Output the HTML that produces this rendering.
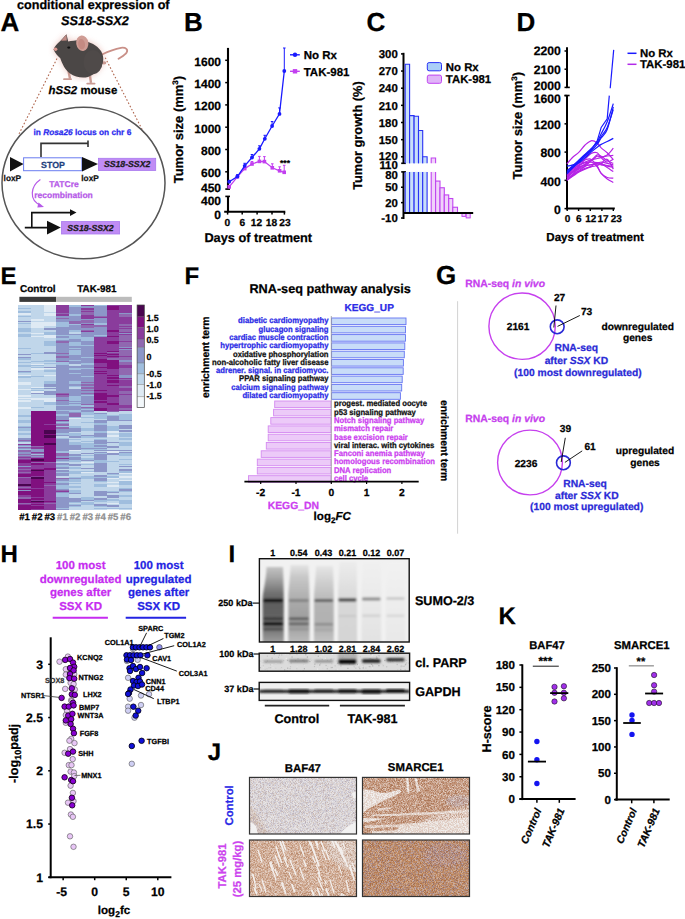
<!DOCTYPE html>
<html><head><meta charset="utf-8"><style>
html,body{margin:0;padding:0;background:#fff;}
svg{display:block;font-family:"Liberation Sans", sans-serif;text-rendering:geometricPrecision;}
</style></head><body>
<svg width="685" height="919" viewBox="0 0 685 919">
<defs>
<filter id="blur1" x="-20%" y="-20%" width="140%" height="140%"><feGaussianBlur stdDeviation="1"/></filter>
<filter id="blur2" x="-20%" y="-50%" width="140%" height="200%"><feGaussianBlur stdDeviation="1.6"/></filter>
<filter id="blur3" x="-10%" y="-10%" width="120%" height="120%"><feGaussianBlur stdDeviation="3"/></filter>
</defs>
<rect width="685" height="919" fill="#fff"/>
<text x="0.50" y="31.00" font-size="26" font-weight="bold" text-anchor="start" fill="#000" stroke="#000" stroke-width="0.25" >A</text>
<text x="17.00" y="9.20" font-size="12.6" font-weight="bold" text-anchor="start" fill="#000" stroke="#000" stroke-width="0.25" >conditional expression of</text>
<text x="61.00" y="24.60" font-size="12.7" font-weight="bold" text-anchor="start" fill="#000" font-style="italic" stroke="#000" stroke-width="0.25" >SS18-SSX2</text>
<line x1="57.00" y1="58.50" x2="18.60" y2="134.70" stroke="#b0674f" stroke-width="1.1" stroke-dasharray="1.6 2"/>
<line x1="105.20" y1="57.70" x2="144.60" y2="134.30" stroke="#b0674f" stroke-width="1.1" stroke-dasharray="1.6 2"/>
<path d="M53.5,49.4 C55,46 57,44 60.3,41 L67,34.3 L68.2,41.6 C72,41 78,40 83,40.5 C90,42 97,45 101,51 C104,56 104,62 101,67 C98,72 93,75 88,77 C82,78.5 75,77 70,73.5 C65,70 62,63 60.3,58.2 C58,56 55,53 53.5,49.4 Z" fill="#e8b0a8" opacity="0.75" filter="url(#blur3)"/>
<path d="M102,54.5 C107,52 114,49 121,47.8 C126,47.3 128.5,49.5 126.5,52.7 C125,55 121,57 118.5,58.8" stroke="#c99088" fill="none" stroke-width="1.8" stroke-linecap="round"/>
<path d="M68.5,71 L70,78.8 M90,76 L91,82.8" stroke="#c99a92" fill="none" stroke-width="2.4" />
<path d="M64,79.2 L71,79.2 M87.2,83.6 L94.6,83.6" stroke="#c99a92" fill="none" stroke-width="1.8" stroke-linecap="round"/>
<ellipse cx="104" cy="62.8" rx="2.4" ry="1.6" fill="#c99a92"/>
<path d="M53.5,49.4 C55,46 57,44 60.3,41 L66.5,34.3 L68.2,41.6 C72,41 78,40 83,40.5 C90,42 97,45 101,51 C104,56 104,62 101,67 C98,72 93,75 88,77 C82,78.5 75,77 70,73.5 C65,70 62,63 60.3,58.2 C58,56 55,53 53.5,49.4 Z" stroke="none" fill="#4b4746" stroke-width="1" />
<ellipse cx="93" cy="62" rx="9.5" ry="12" fill="#4f4a49"/>
<path d="M61,40.8 L66.5,34.6 L66.8,40.5 Z" stroke="none" fill="#c08a84" stroke-width="1" />
<circle cx="55.60" cy="49.20" r="1.80" fill="#d9968e" stroke="none" stroke-width="1" />
<ellipse cx="68.8" cy="47.6" rx="1.6" ry="1.1" fill="#111"/>
<ellipse cx="82.3" cy="43.2" rx="6.1" ry="7.8" fill="#cf9c94" transform="rotate(-8 82.3 43.2)"/>
<ellipse cx="81.6" cy="44.2" rx="3.4" ry="5.2" fill="#c48a82" transform="rotate(-8 81.6 44.2)"/>
<text x="48.60" y="94.10" font-size="11.45" font-weight="bold" text-anchor="start" fill="#000" stroke="#000" stroke-width="0.25" ><tspan font-style="italic">hSS2</tspan> mouse</text>
<ellipse cx="83.5" cy="183" rx="81.5" ry="75.8" fill="none" stroke="#555" stroke-width="1.5"/>
<text x="33.50" y="135.20" font-size="8.3" font-weight="bold" text-anchor="start" fill="#2b2bee" stroke="#2b2bee" stroke-width="0.25" >in <tspan font-style="italic">Rosa26</tspan> locus on chr 6</text>
<path d="M41,157 V143.4 H88 M88,140.5 V147" stroke="#333" fill="none" stroke-width="1.6" />
<polygon points="10,157 23.6,164 10,171.4" fill="#111"/>
<rect x="23.60" y="157.80" width="58.30" height="12.90" fill="#fff" stroke="#6a7cf0" stroke-width="1" />
<text x="53.00" y="167.60" font-size="8.8" font-weight="bold" text-anchor="middle" fill="#1f3f7e" stroke="#1f3f7e" stroke-width="0.25" >STOP</text>
<polygon points="82,157 98,164 82,171.4" fill="#111"/>
<rect x="98.50" y="158.30" width="57.20" height="12.20" fill="#c08cf5" stroke="#a878ee" stroke-width="0.8" />
<text x="127.10" y="167.40" font-size="8.7" font-weight="bold" text-anchor="middle" fill="#1a1a1a" font-style="italic" stroke="#1a1a1a" stroke-width="0.25" >SS18-SSX2</text>
<text x="3.60" y="181.00" font-size="8.3" font-weight="bold" text-anchor="start" fill="#111" stroke="#111" stroke-width="0.25" >loxP</text>
<text x="81.30" y="181.00" font-size="8.3" font-weight="bold" text-anchor="start" fill="#111" stroke="#111" stroke-width="0.25" >loxP</text>
<path d="M40.4,179.6 C31,186 28,200 41,205.5" stroke="#b65ae8" fill="none" stroke-width="1.2" />
<polygon points="38.5,202.5 44,207 37.3,207.5" fill="#b65ae8"/>
<text x="64.00" y="187.30" font-size="8.5" font-weight="bold" text-anchor="middle" fill="#b65ae8" stroke="#b65ae8" stroke-width="0.25" >TATCre</text>
<text x="63.50" y="198.00" font-size="8.5" font-weight="bold" text-anchor="middle" fill="#b65ae8" stroke="#b65ae8" stroke-width="0.25" >recombination</text>
<path d="M24.8,227.6 H48 M31.8,227.6 V212.6 H71" stroke="#111" fill="none" stroke-width="1.6" />
<polygon points="70,209.2 76.5,212.6 70,216" fill="#111"/>
<polygon points="47,220.8 60.8,227.6 47,234.5" fill="#111"/>
<rect x="61.50" y="221.60" width="58.10" height="12.40" fill="#c08cf5" stroke="#a878ee" stroke-width="0.8" />
<text x="90.50" y="230.90" font-size="8.7" font-weight="bold" text-anchor="middle" fill="#1a1a1a" font-style="italic" stroke="#1a1a1a" stroke-width="0.25" >SS18-SSX2</text>
<text x="184.00" y="30.60" font-size="26" font-weight="bold" text-anchor="start" fill="#000" stroke="#000" stroke-width="0.25" >B</text>
<line x1="228.00" y1="47.90" x2="228.00" y2="189.10" stroke="#000" stroke-width="2.1" />
<line x1="225.30" y1="189.10" x2="230.00" y2="189.10" stroke="#000" stroke-width="1.6" />
<line x1="225.20" y1="60.30" x2="228.00" y2="60.30" stroke="#000" stroke-width="1.5" />
<text x="221.00" y="65.80" font-size="12" font-weight="bold" text-anchor="end" fill="#000" stroke="#000" stroke-width="0.25" >1600</text>
<line x1="225.20" y1="82.60" x2="228.00" y2="82.60" stroke="#000" stroke-width="1.5" />
<text x="221.00" y="88.10" font-size="12" font-weight="bold" text-anchor="end" fill="#000" stroke="#000" stroke-width="0.25" >1400</text>
<line x1="225.20" y1="104.90" x2="228.00" y2="104.90" stroke="#000" stroke-width="1.5" />
<text x="221.00" y="110.40" font-size="12" font-weight="bold" text-anchor="end" fill="#000" stroke="#000" stroke-width="0.25" >1200</text>
<line x1="225.20" y1="127.20" x2="228.00" y2="127.20" stroke="#000" stroke-width="1.5" />
<text x="221.00" y="132.70" font-size="12" font-weight="bold" text-anchor="end" fill="#000" stroke="#000" stroke-width="0.25" >1000</text>
<line x1="225.20" y1="149.50" x2="228.00" y2="149.50" stroke="#000" stroke-width="1.5" />
<text x="221.00" y="155.00" font-size="12" font-weight="bold" text-anchor="end" fill="#000" stroke="#000" stroke-width="0.25" >800</text>
<line x1="225.20" y1="171.80" x2="228.00" y2="171.80" stroke="#000" stroke-width="1.5" />
<text x="221.00" y="177.30" font-size="12" font-weight="bold" text-anchor="end" fill="#000" stroke="#000" stroke-width="0.25" >600</text>
<text x="221.00" y="191.90" font-size="12" font-weight="bold" text-anchor="end" fill="#000" stroke="#000" stroke-width="0.25" >450</text>
<line x1="228.00" y1="196.40" x2="228.00" y2="212.30" stroke="#000" stroke-width="2.1" />
<line x1="225.30" y1="196.40" x2="230.00" y2="196.40" stroke="#000" stroke-width="1.6" />
<text x="221.00" y="204.80" font-size="12" font-weight="bold" text-anchor="end" fill="#000" stroke="#000" stroke-width="0.25" >400</text>
<text x="221.00" y="218.60" font-size="12" font-weight="bold" text-anchor="end" fill="#000" stroke="#000" stroke-width="0.25" >0</text>
<line x1="224.20" y1="211.80" x2="285.30" y2="211.80" stroke="#000" stroke-width="2.1" />
<line x1="227.60" y1="211.80" x2="227.60" y2="214.60" stroke="#000" stroke-width="1.5" />
<text x="227.40" y="225.90" font-size="10.2" font-weight="bold" text-anchor="middle" fill="#000" stroke="#000" stroke-width="0.25" >0</text>
<line x1="242.20" y1="211.80" x2="242.20" y2="214.60" stroke="#000" stroke-width="1.5" />
<text x="242.40" y="225.90" font-size="10.2" font-weight="bold" text-anchor="middle" fill="#000" stroke="#000" stroke-width="0.25" >6</text>
<line x1="257.10" y1="211.80" x2="257.10" y2="214.60" stroke="#000" stroke-width="1.5" />
<text x="256.50" y="225.90" font-size="10.2" font-weight="bold" text-anchor="middle" fill="#000" stroke="#000" stroke-width="0.25" >12</text>
<line x1="272.00" y1="211.80" x2="272.00" y2="214.60" stroke="#000" stroke-width="1.5" />
<text x="271.50" y="225.90" font-size="10.2" font-weight="bold" text-anchor="middle" fill="#000" stroke="#000" stroke-width="0.25" >18</text>
<line x1="284.40" y1="211.80" x2="284.40" y2="214.60" stroke="#000" stroke-width="1.5" />
<text x="284.90" y="225.90" font-size="10.2" font-weight="bold" text-anchor="middle" fill="#000" stroke="#000" stroke-width="0.25" >23</text>
<text x="204.40" y="241.90" font-size="12.75" font-weight="bold" text-anchor="start" fill="#000" stroke="#000" stroke-width="0.25" >Days of treatment</text>
<text x="0.00" y="0.00" font-size="13" font-weight="bold" text-anchor="middle" fill="#000" stroke="#000" stroke-width="0.25" transform="translate(183.2 129.6) rotate(-90)">Tumor size (mm<tspan font-size="8" dy="-5">3</tspan><tspan dy="5">)</tspan></text>
<path d="M229.2,186.9 L237.4,176.8 L244.7,168.6 L252.0,164.0 L259.4,161.4 L264.4,161.6 L272.3,167.8 L279.6,170.8 L284.2,172.3" stroke="#c23ff0" fill="none" stroke-width="1.3" />
<line x1="229.20" y1="186.90" x2="229.20" y2="185.40" stroke="#c23ff0" stroke-width="1" />
<line x1="227.90" y1="185.40" x2="230.50" y2="185.40" stroke="#c23ff0" stroke-width="1" />
<rect x="227.40" y="185.10" width="3.60" height="3.60" fill="#c23ff0" stroke="none" stroke-width="1" />
<line x1="237.40" y1="176.80" x2="237.40" y2="175.30" stroke="#c23ff0" stroke-width="1" />
<line x1="236.10" y1="175.30" x2="238.70" y2="175.30" stroke="#c23ff0" stroke-width="1" />
<rect x="235.60" y="175.00" width="3.60" height="3.60" fill="#c23ff0" stroke="none" stroke-width="1" />
<line x1="244.70" y1="168.60" x2="244.70" y2="166.60" stroke="#c23ff0" stroke-width="1" />
<line x1="243.40" y1="166.60" x2="246.00" y2="166.60" stroke="#c23ff0" stroke-width="1" />
<rect x="242.90" y="166.80" width="3.60" height="3.60" fill="#c23ff0" stroke="none" stroke-width="1" />
<line x1="252.00" y1="164.00" x2="252.00" y2="161.50" stroke="#c23ff0" stroke-width="1" />
<line x1="250.70" y1="161.50" x2="253.30" y2="161.50" stroke="#c23ff0" stroke-width="1" />
<rect x="250.20" y="162.20" width="3.60" height="3.60" fill="#c23ff0" stroke="none" stroke-width="1" />
<line x1="259.40" y1="161.40" x2="259.40" y2="156.40" stroke="#c23ff0" stroke-width="1" />
<line x1="258.10" y1="156.40" x2="260.70" y2="156.40" stroke="#c23ff0" stroke-width="1" />
<rect x="257.60" y="159.60" width="3.60" height="3.60" fill="#c23ff0" stroke="none" stroke-width="1" />
<line x1="264.40" y1="161.60" x2="264.40" y2="156.60" stroke="#c23ff0" stroke-width="1" />
<line x1="263.10" y1="156.60" x2="265.70" y2="156.60" stroke="#c23ff0" stroke-width="1" />
<rect x="262.60" y="159.80" width="3.60" height="3.60" fill="#c23ff0" stroke="none" stroke-width="1" />
<line x1="272.30" y1="167.80" x2="272.30" y2="163.80" stroke="#c23ff0" stroke-width="1" />
<line x1="271.00" y1="163.80" x2="273.60" y2="163.80" stroke="#c23ff0" stroke-width="1" />
<rect x="270.50" y="166.00" width="3.60" height="3.60" fill="#c23ff0" stroke="none" stroke-width="1" />
<line x1="279.60" y1="170.80" x2="279.60" y2="166.80" stroke="#c23ff0" stroke-width="1" />
<line x1="278.30" y1="166.80" x2="280.90" y2="166.80" stroke="#c23ff0" stroke-width="1" />
<rect x="277.80" y="169.00" width="3.60" height="3.60" fill="#c23ff0" stroke="none" stroke-width="1" />
<line x1="284.20" y1="172.30" x2="284.20" y2="165.30" stroke="#c23ff0" stroke-width="1" />
<line x1="282.90" y1="165.30" x2="285.50" y2="165.30" stroke="#c23ff0" stroke-width="1" />
<rect x="282.40" y="170.50" width="3.60" height="3.60" fill="#c23ff0" stroke="none" stroke-width="1" />
<path d="M229.2,181.8 L237.4,176.6 L244.7,165.8 L252.0,157.5 L259.4,148.8 L264.8,138.8 L272.1,126.0 L279.5,113.9 L284.3,71.0" stroke="#1a1aff" fill="none" stroke-width="1.3" />
<line x1="229.20" y1="181.80" x2="229.20" y2="180.30" stroke="#1a1aff" stroke-width="1" />
<line x1="227.90" y1="180.30" x2="230.50" y2="180.30" stroke="#1a1aff" stroke-width="1" />
<circle cx="229.20" cy="181.80" r="1.90" fill="#1a1aff" stroke="none" stroke-width="1" />
<line x1="237.40" y1="176.60" x2="237.40" y2="174.60" stroke="#1a1aff" stroke-width="1" />
<line x1="236.10" y1="174.60" x2="238.70" y2="174.60" stroke="#1a1aff" stroke-width="1" />
<circle cx="237.40" cy="176.60" r="1.90" fill="#1a1aff" stroke="none" stroke-width="1" />
<line x1="244.70" y1="165.80" x2="244.70" y2="163.30" stroke="#1a1aff" stroke-width="1" />
<line x1="243.40" y1="163.30" x2="246.00" y2="163.30" stroke="#1a1aff" stroke-width="1" />
<circle cx="244.70" cy="165.80" r="1.90" fill="#1a1aff" stroke="none" stroke-width="1" />
<line x1="252.00" y1="157.50" x2="252.00" y2="154.50" stroke="#1a1aff" stroke-width="1" />
<line x1="250.70" y1="154.50" x2="253.30" y2="154.50" stroke="#1a1aff" stroke-width="1" />
<circle cx="252.00" cy="157.50" r="1.90" fill="#1a1aff" stroke="none" stroke-width="1" />
<line x1="259.40" y1="148.80" x2="259.40" y2="145.80" stroke="#1a1aff" stroke-width="1" />
<line x1="258.10" y1="145.80" x2="260.70" y2="145.80" stroke="#1a1aff" stroke-width="1" />
<circle cx="259.40" cy="148.80" r="1.90" fill="#1a1aff" stroke="none" stroke-width="1" />
<line x1="264.80" y1="138.80" x2="264.80" y2="135.30" stroke="#1a1aff" stroke-width="1" />
<line x1="263.50" y1="135.30" x2="266.10" y2="135.30" stroke="#1a1aff" stroke-width="1" />
<circle cx="264.80" cy="138.80" r="1.90" fill="#1a1aff" stroke="none" stroke-width="1" />
<line x1="272.10" y1="126.00" x2="272.10" y2="121.50" stroke="#1a1aff" stroke-width="1" />
<line x1="270.80" y1="121.50" x2="273.40" y2="121.50" stroke="#1a1aff" stroke-width="1" />
<circle cx="272.10" cy="126.00" r="1.90" fill="#1a1aff" stroke="none" stroke-width="1" />
<line x1="279.50" y1="113.90" x2="279.50" y2="107.90" stroke="#1a1aff" stroke-width="1" />
<line x1="278.20" y1="107.90" x2="280.80" y2="107.90" stroke="#1a1aff" stroke-width="1" />
<circle cx="279.50" cy="113.90" r="1.90" fill="#1a1aff" stroke="none" stroke-width="1" />
<line x1="284.30" y1="71.00" x2="284.30" y2="48.00" stroke="#1a1aff" stroke-width="1" />
<line x1="283.00" y1="48.00" x2="285.60" y2="48.00" stroke="#1a1aff" stroke-width="1" />
<circle cx="284.30" cy="71.00" r="1.90" fill="#1a1aff" stroke="none" stroke-width="1" />
<text x="285.00" y="165.50" font-size="8.5" font-weight="bold" text-anchor="middle" fill="#000" stroke="#000" stroke-width="0.25" >***</text>
<line x1="290.00" y1="54.80" x2="299.80" y2="54.80" stroke="#1a1aff" stroke-width="1.4" />
<circle cx="295.00" cy="54.80" r="2.20" fill="#1a1aff" stroke="none" stroke-width="1" />
<line x1="290.00" y1="71.30" x2="299.80" y2="71.30" stroke="#c23ff0" stroke-width="1.4" />
<rect x="292.80" y="69.10" width="4.40" height="4.40" fill="#c23ff0" stroke="none" stroke-width="1" />
<text x="303.70" y="59.00" font-size="11.5" font-weight="bold" text-anchor="start" fill="#000" stroke="#000" stroke-width="0.25" >No Rx</text>
<text x="303.70" y="75.90" font-size="11.5" font-weight="bold" text-anchor="start" fill="#000" stroke="#000" stroke-width="0.25" >TAK-981</text>
<text x="366.50" y="31.00" font-size="26" font-weight="bold" text-anchor="start" fill="#000" stroke="#000" stroke-width="0.25" >C</text>
<line x1="403.50" y1="52.80" x2="403.50" y2="163.30" stroke="#000" stroke-width="2.0" />
<line x1="401.20" y1="163.30" x2="406.00" y2="163.30" stroke="#000" stroke-width="1.6" />
<line x1="401.00" y1="53.90" x2="403.50" y2="53.90" stroke="#000" stroke-width="1.5" />
<text x="397.80" y="58.10" font-size="11.4" font-weight="bold" text-anchor="end" fill="#000" stroke="#000" stroke-width="0.25" >300</text>
<line x1="401.00" y1="71.05" x2="403.50" y2="71.05" stroke="#000" stroke-width="1.5" />
<text x="397.80" y="75.25" font-size="11.4" font-weight="bold" text-anchor="end" fill="#000" stroke="#000" stroke-width="0.25" >270</text>
<line x1="401.00" y1="88.20" x2="403.50" y2="88.20" stroke="#000" stroke-width="1.5" />
<text x="397.80" y="92.40" font-size="11.4" font-weight="bold" text-anchor="end" fill="#000" stroke="#000" stroke-width="0.25" >240</text>
<line x1="401.00" y1="105.35" x2="403.50" y2="105.35" stroke="#000" stroke-width="1.5" />
<text x="397.80" y="109.55" font-size="11.4" font-weight="bold" text-anchor="end" fill="#000" stroke="#000" stroke-width="0.25" >210</text>
<line x1="401.00" y1="122.50" x2="403.50" y2="122.50" stroke="#000" stroke-width="1.5" />
<text x="397.80" y="126.70" font-size="11.4" font-weight="bold" text-anchor="end" fill="#000" stroke="#000" stroke-width="0.25" >180</text>
<line x1="401.00" y1="139.65" x2="403.50" y2="139.65" stroke="#000" stroke-width="1.5" />
<text x="397.80" y="143.85" font-size="11.4" font-weight="bold" text-anchor="end" fill="#000" stroke="#000" stroke-width="0.25" >150</text>
<line x1="401.00" y1="156.80" x2="403.50" y2="156.80" stroke="#000" stroke-width="1.5" />
<text x="397.80" y="159.70" font-size="11.4" font-weight="bold" text-anchor="end" fill="#000" stroke="#000" stroke-width="0.25" >120</text>
<text x="397.80" y="168.70" font-size="11.4" font-weight="bold" text-anchor="end" fill="#000" stroke="#000" stroke-width="0.25" >110</text>
<line x1="403.50" y1="171.90" x2="403.50" y2="219.00" stroke="#000" stroke-width="2.0" />
<line x1="401.20" y1="171.90" x2="406.00" y2="171.90" stroke="#000" stroke-width="1.6" />
<text x="397.80" y="179.23" font-size="11.4" font-weight="bold" text-anchor="end" fill="#000" stroke="#000" stroke-width="0.25" >80</text>
<line x1="401.00" y1="187.23" x2="403.50" y2="187.23" stroke="#000" stroke-width="1.5" />
<text x="397.80" y="191.43" font-size="11.4" font-weight="bold" text-anchor="end" fill="#000" stroke="#000" stroke-width="0.25" >50</text>
<line x1="401.00" y1="202.63" x2="403.50" y2="202.63" stroke="#000" stroke-width="1.5" />
<text x="397.80" y="206.83" font-size="11.4" font-weight="bold" text-anchor="end" fill="#000" stroke="#000" stroke-width="0.25" >20</text>
<line x1="401.00" y1="218.03" x2="403.50" y2="218.03" stroke="#000" stroke-width="1.5" />
<text x="397.80" y="222.23" font-size="11.4" font-weight="bold" text-anchor="end" fill="#000" stroke="#000" stroke-width="0.25" >-10</text>
<line x1="403.50" y1="212.90" x2="473.10" y2="212.90" stroke="#000" stroke-width="2.0" />
<rect x="405.20" y="64.19" width="4.40" height="99.11" fill="#c9dff9" stroke="none" stroke-width="1" />
<rect x="405.20" y="171.90" width="4.40" height="41.00" fill="#c9dff9" stroke="none" stroke-width="1" />
<path d="M405.20,163.3 V64.19 H409.60 V163.3 M405.20,171.9 V212.9 M409.60,171.9 V212.9" stroke="#2a32f5" fill="none" stroke-width="1.1" />
<rect x="409.60" y="115.64" width="4.50" height="47.66" fill="#c9dff9" stroke="none" stroke-width="1" />
<rect x="409.60" y="171.90" width="4.50" height="41.00" fill="#c9dff9" stroke="none" stroke-width="1" />
<path d="M409.60,163.3 V115.64 H414.10 V163.3 M409.60,171.9 V212.9 M414.10,171.9 V212.9" stroke="#2a32f5" fill="none" stroke-width="1.1" />
<rect x="414.10" y="116.21" width="4.40" height="47.09" fill="#c9dff9" stroke="none" stroke-width="1" />
<rect x="414.10" y="171.90" width="4.40" height="41.00" fill="#c9dff9" stroke="none" stroke-width="1" />
<path d="M414.10,163.3 V116.21 H418.50 V163.3 M414.10,171.9 V212.9 M418.50,171.9 V212.9" stroke="#2a32f5" fill="none" stroke-width="1.1" />
<rect x="418.50" y="130.50" width="4.20" height="32.80" fill="#c9dff9" stroke="none" stroke-width="1" />
<rect x="418.50" y="171.90" width="4.20" height="41.00" fill="#c9dff9" stroke="none" stroke-width="1" />
<path d="M418.50,163.3 V130.50 H422.70 V163.3 M418.50,171.9 V212.9 M422.70,171.9 V212.9" stroke="#2a32f5" fill="none" stroke-width="1.1" />
<rect x="422.70" y="156.80" width="4.40" height="6.50" fill="#c9dff9" stroke="none" stroke-width="1" />
<rect x="422.70" y="171.90" width="4.40" height="41.00" fill="#c9dff9" stroke="none" stroke-width="1" />
<path d="M422.70,163.3 V156.80 H427.10 V163.3 M422.70,171.9 V212.9 M427.10,171.9 V212.9" stroke="#2a32f5" fill="none" stroke-width="1.1" />
<rect x="431.20" y="157.94" width="4.40" height="5.36" fill="#f0d2fa" stroke="none" stroke-width="1" />
<rect x="431.20" y="171.90" width="4.40" height="41.00" fill="#f0d2fa" stroke="none" stroke-width="1" />
<path d="M431.20,163.3 V157.94 H435.60 V163.3 M431.20,171.9 V212.9 M435.60,171.9 V212.9" stroke="#c044f0" fill="none" stroke-width="1.1" />
<rect x="435.60" y="181.07" width="4.40" height="31.83" fill="#f0d2fa" stroke="#c044f0" stroke-width="1.1" />
<rect x="440.00" y="187.75" width="4.30" height="25.15" fill="#f0d2fa" stroke="#c044f0" stroke-width="1.1" />
<rect x="444.30" y="194.93" width="4.40" height="17.97" fill="#f0d2fa" stroke="#c044f0" stroke-width="1.1" />
<rect x="448.70" y="198.53" width="4.10" height="14.37" fill="#f0d2fa" stroke="#c044f0" stroke-width="1.1" />
<rect x="452.80" y="207.25" width="4.70" height="5.65" fill="#f0d2fa" stroke="#c044f0" stroke-width="1.1" />
<rect x="462.00" y="212.90" width="3.80" height="3.50" fill="#f0d2fa" stroke="#c044f0" stroke-width="1" />
<rect x="466.20" y="212.90" width="4.00" height="5.00" fill="#f0d2fa" stroke="#c044f0" stroke-width="1" />
<line x1="403.50" y1="212.90" x2="473.10" y2="212.90" stroke="#000" stroke-width="2.0" />
<rect x="427.30" y="62.60" width="14.20" height="8.20" fill="#aacff8" stroke="#2a32f5" stroke-width="1" rx="1.8"/>
<rect x="427.30" y="75.10" width="14.20" height="8.20" fill="#e0b4f8" stroke="#c044f0" stroke-width="1" rx="1.8"/>
<text x="445.80" y="70.60" font-size="11.4" font-weight="bold" text-anchor="start" fill="#000" stroke="#000" stroke-width="0.25" >No Rx</text>
<text x="445.80" y="83.20" font-size="11.4" font-weight="bold" text-anchor="start" fill="#000" stroke="#000" stroke-width="0.25" >TAK-981</text>
<text x="0.00" y="0.00" font-size="12.8" font-weight="bold" text-anchor="middle" fill="#000" stroke="#000" stroke-width="0.25" transform="translate(361.6 135.6) rotate(-90)">Tumor growth (%)</text>
<text x="516.50" y="31.30" font-size="26" font-weight="bold" text-anchor="start" fill="#000" stroke="#000" stroke-width="0.25" >D</text>
<line x1="567.00" y1="47.30" x2="567.00" y2="87.40" stroke="#000" stroke-width="2.0" />
<line x1="566.20" y1="87.40" x2="569.80" y2="87.40" stroke="#000" stroke-width="1.6" />
<line x1="564.50" y1="51.00" x2="567.00" y2="51.00" stroke="#000" stroke-width="1.5" />
<text x="560.80" y="55.30" font-size="12.2" font-weight="bold" text-anchor="end" fill="#000" stroke="#000" stroke-width="0.25" >2200</text>
<line x1="564.50" y1="69.20" x2="567.00" y2="69.20" stroke="#000" stroke-width="1.5" />
<text x="560.80" y="73.50" font-size="12.2" font-weight="bold" text-anchor="end" fill="#000" stroke="#000" stroke-width="0.25" >2100</text>
<line x1="564.50" y1="87.40" x2="567.00" y2="87.40" stroke="#000" stroke-width="1.5" />
<text x="560.80" y="89.90" font-size="12.2" font-weight="bold" text-anchor="end" fill="#000" stroke="#000" stroke-width="0.25" >2000</text>
<line x1="567.00" y1="95.50" x2="567.00" y2="208.60" stroke="#000" stroke-width="2.0" />
<line x1="564.50" y1="95.50" x2="569.60" y2="95.50" stroke="#000" stroke-width="1.6" />
<line x1="564.50" y1="95.60" x2="567.00" y2="95.60" stroke="#000" stroke-width="1.5" />
<text x="560.80" y="102.70" font-size="12.2" font-weight="bold" text-anchor="end" fill="#000" stroke="#000" stroke-width="0.25" >1600</text>
<line x1="564.50" y1="123.85" x2="567.00" y2="123.85" stroke="#000" stroke-width="1.5" />
<text x="560.80" y="129.15" font-size="12.2" font-weight="bold" text-anchor="end" fill="#000" stroke="#000" stroke-width="0.25" >1200</text>
<line x1="564.50" y1="152.10" x2="567.00" y2="152.10" stroke="#000" stroke-width="1.5" />
<text x="560.80" y="157.40" font-size="12.2" font-weight="bold" text-anchor="end" fill="#000" stroke="#000" stroke-width="0.25" >800</text>
<line x1="564.50" y1="180.35" x2="567.00" y2="180.35" stroke="#000" stroke-width="1.5" />
<text x="560.80" y="185.65" font-size="12.2" font-weight="bold" text-anchor="end" fill="#000" stroke="#000" stroke-width="0.25" >400</text>
<line x1="564.50" y1="208.60" x2="567.00" y2="208.60" stroke="#000" stroke-width="1.5" />
<text x="560.80" y="213.90" font-size="12.2" font-weight="bold" text-anchor="end" fill="#000" stroke="#000" stroke-width="0.25" >0</text>
<line x1="566.00" y1="208.60" x2="614.80" y2="208.60" stroke="#000" stroke-width="2.0" />
<line x1="567.20" y1="208.60" x2="567.20" y2="211.00" stroke="#000" stroke-width="1.4" />
<text x="567.50" y="222.00" font-size="10.0" font-weight="bold" text-anchor="middle" fill="#000" stroke="#000" stroke-width="0.25" >0</text>
<line x1="578.60" y1="208.60" x2="578.60" y2="211.00" stroke="#000" stroke-width="1.4" />
<text x="578.70" y="222.00" font-size="10.0" font-weight="bold" text-anchor="middle" fill="#000" stroke="#000" stroke-width="0.25" >6</text>
<line x1="590.30" y1="208.60" x2="590.30" y2="211.00" stroke="#000" stroke-width="1.4" />
<text x="590.80" y="222.00" font-size="10.0" font-weight="bold" text-anchor="middle" fill="#000" stroke="#000" stroke-width="0.25" >12</text>
<line x1="601.90" y1="208.60" x2="601.90" y2="211.00" stroke="#000" stroke-width="1.4" />
<text x="603.00" y="222.00" font-size="10.0" font-weight="bold" text-anchor="middle" fill="#000" stroke="#000" stroke-width="0.25" >17</text>
<line x1="613.30" y1="208.60" x2="613.30" y2="211.00" stroke="#000" stroke-width="1.4" />
<text x="616.30" y="222.00" font-size="10.0" font-weight="bold" text-anchor="middle" fill="#000" stroke="#000" stroke-width="0.25" >23</text>
<text x="546.30" y="241.30" font-size="11.55" font-weight="bold" text-anchor="start" fill="#000" stroke="#000" stroke-width="0.25" >Days of treatment</text>
<text x="0.00" y="0.00" font-size="13" font-weight="bold" text-anchor="middle" fill="#000" stroke="#000" stroke-width="0.25" transform="translate(521.6 125.7) rotate(-90)">Tumor size (mm<tspan font-size="8" dy="-5">3</tspan><tspan dy="5">)</tspan></text>
<line x1="627.50" y1="53.30" x2="636.50" y2="53.30" stroke="#1a1aff" stroke-width="1.5" />
<line x1="627.50" y1="64.30" x2="636.50" y2="64.30" stroke="#b22ae8" stroke-width="1.5" />
<text x="640.00" y="56.80" font-size="11.4" font-weight="bold" text-anchor="start" fill="#000" stroke="#000" stroke-width="0.25" >No Rx</text>
<text x="640.00" y="67.90" font-size="11.4" font-weight="bold" text-anchor="start" fill="#000" stroke="#000" stroke-width="0.25" >TAK-981</text>
<path d="M566.9,164.0 C567.9,162.8 570.9,159.0 573.0,157.0 C575.0,155.1 577.0,154.1 579.0,152.1 C581.0,150.1 583.0,146.9 585.1,145.0 C587.1,143.2 589.1,141.2 591.1,140.8 C593.1,140.4 595.5,141.7 597.2,142.9 C598.8,144.1 599.5,146.2 601.2,147.9 C602.9,149.5 605.2,150.9 607.2,152.8 C609.3,154.8 612.3,158.5 613.3,159.6" stroke="#b523e6" fill="none" stroke-width="1.2" />
<path d="M566.9,174.7 C567.9,173.8 570.9,170.7 573.0,169.1 C575.0,167.4 577.0,166.0 579.0,164.8 C581.0,163.6 583.0,162.8 585.1,162.0 C587.1,161.2 589.1,160.5 591.1,159.9 C593.1,159.3 595.5,158.9 597.2,158.5 C598.8,158.1 599.5,158.1 601.2,157.5 C602.9,156.9 605.2,156.5 607.2,154.9 C609.3,153.4 612.3,149.3 613.3,148.2" stroke="#b523e6" fill="none" stroke-width="1.2" />
<path d="M566.9,178.2 C567.9,177.2 570.9,173.6 573.0,171.9 C575.0,170.1 577.0,168.9 579.0,167.6 C581.0,166.3 583.0,165.3 585.1,164.1 C587.1,162.9 589.1,161.9 591.1,160.6 C593.1,159.3 595.5,156.9 597.2,156.3 C598.8,155.7 599.5,157.1 601.2,157.0 C602.9,157.0 605.2,156.3 607.2,156.0 C609.3,155.7 612.3,155.4 613.3,155.3" stroke="#b523e6" fill="none" stroke-width="1.2" />
<path d="M566.9,175.4 C567.9,174.3 570.9,170.7 573.0,169.1 C575.0,167.4 577.0,166.6 579.0,165.5 C581.0,164.5 583.0,163.3 585.1,162.7 C587.1,162.1 589.1,162.0 591.1,162.0 C593.1,162.0 595.5,162.3 597.2,162.7 C598.8,163.0 599.5,163.6 601.2,164.1 C602.9,164.6 605.2,165.2 607.2,165.5 C609.3,165.9 612.3,166.1 613.3,166.2" stroke="#b523e6" fill="none" stroke-width="1.2" />
<path d="M566.9,179.6 C567.9,178.7 570.9,175.8 573.0,174.0 C575.0,172.2 577.0,170.3 579.0,169.1 C581.0,167.8 583.0,167.0 585.1,166.2 C587.1,165.5 589.1,164.8 591.1,164.5 C593.1,164.1 595.5,164.0 597.2,164.1 C598.8,164.2 599.5,164.5 601.2,164.8 C602.9,165.2 605.2,165.8 607.2,166.2 C609.3,166.6 612.3,167.1 613.3,167.3" stroke="#b523e6" fill="none" stroke-width="1.2" />
<path d="M566.9,180.3 C567.9,179.5 570.9,176.9 573.0,175.4 C575.0,173.9 577.0,172.3 579.0,171.2 C581.0,170.0 583.0,169.2 585.1,168.3 C587.1,167.5 589.1,167.2 591.1,166.2 C593.1,165.3 595.5,163.2 597.2,162.7 C598.8,162.2 599.5,162.6 601.2,163.4 C602.9,164.2 605.2,166.3 607.2,167.6 C609.3,169.0 612.3,170.9 613.3,171.6" stroke="#b523e6" fill="none" stroke-width="1.2" />
<path d="M566.9,173.3 C567.9,172.3 570.9,169.3 573.0,167.6 C575.0,166.0 577.0,164.7 579.0,163.4 C581.0,162.1 583.0,160.6 585.1,159.9 C587.1,159.2 589.1,158.1 591.1,159.2 C593.1,160.2 595.5,163.9 597.2,166.2 C598.8,168.6 599.5,171.4 601.2,173.3 C602.9,175.2 605.2,176.7 607.2,177.5 C609.3,178.3 612.3,178.0 613.3,178.1" stroke="#b523e6" fill="none" stroke-width="1.2" />
<path d="M566.9,177.5 C567.9,176.7 570.9,174.1 573.0,172.6 C575.0,171.1 577.0,169.6 579.0,168.3 C581.0,167.0 583.0,165.9 585.1,164.8 C587.1,163.8 589.1,161.6 591.1,162.0 C593.1,162.3 595.5,165.0 597.2,166.9 C598.8,168.8 599.5,171.3 601.2,173.3 C602.9,175.3 605.2,177.4 607.2,178.9 C609.3,180.5 612.3,181.9 613.3,182.5" stroke="#b523e6" fill="none" stroke-width="1.2" />
<path d="M566.9,178.9 C567.9,178.2 570.9,176.1 573.0,174.7 C575.0,173.3 577.0,171.9 579.0,170.5 C581.0,169.0 583.0,167.9 585.1,166.2 C587.1,164.6 589.1,162.5 591.1,160.6 C593.1,158.7 595.5,155.6 597.2,154.9 C598.8,154.2 599.5,155.4 601.2,156.3 C602.9,157.3 605.2,159.4 607.2,160.6 C609.3,161.8 612.3,162.9 613.3,163.4" stroke="#b523e6" fill="none" stroke-width="1.2" />
<path d="M566.9,176.8 C567.9,175.9 570.9,172.9 573.0,171.2 C575.0,169.4 577.0,168.2 579.0,166.2 C581.0,164.2 583.0,161.3 585.1,159.2 C587.1,157.0 589.1,154.6 591.1,153.5 C593.1,152.5 595.5,152.1 597.2,152.8 C598.8,153.5 599.5,156.2 601.2,157.8 C602.9,159.3 605.2,161.8 607.2,162.0 C609.3,162.2 612.3,159.6 613.3,159.2" stroke="#b523e6" fill="none" stroke-width="1.2" />
<path d="M566.9,180.3 C567.9,179.6 570.9,177.5 573.0,176.1 C575.0,174.7 577.0,173.1 579.0,171.9 C581.0,170.7 583.0,169.9 585.1,169.1 C587.1,168.2 589.1,167.5 591.1,166.9 C593.1,166.3 595.5,166.1 597.2,165.5 C598.8,164.9 599.5,164.5 601.2,163.4 C602.9,162.3 605.2,158.2 607.2,159.2 C609.3,160.1 612.3,167.4 613.3,169.1" stroke="#b523e6" fill="none" stroke-width="1.2" />
<path d="M566.9,176.1 C567.9,175.2 570.9,172.0 573.0,170.5 C575.0,168.9 577.0,167.8 579.0,166.9 C581.0,166.1 583.0,165.9 585.1,165.5 C587.1,165.2 589.1,165.2 591.1,164.8 C593.1,164.5 595.5,163.9 597.2,163.4 C598.8,162.9 599.5,162.0 601.2,162.0 C602.9,162.0 605.2,162.9 607.2,163.4 C609.3,163.9 612.3,164.6 613.3,164.8" stroke="#b523e6" fill="none" stroke-width="1.2" />
<path d="M566.9,173.3 C567.9,172.2 570.9,169.0 573.0,166.9 C575.0,164.8 577.0,162.6 579.0,160.6 C581.0,158.6 583.0,156.8 585.1,154.9 C587.1,153.0 589.1,151.5 591.1,149.3 C593.1,147.0 595.5,144.1 597.2,141.5 C598.8,138.9 599.5,137.0 601.2,133.7 C602.9,130.4 605.2,126.8 607.2,121.7 C609.3,116.7 612.3,106.6 613.3,103.6" stroke="#1a1aff" fill="none" stroke-width="1.2" />
<path d="M566.9,171.9 C567.9,170.8 570.9,167.5 573.0,165.5 C575.0,163.5 577.0,161.8 579.0,159.9 C581.0,158.0 583.0,156.1 585.1,154.2 C587.1,152.3 589.1,150.5 591.1,148.6 C593.1,146.7 595.5,144.9 597.2,142.9 C598.8,140.9 599.5,139.2 601.2,136.6 C602.9,134.0 605.2,131.9 607.2,127.4 C609.3,122.9 612.3,112.5 613.3,109.6" stroke="#1a1aff" fill="none" stroke-width="1.2" />
<path d="M566.9,166.2 C567.9,166.0 570.9,165.4 573.0,164.8 C575.0,164.2 577.0,163.9 579.0,162.7 C581.0,161.5 583.0,159.5 585.1,157.8 C587.1,156.0 589.1,153.9 591.1,152.1 C593.1,150.3 595.5,148.4 597.2,147.2 C598.8,145.9 599.5,145.3 601.2,144.4 C602.9,143.5 605.2,142.5 607.2,141.5 C609.3,140.5 612.3,138.9 613.3,138.4" stroke="#1a1aff" fill="none" stroke-width="1.2" />
<path d="M566.9,174.0 C567.9,172.9 570.9,169.6 573.0,167.6 C575.0,165.6 577.0,163.9 579.0,162.0 C581.0,160.1 583.0,158.2 585.1,156.3 C587.1,154.5 589.1,152.7 591.1,150.7 C593.1,148.7 595.5,146.5 597.2,144.3 C598.8,142.2 599.5,140.4 601.2,138.0 C602.9,135.5 605.2,134.7 607.2,129.5 C609.3,124.3 612.3,110.7 613.3,106.9" stroke="#1a1aff" fill="none" stroke-width="1.2" />
<path d="M566.9,170.5 L573.0,166.2 L579.0,161.3 L585.1,155.6 L591.1,150.0 L597.2,140.8 L601.2,127.4 L607.2,118.8 L609.3,95.6" stroke="#1a1aff" fill="none" stroke-width="1.2" />
<line x1="610.20" y1="88.20" x2="613.70" y2="49.90" stroke="#1a1aff" stroke-width="1.2" />
<text x="0.50" y="284.20" font-size="24" font-weight="bold" text-anchor="start" fill="#000" stroke="#000" stroke-width="0.25" >E</text>
<text x="20.00" y="292.30" font-size="10.0" font-weight="bold" text-anchor="start" fill="#000" stroke="#000" stroke-width="0.25" >Control</text>
<text x="77.30" y="292.30" font-size="9.85" font-weight="bold" text-anchor="start" fill="#000" stroke="#000" stroke-width="0.25" >TAK-981</text>
<rect x="19.40" y="296.80" width="36.80" height="5.10" fill="#3a3a3a" stroke="none" stroke-width="1" />
<rect x="56.20" y="296.80" width="75.60" height="5.10" fill="#bcbcbc" stroke="none" stroke-width="1" />
<g shape-rendering="crispEdges">
<rect x="18.2" y="304.6" width="12.9" height="3.3" fill="#c0d6ea"/>
<rect x="18.2" y="307.6" width="12.9" height="1.3" fill="#a0bede"/>
<rect x="18.2" y="308.6" width="12.9" height="2.3" fill="#c0d6ea"/>
<rect x="18.2" y="310.6" width="12.9" height="2.3" fill="#a0bede"/>
<rect x="18.2" y="312.6" width="12.9" height="2.3" fill="#dfeaf4"/>
<rect x="18.2" y="314.6" width="12.9" height="1.3" fill="#c0d6ea"/>
<rect x="18.2" y="315.6" width="12.9" height="1.3" fill="#a0bede"/>
<rect x="18.2" y="316.6" width="12.9" height="4.3" fill="#c0d6ea"/>
<rect x="18.2" y="320.6" width="12.9" height="1.3" fill="#8c96c8"/>
<rect x="18.2" y="321.6" width="12.9" height="1.3" fill="#c0d6ea"/>
<rect x="18.2" y="322.7" width="12.9" height="1.3" fill="#a0bede"/>
<rect x="18.2" y="323.7" width="12.9" height="4.3" fill="#c0d6ea"/>
<rect x="18.2" y="327.7" width="12.9" height="4.3" fill="#a0bede"/>
<rect x="18.2" y="331.7" width="12.9" height="2.3" fill="#c0d6ea"/>
<rect x="18.2" y="333.7" width="12.9" height="3.3" fill="#a0bede"/>
<rect x="18.2" y="336.7" width="12.9" height="11.3" fill="#c0d6ea"/>
<rect x="18.2" y="347.7" width="12.9" height="1.3" fill="#a0bede"/>
<rect x="18.2" y="348.7" width="12.9" height="5.3" fill="#c0d6ea"/>
<rect x="18.2" y="353.7" width="12.9" height="1.3" fill="#8c96c8"/>
<rect x="18.2" y="354.7" width="12.9" height="2.3" fill="#c0d6ea"/>
<rect x="18.2" y="356.7" width="12.9" height="1.3" fill="#8c96c8"/>
<rect x="18.2" y="357.8" width="12.9" height="2.3" fill="#a0bede"/>
<rect x="18.2" y="359.8" width="12.9" height="2.3" fill="#c0d6ea"/>
<rect x="18.2" y="361.8" width="12.9" height="1.3" fill="#a0bede"/>
<rect x="18.2" y="362.8" width="12.9" height="2.3" fill="#c0d6ea"/>
<rect x="18.2" y="364.8" width="12.9" height="2.3" fill="#a0bede"/>
<rect x="18.2" y="366.8" width="12.9" height="4.3" fill="#c0d6ea"/>
<rect x="18.2" y="370.8" width="12.9" height="1.3" fill="#8c96c8"/>
<rect x="18.2" y="371.8" width="12.9" height="1.3" fill="#a0bede"/>
<rect x="18.2" y="372.8" width="12.9" height="2.3" fill="#c0d6ea"/>
<rect x="18.2" y="374.8" width="12.9" height="1.3" fill="#dfeaf4"/>
<rect x="18.2" y="375.8" width="12.9" height="2.3" fill="#a0bede"/>
<rect x="18.2" y="377.8" width="12.9" height="4.3" fill="#c0d6ea"/>
<rect x="18.2" y="381.8" width="12.9" height="3.3" fill="#dfeaf4"/>
<rect x="18.2" y="384.8" width="12.9" height="4.3" fill="#c0d6ea"/>
<rect x="18.2" y="388.8" width="12.9" height="1.3" fill="#dfeaf4"/>
<rect x="18.2" y="389.8" width="12.9" height="5.3" fill="#c0d6ea"/>
<rect x="18.2" y="394.9" width="12.9" height="2.3" fill="#dfeaf4"/>
<rect x="18.2" y="396.9" width="12.9" height="1.3" fill="#c0d6ea"/>
<rect x="18.2" y="397.9" width="12.9" height="1.3" fill="#dfeaf4"/>
<rect x="18.2" y="398.9" width="12.9" height="1.3" fill="#c0d6ea"/>
<rect x="18.2" y="399.9" width="12.9" height="2.3" fill="#dfeaf4"/>
<rect x="18.2" y="401.9" width="12.9" height="5.3" fill="#c0d6ea"/>
<rect x="18.2" y="406.9" width="12.9" height="2.3" fill="#dfeaf4"/>
<rect x="18.2" y="408.9" width="12.9" height="6.3" fill="#c0d6ea"/>
<rect x="18.2" y="414.9" width="12.9" height="2.3" fill="#a0bede"/>
<rect x="18.2" y="416.9" width="12.9" height="3.3" fill="#c0d6ea"/>
<rect x="18.2" y="419.9" width="12.9" height="3.3" fill="#a0bede"/>
<rect x="18.2" y="422.9" width="12.9" height="3.3" fill="#c0d6ea"/>
<rect x="18.2" y="425.8" width="12.9" height="1.3" fill="#a0bede"/>
<rect x="18.2" y="426.8" width="12.9" height="1.3" fill="#8c96c8"/>
<rect x="18.2" y="427.8" width="12.9" height="3.3" fill="#a0bede"/>
<rect x="18.2" y="430.8" width="12.9" height="2.3" fill="#c0d6ea"/>
<rect x="18.2" y="432.8" width="12.9" height="2.3" fill="#a0bede"/>
<rect x="18.2" y="434.8" width="12.9" height="3.3" fill="#c0d6ea"/>
<rect x="18.2" y="437.8" width="12.9" height="2.3" fill="#8c96c8"/>
<rect x="18.2" y="439.8" width="12.9" height="1.3" fill="#9068b0"/>
<rect x="18.2" y="440.8" width="12.9" height="1.3" fill="#8c96c8"/>
<rect x="18.2" y="441.8" width="12.9" height="2.3" fill="#c0d6ea"/>
<rect x="18.2" y="443.8" width="12.9" height="1.3" fill="#8a3c9c"/>
<rect x="18.2" y="444.8" width="12.9" height="1.3" fill="#8c96c8"/>
<rect x="18.2" y="445.8" width="12.9" height="1.3" fill="#a0bede"/>
<rect x="18.2" y="446.8" width="12.9" height="1.3" fill="#9068b0"/>
<rect x="18.2" y="447.8" width="12.9" height="1.3" fill="#8c96c8"/>
<rect x="18.2" y="448.7" width="12.9" height="1.3" fill="#a0bede"/>
<rect x="18.2" y="449.7" width="12.9" height="2.3" fill="#9068b0"/>
<rect x="18.2" y="451.7" width="12.9" height="2.3" fill="#8c96c8"/>
<rect x="18.2" y="453.7" width="12.9" height="1.3" fill="#9068b0"/>
<rect x="18.2" y="454.7" width="12.9" height="1.3" fill="#8c96c8"/>
<rect x="18.2" y="455.7" width="12.9" height="1.3" fill="#9068b0"/>
<rect x="18.2" y="456.7" width="12.9" height="1.3" fill="#8a3c9c"/>
<rect x="18.2" y="457.7" width="12.9" height="1.3" fill="#9068b0"/>
<rect x="18.2" y="458.7" width="12.9" height="1.3" fill="#8a3c9c"/>
<rect x="18.2" y="459.7" width="12.9" height="3.3" fill="#80107f"/>
<rect x="18.2" y="462.7" width="12.9" height="3.3" fill="#8a3c9c"/>
<rect x="18.2" y="465.7" width="12.9" height="1.3" fill="#8c96c8"/>
<rect x="18.2" y="466.7" width="12.9" height="2.3" fill="#8a3c9c"/>
<rect x="18.2" y="468.7" width="12.9" height="1.3" fill="#9068b0"/>
<rect x="18.2" y="469.7" width="12.9" height="2.3" fill="#8a3c9c"/>
<rect x="18.2" y="471.7" width="12.9" height="1.3" fill="#9068b0"/>
<rect x="18.2" y="472.6" width="12.9" height="1.3" fill="#8a3c9c"/>
<rect x="18.2" y="473.6" width="12.9" height="3.3" fill="#80107f"/>
<rect x="18.2" y="476.6" width="12.9" height="1.3" fill="#9068b0"/>
<rect x="18.2" y="477.6" width="12.9" height="6.3" fill="#8a3c9c"/>
<rect x="18.2" y="483.6" width="12.9" height="2.3" fill="#4a0550"/>
<rect x="18.2" y="485.6" width="12.9" height="1.3" fill="#8a3c9c"/>
<rect x="18.2" y="486.6" width="12.9" height="1.3" fill="#9068b0"/>
<rect x="18.2" y="487.6" width="12.9" height="1.3" fill="#8a3c9c"/>
<rect x="18.2" y="488.6" width="12.9" height="1.3" fill="#80107f"/>
<rect x="18.2" y="489.6" width="12.9" height="1.3" fill="#8c96c8"/>
<rect x="18.2" y="490.6" width="12.9" height="4.3" fill="#80107f"/>
<rect x="18.2" y="494.6" width="12.9" height="2.3" fill="#8a3c9c"/>
<rect x="18.2" y="496.6" width="12.9" height="2.3" fill="#9068b0"/>
<rect x="18.2" y="498.5" width="12.9" height="4.3" fill="#80107f"/>
<rect x="18.2" y="502.5" width="12.9" height="1.3" fill="#9068b0"/>
<rect x="18.2" y="503.5" width="12.9" height="1.3" fill="#8a3c9c"/>
<rect x="18.2" y="504.5" width="12.9" height="5.3" fill="#80107f"/>
<rect x="30.8" y="304.6" width="12.9" height="14.3" fill="#c0d6ea"/>
<rect x="30.8" y="318.6" width="12.9" height="2.3" fill="#dfeaf4"/>
<rect x="30.8" y="320.6" width="12.9" height="1.3" fill="#c0d6ea"/>
<rect x="30.8" y="321.6" width="12.9" height="6.3" fill="#dfeaf4"/>
<rect x="30.8" y="327.7" width="12.9" height="5.3" fill="#c0d6ea"/>
<rect x="30.8" y="332.7" width="12.9" height="1.3" fill="#dfeaf4"/>
<rect x="30.8" y="333.7" width="12.9" height="2.3" fill="#c0d6ea"/>
<rect x="30.8" y="335.7" width="12.9" height="1.3" fill="#dfeaf4"/>
<rect x="30.8" y="336.7" width="12.9" height="16.3" fill="#c0d6ea"/>
<rect x="30.8" y="352.7" width="12.9" height="1.3" fill="#a0bede"/>
<rect x="30.8" y="353.7" width="12.9" height="7.3" fill="#c0d6ea"/>
<rect x="30.8" y="360.8" width="12.9" height="1.3" fill="#a0bede"/>
<rect x="30.8" y="361.8" width="12.9" height="2.3" fill="#c0d6ea"/>
<rect x="30.8" y="363.8" width="12.9" height="1.3" fill="#dfeaf4"/>
<rect x="30.8" y="364.8" width="12.9" height="1.3" fill="#a0bede"/>
<rect x="30.8" y="365.8" width="12.9" height="1.3" fill="#c0d6ea"/>
<rect x="30.8" y="366.8" width="12.9" height="1.3" fill="#a0bede"/>
<rect x="30.8" y="367.8" width="12.9" height="2.3" fill="#dfeaf4"/>
<rect x="30.8" y="369.8" width="12.9" height="6.3" fill="#c0d6ea"/>
<rect x="30.8" y="375.8" width="12.9" height="1.3" fill="#a0bede"/>
<rect x="30.8" y="376.8" width="12.9" height="10.3" fill="#c0d6ea"/>
<rect x="30.8" y="386.8" width="12.9" height="1.3" fill="#dfeaf4"/>
<rect x="30.8" y="387.8" width="12.9" height="1.3" fill="#a0bede"/>
<rect x="30.8" y="388.8" width="12.9" height="1.3" fill="#c0d6ea"/>
<rect x="30.8" y="389.8" width="12.9" height="1.3" fill="#a0bede"/>
<rect x="30.8" y="390.8" width="12.9" height="2.3" fill="#dfeaf4"/>
<rect x="30.8" y="392.8" width="12.9" height="1.3" fill="#8c96c8"/>
<rect x="30.8" y="393.9" width="12.9" height="4.3" fill="#c0d6ea"/>
<rect x="30.8" y="397.9" width="12.9" height="2.3" fill="#dfeaf4"/>
<rect x="30.8" y="399.9" width="12.9" height="7.3" fill="#c0d6ea"/>
<rect x="30.8" y="406.9" width="12.9" height="1.3" fill="#a0bede"/>
<rect x="30.8" y="407.9" width="12.9" height="3.3" fill="#c0d6ea"/>
<rect x="30.8" y="410.9" width="12.9" height="35.2" fill="#80107f"/>
<rect x="30.8" y="445.8" width="12.9" height="1.3" fill="#9068b0"/>
<rect x="30.8" y="446.8" width="12.9" height="2.3" fill="#8a3c9c"/>
<rect x="30.8" y="448.7" width="12.9" height="3.3" fill="#8c96c8"/>
<rect x="30.8" y="451.7" width="12.9" height="1.3" fill="#8a3c9c"/>
<rect x="30.8" y="452.7" width="12.9" height="1.3" fill="#9068b0"/>
<rect x="30.8" y="453.7" width="12.9" height="1.3" fill="#a0bede"/>
<rect x="30.8" y="454.7" width="12.9" height="1.3" fill="#9068b0"/>
<rect x="30.8" y="455.7" width="12.9" height="1.3" fill="#8c96c8"/>
<rect x="30.8" y="456.7" width="12.9" height="1.3" fill="#9068b0"/>
<rect x="30.8" y="457.7" width="12.9" height="1.3" fill="#80107f"/>
<rect x="30.8" y="458.7" width="12.9" height="2.3" fill="#4a0550"/>
<rect x="30.8" y="460.7" width="12.9" height="1.3" fill="#80107f"/>
<rect x="30.8" y="461.7" width="12.9" height="1.3" fill="#9068b0"/>
<rect x="30.8" y="462.7" width="12.9" height="2.3" fill="#80107f"/>
<rect x="30.8" y="464.7" width="12.9" height="4.3" fill="#8a3c9c"/>
<rect x="30.8" y="468.7" width="12.9" height="1.3" fill="#80107f"/>
<rect x="30.8" y="469.7" width="12.9" height="1.3" fill="#4a0550"/>
<rect x="30.8" y="470.7" width="12.9" height="5.3" fill="#80107f"/>
<rect x="30.8" y="475.6" width="12.9" height="1.3" fill="#8a3c9c"/>
<rect x="30.8" y="476.6" width="12.9" height="2.3" fill="#4a0550"/>
<rect x="30.8" y="478.6" width="12.9" height="9.3" fill="#80107f"/>
<rect x="30.8" y="487.6" width="12.9" height="1.3" fill="#8a3c9c"/>
<rect x="30.8" y="488.6" width="12.9" height="8.3" fill="#80107f"/>
<rect x="30.8" y="496.6" width="12.9" height="1.3" fill="#8a3c9c"/>
<rect x="30.8" y="497.5" width="12.9" height="2.3" fill="#80107f"/>
<rect x="30.8" y="499.5" width="12.9" height="1.3" fill="#8a3c9c"/>
<rect x="30.8" y="500.5" width="12.9" height="1.3" fill="#4a0550"/>
<rect x="30.8" y="501.5" width="12.9" height="1.3" fill="#80107f"/>
<rect x="30.8" y="502.5" width="12.9" height="1.3" fill="#8a3c9c"/>
<rect x="30.8" y="503.5" width="12.9" height="1.3" fill="#80107f"/>
<rect x="30.8" y="504.5" width="12.9" height="1.3" fill="#8a3c9c"/>
<rect x="30.8" y="505.5" width="12.9" height="3.3" fill="#80107f"/>
<rect x="30.8" y="508.5" width="12.9" height="1.3" fill="#8a3c9c"/>
<rect x="43.5" y="304.6" width="12.9" height="7.3" fill="#dfeaf4"/>
<rect x="43.5" y="311.6" width="12.9" height="1.3" fill="#c0d6ea"/>
<rect x="43.5" y="312.6" width="12.9" height="3.3" fill="#dfeaf4"/>
<rect x="43.5" y="315.6" width="12.9" height="6.3" fill="#c0d6ea"/>
<rect x="43.5" y="321.6" width="12.9" height="4.3" fill="#dfeaf4"/>
<rect x="43.5" y="325.7" width="12.9" height="2.3" fill="#c0d6ea"/>
<rect x="43.5" y="327.7" width="12.9" height="2.3" fill="#8c96c8"/>
<rect x="43.5" y="329.7" width="12.9" height="2.3" fill="#c0d6ea"/>
<rect x="43.5" y="331.7" width="12.9" height="3.3" fill="#a0bede"/>
<rect x="43.5" y="334.7" width="12.9" height="3.3" fill="#dfeaf4"/>
<rect x="43.5" y="337.7" width="12.9" height="3.3" fill="#c0d6ea"/>
<rect x="43.5" y="340.7" width="12.9" height="5.3" fill="#a0bede"/>
<rect x="43.5" y="345.7" width="12.9" height="6.3" fill="#c0d6ea"/>
<rect x="43.5" y="351.7" width="12.9" height="2.3" fill="#8c96c8"/>
<rect x="43.5" y="353.7" width="12.9" height="6.3" fill="#c0d6ea"/>
<rect x="43.5" y="359.8" width="12.9" height="2.3" fill="#a0bede"/>
<rect x="43.5" y="361.8" width="12.9" height="1.3" fill="#c0d6ea"/>
<rect x="43.5" y="362.8" width="12.9" height="1.3" fill="#a0bede"/>
<rect x="43.5" y="363.8" width="12.9" height="3.3" fill="#c0d6ea"/>
<rect x="43.5" y="366.8" width="12.9" height="1.3" fill="#8c96c8"/>
<rect x="43.5" y="367.8" width="12.9" height="1.3" fill="#dfeaf4"/>
<rect x="43.5" y="368.8" width="12.9" height="1.3" fill="#c0d6ea"/>
<rect x="43.5" y="369.8" width="12.9" height="2.3" fill="#a0bede"/>
<rect x="43.5" y="371.8" width="12.9" height="3.3" fill="#c0d6ea"/>
<rect x="43.5" y="374.8" width="12.9" height="1.3" fill="#dfeaf4"/>
<rect x="43.5" y="375.8" width="12.9" height="5.3" fill="#c0d6ea"/>
<rect x="43.5" y="380.8" width="12.9" height="3.3" fill="#a0bede"/>
<rect x="43.5" y="383.8" width="12.9" height="3.3" fill="#8c96c8"/>
<rect x="43.5" y="386.8" width="12.9" height="1.3" fill="#c0d6ea"/>
<rect x="43.5" y="387.8" width="12.9" height="1.3" fill="#8c96c8"/>
<rect x="43.5" y="388.8" width="12.9" height="2.3" fill="#c0d6ea"/>
<rect x="43.5" y="390.8" width="12.9" height="4.3" fill="#8c96c8"/>
<rect x="43.5" y="394.9" width="12.9" height="3.3" fill="#c0d6ea"/>
<rect x="43.5" y="397.9" width="12.9" height="4.3" fill="#dfeaf4"/>
<rect x="43.5" y="401.9" width="12.9" height="3.3" fill="#a0bede"/>
<rect x="43.5" y="404.9" width="12.9" height="6.3" fill="#c0d6ea"/>
<rect x="43.5" y="410.9" width="12.9" height="13.2" fill="#80107f"/>
<rect x="43.5" y="423.8" width="12.9" height="1.3" fill="#8a3c9c"/>
<rect x="43.5" y="424.8" width="12.9" height="5.3" fill="#80107f"/>
<rect x="43.5" y="429.8" width="12.9" height="4.3" fill="#4a0550"/>
<rect x="43.5" y="433.8" width="12.9" height="1.3" fill="#80107f"/>
<rect x="43.5" y="434.8" width="12.9" height="3.3" fill="#4a0550"/>
<rect x="43.5" y="437.8" width="12.9" height="5.3" fill="#80107f"/>
<rect x="43.5" y="442.8" width="12.9" height="2.3" fill="#4a0550"/>
<rect x="43.5" y="444.8" width="12.9" height="17.2" fill="#80107f"/>
<rect x="43.5" y="461.7" width="12.9" height="1.3" fill="#9068b0"/>
<rect x="43.5" y="462.7" width="12.9" height="5.3" fill="#8a3c9c"/>
<rect x="43.5" y="467.7" width="12.9" height="2.3" fill="#80107f"/>
<rect x="43.5" y="469.7" width="12.9" height="12.3" fill="#8a3c9c"/>
<rect x="43.5" y="481.6" width="12.9" height="1.3" fill="#80107f"/>
<rect x="43.5" y="482.6" width="12.9" height="2.3" fill="#8a3c9c"/>
<rect x="43.5" y="484.6" width="12.9" height="1.3" fill="#9068b0"/>
<rect x="43.5" y="485.6" width="12.9" height="15.2" fill="#8a3c9c"/>
<rect x="43.5" y="500.5" width="12.9" height="1.3" fill="#80107f"/>
<rect x="43.5" y="501.5" width="12.9" height="1.3" fill="#8a3c9c"/>
<rect x="43.5" y="502.5" width="12.9" height="1.3" fill="#9068b0"/>
<rect x="43.5" y="503.5" width="12.9" height="6.3" fill="#8a3c9c"/>
<rect x="56.1" y="304.6" width="12.9" height="8.3" fill="#8a3c9c"/>
<rect x="56.1" y="312.6" width="12.9" height="1.3" fill="#9068b0"/>
<rect x="56.1" y="313.6" width="12.9" height="2.3" fill="#8a3c9c"/>
<rect x="56.1" y="315.6" width="12.9" height="2.3" fill="#8c96c8"/>
<rect x="56.1" y="317.6" width="12.9" height="1.3" fill="#9068b0"/>
<rect x="56.1" y="318.6" width="12.9" height="3.3" fill="#8c96c8"/>
<rect x="56.1" y="321.6" width="12.9" height="5.3" fill="#a0bede"/>
<rect x="56.1" y="326.7" width="12.9" height="8.3" fill="#8c96c8"/>
<rect x="56.1" y="334.7" width="12.9" height="1.3" fill="#a0bede"/>
<rect x="56.1" y="335.7" width="12.9" height="2.3" fill="#8c96c8"/>
<rect x="56.1" y="337.7" width="12.9" height="2.3" fill="#a0bede"/>
<rect x="56.1" y="339.7" width="12.9" height="1.3" fill="#8c96c8"/>
<rect x="56.1" y="340.7" width="12.9" height="2.3" fill="#9068b0"/>
<rect x="56.1" y="342.7" width="12.9" height="10.3" fill="#8c96c8"/>
<rect x="56.1" y="352.7" width="12.9" height="1.3" fill="#9068b0"/>
<rect x="56.1" y="353.7" width="12.9" height="2.3" fill="#8c96c8"/>
<rect x="56.1" y="355.7" width="12.9" height="2.3" fill="#9068b0"/>
<rect x="56.1" y="357.8" width="12.9" height="3.3" fill="#8c96c8"/>
<rect x="56.1" y="360.8" width="12.9" height="1.3" fill="#9068b0"/>
<rect x="56.1" y="361.8" width="12.9" height="3.3" fill="#a0bede"/>
<rect x="56.1" y="364.8" width="12.9" height="28.4" fill="#8c96c8"/>
<rect x="56.1" y="392.8" width="12.9" height="1.3" fill="#9068b0"/>
<rect x="56.1" y="393.9" width="12.9" height="1.3" fill="#8a3c9c"/>
<rect x="56.1" y="394.9" width="12.9" height="2.3" fill="#9068b0"/>
<rect x="56.1" y="396.9" width="12.9" height="3.3" fill="#8c96c8"/>
<rect x="56.1" y="399.9" width="12.9" height="1.3" fill="#9068b0"/>
<rect x="56.1" y="400.9" width="12.9" height="4.3" fill="#8c96c8"/>
<rect x="56.1" y="404.9" width="12.9" height="1.3" fill="#a0bede"/>
<rect x="56.1" y="405.9" width="12.9" height="4.3" fill="#8c96c8"/>
<rect x="56.1" y="409.9" width="12.9" height="1.3" fill="#a0bede"/>
<rect x="56.1" y="410.9" width="12.9" height="3.3" fill="#8c96c8"/>
<rect x="56.1" y="413.9" width="12.9" height="2.3" fill="#a0bede"/>
<rect x="56.1" y="415.9" width="12.9" height="4.3" fill="#8c96c8"/>
<rect x="56.1" y="419.9" width="12.9" height="1.3" fill="#8a3c9c"/>
<rect x="56.1" y="420.9" width="12.9" height="1.3" fill="#8c96c8"/>
<rect x="56.1" y="421.9" width="12.9" height="1.3" fill="#a0bede"/>
<rect x="56.1" y="422.9" width="12.9" height="1.3" fill="#8c96c8"/>
<rect x="56.1" y="423.8" width="12.9" height="2.3" fill="#9068b0"/>
<rect x="56.1" y="425.8" width="12.9" height="1.3" fill="#a0bede"/>
<rect x="56.1" y="426.8" width="12.9" height="2.3" fill="#9068b0"/>
<rect x="56.1" y="428.8" width="12.9" height="4.3" fill="#8c96c8"/>
<rect x="56.1" y="432.8" width="12.9" height="2.3" fill="#a0bede"/>
<rect x="56.1" y="434.8" width="12.9" height="1.3" fill="#8c96c8"/>
<rect x="56.1" y="435.8" width="12.9" height="2.3" fill="#c0d6ea"/>
<rect x="56.1" y="437.8" width="12.9" height="1.3" fill="#a0bede"/>
<rect x="56.1" y="438.8" width="12.9" height="12.3" fill="#8c96c8"/>
<rect x="56.1" y="450.7" width="12.9" height="2.3" fill="#a0bede"/>
<rect x="56.1" y="452.7" width="12.9" height="3.3" fill="#9068b0"/>
<rect x="56.1" y="455.7" width="12.9" height="2.3" fill="#8c96c8"/>
<rect x="56.1" y="457.7" width="12.9" height="1.3" fill="#8a3c9c"/>
<rect x="56.1" y="458.7" width="12.9" height="2.3" fill="#8c96c8"/>
<rect x="56.1" y="460.7" width="12.9" height="1.3" fill="#a0bede"/>
<rect x="56.1" y="461.7" width="12.9" height="1.3" fill="#c0d6ea"/>
<rect x="56.1" y="462.7" width="12.9" height="2.3" fill="#8c96c8"/>
<rect x="56.1" y="464.7" width="12.9" height="2.3" fill="#a0bede"/>
<rect x="56.1" y="466.7" width="12.9" height="2.3" fill="#8c96c8"/>
<rect x="56.1" y="468.7" width="12.9" height="1.3" fill="#c0d6ea"/>
<rect x="56.1" y="469.7" width="12.9" height="2.3" fill="#8c96c8"/>
<rect x="56.1" y="471.7" width="12.9" height="1.3" fill="#a0bede"/>
<rect x="56.1" y="472.6" width="12.9" height="3.3" fill="#8c96c8"/>
<rect x="56.1" y="475.6" width="12.9" height="2.3" fill="#c0d6ea"/>
<rect x="56.1" y="477.6" width="12.9" height="1.3" fill="#9068b0"/>
<rect x="56.1" y="478.6" width="12.9" height="2.3" fill="#8c96c8"/>
<rect x="56.1" y="480.6" width="12.9" height="2.3" fill="#a0bede"/>
<rect x="56.1" y="482.6" width="12.9" height="2.3" fill="#8c96c8"/>
<rect x="56.1" y="484.6" width="12.9" height="4.3" fill="#a0bede"/>
<rect x="56.1" y="488.6" width="12.9" height="1.3" fill="#8c96c8"/>
<rect x="56.1" y="489.6" width="12.9" height="1.3" fill="#9068b0"/>
<rect x="56.1" y="490.6" width="12.9" height="1.3" fill="#8a3c9c"/>
<rect x="56.1" y="491.6" width="12.9" height="1.3" fill="#8c96c8"/>
<rect x="56.1" y="492.6" width="12.9" height="4.3" fill="#a0bede"/>
<rect x="56.1" y="496.6" width="12.9" height="11.3" fill="#8c96c8"/>
<rect x="56.1" y="507.5" width="12.9" height="1.3" fill="#a0bede"/>
<rect x="56.1" y="508.5" width="12.9" height="1.3" fill="#8c96c8"/>
<rect x="68.8" y="304.6" width="12.9" height="2.3" fill="#a0bede"/>
<rect x="68.8" y="306.6" width="12.9" height="7.3" fill="#8c96c8"/>
<rect x="68.8" y="313.6" width="12.9" height="2.3" fill="#a0bede"/>
<rect x="68.8" y="315.6" width="12.9" height="5.3" fill="#8c96c8"/>
<rect x="68.8" y="320.6" width="12.9" height="3.3" fill="#9068b0"/>
<rect x="68.8" y="323.7" width="12.9" height="1.3" fill="#a0bede"/>
<rect x="68.8" y="324.7" width="12.9" height="5.3" fill="#8c96c8"/>
<rect x="68.8" y="329.7" width="12.9" height="2.3" fill="#a0bede"/>
<rect x="68.8" y="331.7" width="12.9" height="2.3" fill="#c0d6ea"/>
<rect x="68.8" y="333.7" width="12.9" height="1.3" fill="#8c96c8"/>
<rect x="68.8" y="334.7" width="12.9" height="4.3" fill="#a0bede"/>
<rect x="68.8" y="338.7" width="12.9" height="3.3" fill="#8c96c8"/>
<rect x="68.8" y="341.7" width="12.9" height="4.3" fill="#a0bede"/>
<rect x="68.8" y="345.7" width="12.9" height="2.3" fill="#8c96c8"/>
<rect x="68.8" y="347.7" width="12.9" height="1.3" fill="#a0bede"/>
<rect x="68.8" y="348.7" width="12.9" height="1.3" fill="#8c96c8"/>
<rect x="68.8" y="349.7" width="12.9" height="5.3" fill="#a0bede"/>
<rect x="68.8" y="354.7" width="12.9" height="5.3" fill="#8c96c8"/>
<rect x="68.8" y="359.8" width="12.9" height="1.3" fill="#a0bede"/>
<rect x="68.8" y="360.8" width="12.9" height="3.3" fill="#8c96c8"/>
<rect x="68.8" y="363.8" width="12.9" height="2.3" fill="#c0d6ea"/>
<rect x="68.8" y="365.8" width="12.9" height="2.3" fill="#8c96c8"/>
<rect x="68.8" y="367.8" width="12.9" height="2.3" fill="#a0bede"/>
<rect x="68.8" y="369.8" width="12.9" height="3.3" fill="#8c96c8"/>
<rect x="68.8" y="372.8" width="12.9" height="1.3" fill="#a0bede"/>
<rect x="68.8" y="373.8" width="12.9" height="7.3" fill="#8c96c8"/>
<rect x="68.8" y="380.8" width="12.9" height="3.3" fill="#a0bede"/>
<rect x="68.8" y="383.8" width="12.9" height="2.3" fill="#8c96c8"/>
<rect x="68.8" y="385.8" width="12.9" height="1.3" fill="#a0bede"/>
<rect x="68.8" y="386.8" width="12.9" height="2.3" fill="#c0d6ea"/>
<rect x="68.8" y="388.8" width="12.9" height="7.3" fill="#8c96c8"/>
<rect x="68.8" y="395.9" width="12.9" height="5.3" fill="#a0bede"/>
<rect x="68.8" y="400.9" width="12.9" height="1.3" fill="#8c96c8"/>
<rect x="68.8" y="401.9" width="12.9" height="1.3" fill="#a0bede"/>
<rect x="68.8" y="402.9" width="12.9" height="1.3" fill="#8c96c8"/>
<rect x="68.8" y="403.9" width="12.9" height="2.3" fill="#a0bede"/>
<rect x="68.8" y="405.9" width="12.9" height="4.3" fill="#8c96c8"/>
<rect x="68.8" y="409.9" width="12.9" height="2.3" fill="#a0bede"/>
<rect x="68.8" y="411.9" width="12.9" height="1.3" fill="#8c96c8"/>
<rect x="68.8" y="412.9" width="12.9" height="4.3" fill="#9068b0"/>
<rect x="68.8" y="416.9" width="12.9" height="1.3" fill="#a0bede"/>
<rect x="68.8" y="417.9" width="12.9" height="1.3" fill="#dfeaf4"/>
<rect x="68.8" y="418.9" width="12.9" height="7.3" fill="#c0d6ea"/>
<rect x="68.8" y="425.8" width="12.9" height="2.3" fill="#a0bede"/>
<rect x="68.8" y="427.8" width="12.9" height="4.3" fill="#8c96c8"/>
<rect x="68.8" y="431.8" width="12.9" height="1.3" fill="#c0d6ea"/>
<rect x="68.8" y="432.8" width="12.9" height="3.3" fill="#a0bede"/>
<rect x="68.8" y="435.8" width="12.9" height="2.3" fill="#8c96c8"/>
<rect x="68.8" y="437.8" width="12.9" height="1.3" fill="#c0d6ea"/>
<rect x="68.8" y="438.8" width="12.9" height="1.3" fill="#a0bede"/>
<rect x="68.8" y="439.8" width="12.9" height="2.3" fill="#c0d6ea"/>
<rect x="68.8" y="441.8" width="12.9" height="3.3" fill="#a0bede"/>
<rect x="68.8" y="444.8" width="12.9" height="5.3" fill="#8c96c8"/>
<rect x="68.8" y="449.7" width="12.9" height="1.3" fill="#dfeaf4"/>
<rect x="68.8" y="450.7" width="12.9" height="3.3" fill="#c0d6ea"/>
<rect x="68.8" y="453.7" width="12.9" height="2.3" fill="#8c96c8"/>
<rect x="68.8" y="455.7" width="12.9" height="1.3" fill="#a0bede"/>
<rect x="68.8" y="456.7" width="12.9" height="3.3" fill="#8c96c8"/>
<rect x="68.8" y="459.7" width="12.9" height="2.3" fill="#a0bede"/>
<rect x="68.8" y="461.7" width="12.9" height="2.3" fill="#c0d6ea"/>
<rect x="68.8" y="463.7" width="12.9" height="2.3" fill="#8c96c8"/>
<rect x="68.8" y="465.7" width="12.9" height="1.3" fill="#c0d6ea"/>
<rect x="68.8" y="466.7" width="12.9" height="2.3" fill="#a0bede"/>
<rect x="68.8" y="468.7" width="12.9" height="2.3" fill="#c0d6ea"/>
<rect x="68.8" y="470.7" width="12.9" height="3.3" fill="#a0bede"/>
<rect x="68.8" y="473.6" width="12.9" height="3.3" fill="#c0d6ea"/>
<rect x="68.8" y="476.6" width="12.9" height="1.3" fill="#a0bede"/>
<rect x="68.8" y="477.6" width="12.9" height="1.3" fill="#8c96c8"/>
<rect x="68.8" y="478.6" width="12.9" height="3.3" fill="#a0bede"/>
<rect x="68.8" y="481.6" width="12.9" height="1.3" fill="#c0d6ea"/>
<rect x="68.8" y="482.6" width="12.9" height="1.3" fill="#a0bede"/>
<rect x="68.8" y="483.6" width="12.9" height="2.3" fill="#c0d6ea"/>
<rect x="68.8" y="485.6" width="12.9" height="2.3" fill="#a0bede"/>
<rect x="68.8" y="487.6" width="12.9" height="2.3" fill="#c0d6ea"/>
<rect x="68.8" y="489.6" width="12.9" height="3.3" fill="#a0bede"/>
<rect x="68.8" y="492.6" width="12.9" height="1.3" fill="#8c96c8"/>
<rect x="68.8" y="493.6" width="12.9" height="4.3" fill="#c0d6ea"/>
<rect x="68.8" y="497.5" width="12.9" height="4.3" fill="#8c96c8"/>
<rect x="68.8" y="501.5" width="12.9" height="1.3" fill="#a0bede"/>
<rect x="68.8" y="502.5" width="12.9" height="1.3" fill="#c0d6ea"/>
<rect x="68.8" y="503.5" width="12.9" height="1.3" fill="#a0bede"/>
<rect x="68.8" y="504.5" width="12.9" height="1.3" fill="#8c96c8"/>
<rect x="68.8" y="505.5" width="12.9" height="1.3" fill="#a0bede"/>
<rect x="68.8" y="506.5" width="12.9" height="3.3" fill="#c0d6ea"/>
<rect x="81.4" y="304.6" width="12.9" height="1.3" fill="#8a3c9c"/>
<rect x="81.4" y="305.6" width="12.9" height="2.3" fill="#8c96c8"/>
<rect x="81.4" y="307.6" width="12.9" height="2.3" fill="#8a3c9c"/>
<rect x="81.4" y="309.6" width="12.9" height="1.3" fill="#9068b0"/>
<rect x="81.4" y="310.6" width="12.9" height="1.3" fill="#8a3c9c"/>
<rect x="81.4" y="311.6" width="12.9" height="3.3" fill="#9068b0"/>
<rect x="81.4" y="314.6" width="12.9" height="4.3" fill="#8a3c9c"/>
<rect x="81.4" y="318.6" width="12.9" height="1.3" fill="#8c96c8"/>
<rect x="81.4" y="319.6" width="12.9" height="3.3" fill="#9068b0"/>
<rect x="81.4" y="322.7" width="12.9" height="1.3" fill="#8c96c8"/>
<rect x="81.4" y="323.7" width="12.9" height="1.3" fill="#8a3c9c"/>
<rect x="81.4" y="324.7" width="12.9" height="3.3" fill="#9068b0"/>
<rect x="81.4" y="327.7" width="12.9" height="2.3" fill="#8c96c8"/>
<rect x="81.4" y="329.7" width="12.9" height="1.3" fill="#9068b0"/>
<rect x="81.4" y="330.7" width="12.9" height="1.3" fill="#8a3c9c"/>
<rect x="81.4" y="331.7" width="12.9" height="5.3" fill="#8c96c8"/>
<rect x="81.4" y="336.7" width="12.9" height="4.3" fill="#a0bede"/>
<rect x="81.4" y="340.7" width="12.9" height="4.3" fill="#8c96c8"/>
<rect x="81.4" y="344.7" width="12.9" height="1.3" fill="#a0bede"/>
<rect x="81.4" y="345.7" width="12.9" height="11.3" fill="#8c96c8"/>
<rect x="81.4" y="356.7" width="12.9" height="1.3" fill="#a0bede"/>
<rect x="81.4" y="357.8" width="12.9" height="5.3" fill="#8c96c8"/>
<rect x="81.4" y="362.8" width="12.9" height="2.3" fill="#a0bede"/>
<rect x="81.4" y="364.8" width="12.9" height="3.3" fill="#8c96c8"/>
<rect x="81.4" y="367.8" width="12.9" height="1.3" fill="#a0bede"/>
<rect x="81.4" y="368.8" width="12.9" height="7.3" fill="#8c96c8"/>
<rect x="81.4" y="375.8" width="12.9" height="1.3" fill="#a0bede"/>
<rect x="81.4" y="376.8" width="12.9" height="5.3" fill="#8c96c8"/>
<rect x="81.4" y="381.8" width="12.9" height="1.3" fill="#9068b0"/>
<rect x="81.4" y="382.8" width="12.9" height="1.3" fill="#8c96c8"/>
<rect x="81.4" y="383.8" width="12.9" height="2.3" fill="#9068b0"/>
<rect x="81.4" y="385.8" width="12.9" height="1.3" fill="#8c96c8"/>
<rect x="81.4" y="386.8" width="12.9" height="2.3" fill="#9068b0"/>
<rect x="81.4" y="388.8" width="12.9" height="1.3" fill="#8c96c8"/>
<rect x="81.4" y="389.8" width="12.9" height="1.3" fill="#9068b0"/>
<rect x="81.4" y="390.8" width="12.9" height="2.3" fill="#8c96c8"/>
<rect x="81.4" y="392.8" width="12.9" height="1.3" fill="#9068b0"/>
<rect x="81.4" y="393.9" width="12.9" height="1.3" fill="#8c96c8"/>
<rect x="81.4" y="394.9" width="12.9" height="1.3" fill="#a0bede"/>
<rect x="81.4" y="395.9" width="12.9" height="8.3" fill="#8c96c8"/>
<rect x="81.4" y="403.9" width="12.9" height="1.3" fill="#9068b0"/>
<rect x="81.4" y="404.9" width="12.9" height="2.3" fill="#a0bede"/>
<rect x="81.4" y="406.9" width="12.9" height="1.3" fill="#9068b0"/>
<rect x="81.4" y="407.9" width="12.9" height="1.3" fill="#8c96c8"/>
<rect x="81.4" y="408.9" width="12.9" height="1.3" fill="#a0bede"/>
<rect x="81.4" y="409.9" width="12.9" height="2.3" fill="#8c96c8"/>
<rect x="81.4" y="411.9" width="12.9" height="3.3" fill="#a0bede"/>
<rect x="81.4" y="414.9" width="12.9" height="2.3" fill="#c0d6ea"/>
<rect x="81.4" y="416.9" width="12.9" height="1.3" fill="#a0bede"/>
<rect x="81.4" y="417.9" width="12.9" height="4.3" fill="#c0d6ea"/>
<rect x="81.4" y="421.9" width="12.9" height="1.3" fill="#a0bede"/>
<rect x="81.4" y="422.9" width="12.9" height="5.3" fill="#c0d6ea"/>
<rect x="81.4" y="427.8" width="12.9" height="3.3" fill="#a0bede"/>
<rect x="81.4" y="430.8" width="12.9" height="4.3" fill="#c0d6ea"/>
<rect x="81.4" y="434.8" width="12.9" height="1.3" fill="#8c96c8"/>
<rect x="81.4" y="435.8" width="12.9" height="2.3" fill="#a0bede"/>
<rect x="81.4" y="437.8" width="12.9" height="3.3" fill="#c0d6ea"/>
<rect x="81.4" y="440.8" width="12.9" height="1.3" fill="#a0bede"/>
<rect x="81.4" y="441.8" width="12.9" height="1.3" fill="#c0d6ea"/>
<rect x="81.4" y="442.8" width="12.9" height="5.3" fill="#a0bede"/>
<rect x="81.4" y="447.8" width="12.9" height="1.3" fill="#8c96c8"/>
<rect x="81.4" y="448.7" width="12.9" height="1.3" fill="#a0bede"/>
<rect x="81.4" y="449.7" width="12.9" height="3.3" fill="#c0d6ea"/>
<rect x="81.4" y="452.7" width="12.9" height="1.3" fill="#8c96c8"/>
<rect x="81.4" y="453.7" width="12.9" height="1.3" fill="#c0d6ea"/>
<rect x="81.4" y="454.7" width="12.9" height="1.3" fill="#a0bede"/>
<rect x="81.4" y="455.7" width="12.9" height="2.3" fill="#c0d6ea"/>
<rect x="81.4" y="457.7" width="12.9" height="2.3" fill="#a0bede"/>
<rect x="81.4" y="459.7" width="12.9" height="1.3" fill="#8c96c8"/>
<rect x="81.4" y="460.7" width="12.9" height="1.3" fill="#c0d6ea"/>
<rect x="81.4" y="461.7" width="12.9" height="1.3" fill="#dfeaf4"/>
<rect x="81.4" y="462.7" width="12.9" height="1.3" fill="#c0d6ea"/>
<rect x="81.4" y="463.7" width="12.9" height="1.3" fill="#a0bede"/>
<rect x="81.4" y="464.7" width="12.9" height="3.3" fill="#c0d6ea"/>
<rect x="81.4" y="467.7" width="12.9" height="1.3" fill="#8c96c8"/>
<rect x="81.4" y="468.7" width="12.9" height="2.3" fill="#c0d6ea"/>
<rect x="81.4" y="470.7" width="12.9" height="1.3" fill="#a0bede"/>
<rect x="81.4" y="471.7" width="12.9" height="1.3" fill="#dfeaf4"/>
<rect x="81.4" y="472.6" width="12.9" height="3.3" fill="#c0d6ea"/>
<rect x="81.4" y="475.6" width="12.9" height="3.3" fill="#a0bede"/>
<rect x="81.4" y="478.6" width="12.9" height="18.2" fill="#c0d6ea"/>
<rect x="81.4" y="496.6" width="12.9" height="3.3" fill="#a0bede"/>
<rect x="81.4" y="499.5" width="12.9" height="1.3" fill="#8c96c8"/>
<rect x="81.4" y="500.5" width="12.9" height="1.3" fill="#c0d6ea"/>
<rect x="81.4" y="501.5" width="12.9" height="3.3" fill="#a0bede"/>
<rect x="81.4" y="504.5" width="12.9" height="5.3" fill="#c0d6ea"/>
<rect x="94.1" y="304.6" width="12.9" height="1.3" fill="#a0bede"/>
<rect x="94.1" y="305.6" width="12.9" height="10.3" fill="#8c96c8"/>
<rect x="94.1" y="315.6" width="12.9" height="1.3" fill="#9068b0"/>
<rect x="94.1" y="316.6" width="12.9" height="1.3" fill="#8a3c9c"/>
<rect x="94.1" y="317.6" width="12.9" height="5.3" fill="#8c96c8"/>
<rect x="94.1" y="322.7" width="12.9" height="2.3" fill="#a0bede"/>
<rect x="94.1" y="324.7" width="12.9" height="2.3" fill="#9068b0"/>
<rect x="94.1" y="326.7" width="12.9" height="8.3" fill="#8c96c8"/>
<rect x="94.1" y="334.7" width="12.9" height="1.3" fill="#a0bede"/>
<rect x="94.1" y="335.7" width="12.9" height="1.3" fill="#8c96c8"/>
<rect x="94.1" y="336.7" width="12.9" height="16.3" fill="#8a3c9c"/>
<rect x="94.1" y="352.7" width="12.9" height="1.3" fill="#80107f"/>
<rect x="94.1" y="353.7" width="12.9" height="1.3" fill="#8a3c9c"/>
<rect x="94.1" y="354.7" width="12.9" height="1.3" fill="#80107f"/>
<rect x="94.1" y="355.7" width="12.9" height="3.3" fill="#8a3c9c"/>
<rect x="94.1" y="358.8" width="12.9" height="4.3" fill="#80107f"/>
<rect x="94.1" y="362.8" width="12.9" height="4.3" fill="#8a3c9c"/>
<rect x="94.1" y="366.8" width="12.9" height="1.3" fill="#80107f"/>
<rect x="94.1" y="367.8" width="12.9" height="3.3" fill="#8a3c9c"/>
<rect x="94.1" y="370.8" width="12.9" height="1.3" fill="#80107f"/>
<rect x="94.1" y="371.8" width="12.9" height="1.3" fill="#8a3c9c"/>
<rect x="94.1" y="372.8" width="12.9" height="1.3" fill="#80107f"/>
<rect x="94.1" y="373.8" width="12.9" height="16.3" fill="#8a3c9c"/>
<rect x="94.1" y="389.8" width="12.9" height="1.3" fill="#80107f"/>
<rect x="94.1" y="390.8" width="12.9" height="2.3" fill="#8a3c9c"/>
<rect x="94.1" y="392.8" width="12.9" height="7.3" fill="#80107f"/>
<rect x="94.1" y="399.9" width="12.9" height="1.3" fill="#8a3c9c"/>
<rect x="94.1" y="400.9" width="12.9" height="2.3" fill="#80107f"/>
<rect x="94.1" y="402.9" width="12.9" height="5.3" fill="#8a3c9c"/>
<rect x="94.1" y="407.9" width="12.9" height="3.3" fill="#80107f"/>
<rect x="94.1" y="410.9" width="12.9" height="2.3" fill="#c0d6ea"/>
<rect x="94.1" y="412.9" width="12.9" height="1.3" fill="#8c96c8"/>
<rect x="94.1" y="413.9" width="12.9" height="5.3" fill="#a0bede"/>
<rect x="94.1" y="418.9" width="12.9" height="1.3" fill="#c0d6ea"/>
<rect x="94.1" y="419.9" width="12.9" height="3.3" fill="#8c96c8"/>
<rect x="94.1" y="422.9" width="12.9" height="2.3" fill="#a0bede"/>
<rect x="94.1" y="424.8" width="12.9" height="6.3" fill="#8c96c8"/>
<rect x="94.1" y="430.8" width="12.9" height="2.3" fill="#a0bede"/>
<rect x="94.1" y="432.8" width="12.9" height="4.3" fill="#8c96c8"/>
<rect x="94.1" y="436.8" width="12.9" height="1.3" fill="#a0bede"/>
<rect x="94.1" y="437.8" width="12.9" height="1.3" fill="#c0d6ea"/>
<rect x="94.1" y="438.8" width="12.9" height="1.3" fill="#a0bede"/>
<rect x="94.1" y="439.8" width="12.9" height="4.3" fill="#8c96c8"/>
<rect x="94.1" y="443.8" width="12.9" height="1.3" fill="#a0bede"/>
<rect x="94.1" y="444.8" width="12.9" height="2.3" fill="#8c96c8"/>
<rect x="94.1" y="446.8" width="12.9" height="1.3" fill="#a0bede"/>
<rect x="94.1" y="447.8" width="12.9" height="1.3" fill="#8c96c8"/>
<rect x="94.1" y="448.7" width="12.9" height="1.3" fill="#a0bede"/>
<rect x="94.1" y="449.7" width="12.9" height="1.3" fill="#8c96c8"/>
<rect x="94.1" y="450.7" width="12.9" height="1.3" fill="#c0d6ea"/>
<rect x="94.1" y="451.7" width="12.9" height="1.3" fill="#8c96c8"/>
<rect x="94.1" y="452.7" width="12.9" height="1.3" fill="#a0bede"/>
<rect x="94.1" y="453.7" width="12.9" height="6.3" fill="#8c96c8"/>
<rect x="94.1" y="459.7" width="12.9" height="3.3" fill="#a0bede"/>
<rect x="94.1" y="462.7" width="12.9" height="9.3" fill="#8c96c8"/>
<rect x="94.1" y="471.7" width="12.9" height="3.3" fill="#c0d6ea"/>
<rect x="94.1" y="474.6" width="12.9" height="2.3" fill="#8c96c8"/>
<rect x="94.1" y="476.6" width="12.9" height="1.3" fill="#a0bede"/>
<rect x="94.1" y="477.6" width="12.9" height="3.3" fill="#8c96c8"/>
<rect x="94.1" y="480.6" width="12.9" height="1.3" fill="#a0bede"/>
<rect x="94.1" y="481.6" width="12.9" height="2.3" fill="#c0d6ea"/>
<rect x="94.1" y="483.6" width="12.9" height="3.3" fill="#a0bede"/>
<rect x="94.1" y="486.6" width="12.9" height="4.3" fill="#c0d6ea"/>
<rect x="94.1" y="490.6" width="12.9" height="5.3" fill="#8c96c8"/>
<rect x="94.1" y="495.6" width="12.9" height="2.3" fill="#c0d6ea"/>
<rect x="94.1" y="497.5" width="12.9" height="2.3" fill="#8c96c8"/>
<rect x="94.1" y="499.5" width="12.9" height="2.3" fill="#a0bede"/>
<rect x="94.1" y="501.5" width="12.9" height="2.3" fill="#c0d6ea"/>
<rect x="94.1" y="503.5" width="12.9" height="2.3" fill="#8c96c8"/>
<rect x="94.1" y="505.5" width="12.9" height="1.3" fill="#a0bede"/>
<rect x="94.1" y="506.5" width="12.9" height="1.3" fill="#c0d6ea"/>
<rect x="94.1" y="507.5" width="12.9" height="1.3" fill="#a0bede"/>
<rect x="94.1" y="508.5" width="12.9" height="1.3" fill="#c0d6ea"/>
<rect x="106.7" y="304.6" width="12.9" height="1.3" fill="#8a3c9c"/>
<rect x="106.7" y="305.6" width="12.9" height="4.3" fill="#80107f"/>
<rect x="106.7" y="309.6" width="12.9" height="20.4" fill="#8a3c9c"/>
<rect x="106.7" y="329.7" width="12.9" height="2.3" fill="#80107f"/>
<rect x="106.7" y="331.7" width="12.9" height="4.3" fill="#8a3c9c"/>
<rect x="106.7" y="335.7" width="12.9" height="1.3" fill="#80107f"/>
<rect x="106.7" y="336.7" width="12.9" height="4.3" fill="#8a3c9c"/>
<rect x="106.7" y="340.7" width="12.9" height="3.3" fill="#80107f"/>
<rect x="106.7" y="343.7" width="12.9" height="7.3" fill="#8a3c9c"/>
<rect x="106.7" y="350.7" width="12.9" height="1.3" fill="#80107f"/>
<rect x="106.7" y="351.7" width="12.9" height="1.3" fill="#9068b0"/>
<rect x="106.7" y="352.7" width="12.9" height="1.3" fill="#8a3c9c"/>
<rect x="106.7" y="353.7" width="12.9" height="1.3" fill="#80107f"/>
<rect x="106.7" y="354.7" width="12.9" height="1.3" fill="#8a3c9c"/>
<rect x="106.7" y="355.7" width="12.9" height="1.3" fill="#80107f"/>
<rect x="106.7" y="356.7" width="12.9" height="1.3" fill="#8a3c9c"/>
<rect x="106.7" y="357.8" width="12.9" height="2.3" fill="#9068b0"/>
<rect x="106.7" y="359.8" width="12.9" height="9.3" fill="#80107f"/>
<rect x="106.7" y="368.8" width="12.9" height="6.3" fill="#8a3c9c"/>
<rect x="106.7" y="374.8" width="12.9" height="1.3" fill="#80107f"/>
<rect x="106.7" y="375.8" width="12.9" height="1.3" fill="#8a3c9c"/>
<rect x="106.7" y="376.8" width="12.9" height="2.3" fill="#80107f"/>
<rect x="106.7" y="378.8" width="12.9" height="1.3" fill="#8a3c9c"/>
<rect x="106.7" y="379.8" width="12.9" height="3.3" fill="#80107f"/>
<rect x="106.7" y="382.8" width="12.9" height="2.3" fill="#8a3c9c"/>
<rect x="106.7" y="384.8" width="12.9" height="1.3" fill="#80107f"/>
<rect x="106.7" y="385.8" width="12.9" height="9.3" fill="#8a3c9c"/>
<rect x="106.7" y="394.9" width="12.9" height="2.3" fill="#80107f"/>
<rect x="106.7" y="396.9" width="12.9" height="6.3" fill="#8a3c9c"/>
<rect x="106.7" y="402.9" width="12.9" height="2.3" fill="#80107f"/>
<rect x="106.7" y="404.9" width="12.9" height="6.3" fill="#8a3c9c"/>
<rect x="106.7" y="410.9" width="12.9" height="1.3" fill="#9068b0"/>
<rect x="106.7" y="411.9" width="12.9" height="3.3" fill="#c0d6ea"/>
<rect x="106.7" y="414.9" width="12.9" height="1.3" fill="#a0bede"/>
<rect x="106.7" y="415.9" width="12.9" height="5.3" fill="#8c96c8"/>
<rect x="106.7" y="420.9" width="12.9" height="5.3" fill="#c0d6ea"/>
<rect x="106.7" y="425.8" width="12.9" height="5.3" fill="#a0bede"/>
<rect x="106.7" y="430.8" width="12.9" height="2.3" fill="#dfeaf4"/>
<rect x="106.7" y="432.8" width="12.9" height="2.3" fill="#c0d6ea"/>
<rect x="106.7" y="434.8" width="12.9" height="2.3" fill="#dfeaf4"/>
<rect x="106.7" y="436.8" width="12.9" height="5.3" fill="#c0d6ea"/>
<rect x="106.7" y="441.8" width="12.9" height="1.3" fill="#8c96c8"/>
<rect x="106.7" y="442.8" width="12.9" height="3.3" fill="#c0d6ea"/>
<rect x="106.7" y="445.8" width="12.9" height="2.3" fill="#8c96c8"/>
<rect x="106.7" y="447.8" width="12.9" height="2.3" fill="#c0d6ea"/>
<rect x="106.7" y="449.7" width="12.9" height="1.3" fill="#8c96c8"/>
<rect x="106.7" y="450.7" width="12.9" height="2.3" fill="#dfeaf4"/>
<rect x="106.7" y="452.7" width="12.9" height="2.3" fill="#8c96c8"/>
<rect x="106.7" y="454.7" width="12.9" height="6.3" fill="#c0d6ea"/>
<rect x="106.7" y="460.7" width="12.9" height="1.3" fill="#a0bede"/>
<rect x="106.7" y="461.7" width="12.9" height="11.3" fill="#c0d6ea"/>
<rect x="106.7" y="472.6" width="12.9" height="1.3" fill="#8c96c8"/>
<rect x="106.7" y="473.6" width="12.9" height="1.3" fill="#a0bede"/>
<rect x="106.7" y="474.6" width="12.9" height="1.3" fill="#c0d6ea"/>
<rect x="106.7" y="475.6" width="12.9" height="2.3" fill="#a0bede"/>
<rect x="106.7" y="477.6" width="12.9" height="1.3" fill="#dfeaf4"/>
<rect x="106.7" y="478.6" width="12.9" height="3.3" fill="#c0d6ea"/>
<rect x="106.7" y="481.6" width="12.9" height="1.3" fill="#dfeaf4"/>
<rect x="106.7" y="482.6" width="12.9" height="2.3" fill="#c0d6ea"/>
<rect x="106.7" y="484.6" width="12.9" height="2.3" fill="#dfeaf4"/>
<rect x="106.7" y="486.6" width="12.9" height="4.3" fill="#c0d6ea"/>
<rect x="106.7" y="490.6" width="12.9" height="1.3" fill="#a0bede"/>
<rect x="106.7" y="491.6" width="12.9" height="1.3" fill="#8c96c8"/>
<rect x="106.7" y="492.6" width="12.9" height="2.3" fill="#c0d6ea"/>
<rect x="106.7" y="494.6" width="12.9" height="3.3" fill="#8c96c8"/>
<rect x="106.7" y="497.5" width="12.9" height="1.3" fill="#c0d6ea"/>
<rect x="106.7" y="498.5" width="12.9" height="2.3" fill="#a0bede"/>
<rect x="106.7" y="500.5" width="12.9" height="2.3" fill="#c0d6ea"/>
<rect x="106.7" y="502.5" width="12.9" height="1.3" fill="#dfeaf4"/>
<rect x="106.7" y="503.5" width="12.9" height="1.3" fill="#c0d6ea"/>
<rect x="106.7" y="504.5" width="12.9" height="2.3" fill="#8c96c8"/>
<rect x="106.7" y="506.5" width="12.9" height="1.3" fill="#c0d6ea"/>
<rect x="106.7" y="507.5" width="12.9" height="1.3" fill="#a0bede"/>
<rect x="106.7" y="508.5" width="12.9" height="1.3" fill="#dfeaf4"/>
<rect x="119.4" y="304.6" width="12.9" height="8.3" fill="#8a3c9c"/>
<rect x="119.4" y="312.6" width="12.9" height="1.3" fill="#8c96c8"/>
<rect x="119.4" y="313.6" width="12.9" height="3.3" fill="#9068b0"/>
<rect x="119.4" y="316.6" width="12.9" height="7.3" fill="#8a3c9c"/>
<rect x="119.4" y="323.7" width="12.9" height="2.3" fill="#9068b0"/>
<rect x="119.4" y="325.7" width="12.9" height="1.3" fill="#8a3c9c"/>
<rect x="119.4" y="326.7" width="12.9" height="1.3" fill="#9068b0"/>
<rect x="119.4" y="327.7" width="12.9" height="1.3" fill="#8a3c9c"/>
<rect x="119.4" y="328.7" width="12.9" height="3.3" fill="#9068b0"/>
<rect x="119.4" y="331.7" width="12.9" height="1.3" fill="#8a3c9c"/>
<rect x="119.4" y="332.7" width="12.9" height="1.3" fill="#8c96c8"/>
<rect x="119.4" y="333.7" width="12.9" height="1.3" fill="#8a3c9c"/>
<rect x="119.4" y="334.7" width="12.9" height="6.3" fill="#9068b0"/>
<rect x="119.4" y="340.7" width="12.9" height="1.3" fill="#8a3c9c"/>
<rect x="119.4" y="341.7" width="12.9" height="5.3" fill="#9068b0"/>
<rect x="119.4" y="346.7" width="12.9" height="1.3" fill="#8c96c8"/>
<rect x="119.4" y="347.7" width="12.9" height="1.3" fill="#8a3c9c"/>
<rect x="119.4" y="348.7" width="12.9" height="1.3" fill="#8c96c8"/>
<rect x="119.4" y="349.7" width="12.9" height="6.3" fill="#9068b0"/>
<rect x="119.4" y="355.7" width="12.9" height="1.3" fill="#8a3c9c"/>
<rect x="119.4" y="356.7" width="12.9" height="3.3" fill="#9068b0"/>
<rect x="119.4" y="359.8" width="12.9" height="2.3" fill="#8c96c8"/>
<rect x="119.4" y="361.8" width="12.9" height="3.3" fill="#9068b0"/>
<rect x="119.4" y="364.8" width="12.9" height="3.3" fill="#8a3c9c"/>
<rect x="119.4" y="367.8" width="12.9" height="7.3" fill="#9068b0"/>
<rect x="119.4" y="374.8" width="12.9" height="3.3" fill="#8c96c8"/>
<rect x="119.4" y="377.8" width="12.9" height="1.3" fill="#8a3c9c"/>
<rect x="119.4" y="378.8" width="12.9" height="1.3" fill="#9068b0"/>
<rect x="119.4" y="379.8" width="12.9" height="6.3" fill="#8a3c9c"/>
<rect x="119.4" y="385.8" width="12.9" height="2.3" fill="#9068b0"/>
<rect x="119.4" y="387.8" width="12.9" height="3.3" fill="#8a3c9c"/>
<rect x="119.4" y="390.8" width="12.9" height="3.3" fill="#9068b0"/>
<rect x="119.4" y="393.9" width="12.9" height="1.3" fill="#8a3c9c"/>
<rect x="119.4" y="394.9" width="12.9" height="10.3" fill="#9068b0"/>
<rect x="119.4" y="404.9" width="12.9" height="3.3" fill="#8a3c9c"/>
<rect x="119.4" y="407.9" width="12.9" height="2.3" fill="#9068b0"/>
<rect x="119.4" y="409.9" width="12.9" height="1.3" fill="#8a3c9c"/>
<rect x="119.4" y="410.9" width="12.9" height="3.3" fill="#c0d6ea"/>
<rect x="119.4" y="413.9" width="12.9" height="6.3" fill="#a0bede"/>
<rect x="119.4" y="419.9" width="12.9" height="1.3" fill="#8c96c8"/>
<rect x="119.4" y="420.9" width="12.9" height="4.3" fill="#c0d6ea"/>
<rect x="119.4" y="424.8" width="12.9" height="4.3" fill="#8c96c8"/>
<rect x="119.4" y="428.8" width="12.9" height="1.3" fill="#c0d6ea"/>
<rect x="119.4" y="429.8" width="12.9" height="2.3" fill="#8c96c8"/>
<rect x="119.4" y="431.8" width="12.9" height="1.3" fill="#c0d6ea"/>
<rect x="119.4" y="432.8" width="12.9" height="4.3" fill="#a0bede"/>
<rect x="119.4" y="436.8" width="12.9" height="1.3" fill="#c0d6ea"/>
<rect x="119.4" y="437.8" width="12.9" height="2.3" fill="#a0bede"/>
<rect x="119.4" y="439.8" width="12.9" height="2.3" fill="#c0d6ea"/>
<rect x="119.4" y="441.8" width="12.9" height="4.3" fill="#a0bede"/>
<rect x="119.4" y="445.8" width="12.9" height="4.3" fill="#c0d6ea"/>
<rect x="119.4" y="449.7" width="12.9" height="1.3" fill="#8c96c8"/>
<rect x="119.4" y="450.7" width="12.9" height="1.3" fill="#c0d6ea"/>
<rect x="119.4" y="451.7" width="12.9" height="1.3" fill="#8c96c8"/>
<rect x="119.4" y="452.7" width="12.9" height="3.3" fill="#a0bede"/>
<rect x="119.4" y="455.7" width="12.9" height="3.3" fill="#c0d6ea"/>
<rect x="119.4" y="458.7" width="12.9" height="1.3" fill="#a0bede"/>
<rect x="119.4" y="459.7" width="12.9" height="4.3" fill="#c0d6ea"/>
<rect x="119.4" y="463.7" width="12.9" height="1.3" fill="#a0bede"/>
<rect x="119.4" y="464.7" width="12.9" height="1.3" fill="#c0d6ea"/>
<rect x="119.4" y="465.7" width="12.9" height="1.3" fill="#8c96c8"/>
<rect x="119.4" y="466.7" width="12.9" height="2.3" fill="#c0d6ea"/>
<rect x="119.4" y="468.7" width="12.9" height="2.3" fill="#8c96c8"/>
<rect x="119.4" y="470.7" width="12.9" height="2.3" fill="#a0bede"/>
<rect x="119.4" y="472.6" width="12.9" height="1.3" fill="#dfeaf4"/>
<rect x="119.4" y="473.6" width="12.9" height="2.3" fill="#c0d6ea"/>
<rect x="119.4" y="475.6" width="12.9" height="2.3" fill="#dfeaf4"/>
<rect x="119.4" y="477.6" width="12.9" height="2.3" fill="#c0d6ea"/>
<rect x="119.4" y="479.6" width="12.9" height="1.3" fill="#dfeaf4"/>
<rect x="119.4" y="480.6" width="12.9" height="4.3" fill="#a0bede"/>
<rect x="119.4" y="484.6" width="12.9" height="3.3" fill="#c0d6ea"/>
<rect x="119.4" y="487.6" width="12.9" height="1.3" fill="#a0bede"/>
<rect x="119.4" y="488.6" width="12.9" height="2.3" fill="#8c96c8"/>
<rect x="119.4" y="490.6" width="12.9" height="1.3" fill="#a0bede"/>
<rect x="119.4" y="491.6" width="12.9" height="3.3" fill="#c0d6ea"/>
<rect x="119.4" y="494.6" width="12.9" height="2.3" fill="#a0bede"/>
<rect x="119.4" y="496.6" width="12.9" height="3.3" fill="#c0d6ea"/>
<rect x="119.4" y="499.5" width="12.9" height="4.3" fill="#a0bede"/>
<rect x="119.4" y="503.5" width="12.9" height="4.3" fill="#c0d6ea"/>
<rect x="119.4" y="507.5" width="12.9" height="1.3" fill="#a0bede"/>
<rect x="119.4" y="508.5" width="12.9" height="1.3" fill="#c0d6ea"/>
</g>
<rect x="137.10" y="305.00" width="7.20" height="11.80" fill="#4a0550" stroke="none" stroke-width="1" />
<rect x="137.10" y="316.80" width="7.20" height="10.70" fill="#80107f" stroke="none" stroke-width="1" />
<rect x="137.10" y="327.50" width="7.20" height="11.50" fill="#8a3c9c" stroke="none" stroke-width="1" />
<rect x="137.10" y="339.00" width="7.20" height="8.40" fill="#9068b0" stroke="none" stroke-width="1" />
<rect x="137.10" y="347.40" width="7.20" height="15.50" fill="#8c96c8" stroke="none" stroke-width="1" />
<rect x="137.10" y="362.90" width="7.20" height="10.80" fill="#a0bede" stroke="none" stroke-width="1" />
<rect x="137.10" y="373.70" width="7.20" height="10.80" fill="#c0d6ea" stroke="none" stroke-width="1" />
<rect x="137.10" y="384.50" width="7.20" height="12.10" fill="#dfeaf4" stroke="none" stroke-width="1" />
<rect x="137.10" y="396.60" width="7.20" height="10.80" fill="#f3f8fb" stroke="none" stroke-width="1" />
<line x1="137.10" y1="316.80" x2="144.30" y2="316.80" stroke="#555" stroke-width="0.4" />
<line x1="137.10" y1="327.50" x2="144.30" y2="327.50" stroke="#555" stroke-width="0.4" />
<line x1="137.10" y1="339.00" x2="144.30" y2="339.00" stroke="#555" stroke-width="0.4" />
<line x1="137.10" y1="347.40" x2="144.30" y2="347.40" stroke="#555" stroke-width="0.4" />
<line x1="137.10" y1="362.90" x2="144.30" y2="362.90" stroke="#555" stroke-width="0.4" />
<line x1="137.10" y1="373.70" x2="144.30" y2="373.70" stroke="#555" stroke-width="0.4" />
<line x1="137.10" y1="384.50" x2="144.30" y2="384.50" stroke="#555" stroke-width="0.4" />
<line x1="137.10" y1="396.60" x2="144.30" y2="396.60" stroke="#555" stroke-width="0.4" />
<rect x="137.10" y="305.00" width="7.20" height="102.40" fill="none" stroke="#444" stroke-width="0.7" />
<text x="146.40" y="320.90" font-size="8.9" font-weight="bold" text-anchor="start" fill="#000" stroke="#000" stroke-width="0.25" >1.5</text>
<text x="146.40" y="332.00" font-size="8.9" font-weight="bold" text-anchor="start" fill="#000" stroke="#000" stroke-width="0.25" >1.0</text>
<text x="146.40" y="342.50" font-size="8.9" font-weight="bold" text-anchor="start" fill="#000" stroke="#000" stroke-width="0.25" >0.5</text>
<text x="146.40" y="359.50" font-size="8.9" font-weight="bold" text-anchor="start" fill="#000" stroke="#000" stroke-width="0.25" >0</text>
<text x="146.40" y="376.90" font-size="8.9" font-weight="bold" text-anchor="start" fill="#000" stroke="#000" stroke-width="0.25" >-0.5</text>
<text x="146.40" y="388.30" font-size="8.9" font-weight="bold" text-anchor="start" fill="#000" stroke="#000" stroke-width="0.25" >-1.0</text>
<text x="146.40" y="399.20" font-size="8.9" font-weight="bold" text-anchor="start" fill="#000" stroke="#000" stroke-width="0.25" >-1.5</text>
<text x="24.52" y="519.50" font-size="9.6" font-weight="bold" text-anchor="middle" fill="#000" stroke="#000" stroke-width="0.25" >#1</text>
<text x="37.17" y="519.50" font-size="9.6" font-weight="bold" text-anchor="middle" fill="#000" stroke="#000" stroke-width="0.25" >#2</text>
<text x="49.81" y="519.50" font-size="9.6" font-weight="bold" text-anchor="middle" fill="#000" stroke="#000" stroke-width="0.25" >#3</text>
<text x="62.46" y="519.50" font-size="9.6" font-weight="bold" text-anchor="middle" fill="#909090" stroke="#909090" stroke-width="0.25" >#1</text>
<text x="75.10" y="519.50" font-size="9.6" font-weight="bold" text-anchor="middle" fill="#909090" stroke="#909090" stroke-width="0.25" >#2</text>
<text x="87.74" y="519.50" font-size="9.6" font-weight="bold" text-anchor="middle" fill="#909090" stroke="#909090" stroke-width="0.25" >#3</text>
<text x="100.39" y="519.50" font-size="9.6" font-weight="bold" text-anchor="middle" fill="#909090" stroke="#909090" stroke-width="0.25" >#4</text>
<text x="113.03" y="519.50" font-size="9.6" font-weight="bold" text-anchor="middle" fill="#909090" stroke="#909090" stroke-width="0.25" >#5</text>
<text x="125.68" y="519.50" font-size="9.6" font-weight="bold" text-anchor="middle" fill="#909090" stroke="#909090" stroke-width="0.25" >#6</text>
<text x="184.60" y="283.80" font-size="24" font-weight="bold" text-anchor="start" fill="#000" stroke="#000" stroke-width="0.25" >F</text>
<text x="249.40" y="292.80" font-size="12.7" font-weight="bold" text-anchor="start" fill="#000" stroke="#000" stroke-width="0.25" >RNA-seq pathway analysis</text>
<text x="344.50" y="311.30" font-size="10.1" font-weight="bold" text-anchor="start" fill="#2b2be6" stroke="#2b2be6" stroke-width="0.25" >KEGG_UP</text>
<rect x="331.60" y="318.00" width="74.40" height="6.60" fill="#c8dcf8" stroke="#6474f2" stroke-width="0.9" />
<text x="0.00" y="0.00" font-size="7.68" font-weight="bold" text-anchor="end" fill="#2b2be6" stroke="#2b2be6" stroke-width="0.25" transform="translate(328.5 323.30) scale(1 1.07)">diabetic cardiomyopathy</text>
<rect x="331.60" y="326.30" width="73.90" height="6.60" fill="#c8dcf8" stroke="#6474f2" stroke-width="0.9" />
<text x="0.00" y="0.00" font-size="7.68" font-weight="bold" text-anchor="end" fill="#2b2be6" stroke="#2b2be6" stroke-width="0.25" transform="translate(328.5 331.60) scale(1 1.07)">glucagon signaling</text>
<rect x="331.60" y="334.60" width="73.90" height="6.60" fill="#c8dcf8" stroke="#6474f2" stroke-width="0.9" />
<text x="0.00" y="0.00" font-size="7.68" font-weight="bold" text-anchor="end" fill="#2b2be6" stroke="#2b2be6" stroke-width="0.25" transform="translate(328.5 339.90) scale(1 1.07)">cardiac muscle contraction</text>
<rect x="331.60" y="342.90" width="73.20" height="6.60" fill="#c8dcf8" stroke="#6474f2" stroke-width="0.9" />
<text x="0.00" y="0.00" font-size="7.68" font-weight="bold" text-anchor="end" fill="#2b2be6" stroke="#2b2be6" stroke-width="0.25" transform="translate(328.5 348.20) scale(1 1.07)">hypertrophic cardiomyopathy</text>
<rect x="331.60" y="351.20" width="72.70" height="6.60" fill="#c8dcf8" stroke="#6474f2" stroke-width="0.9" />
<text x="0.00" y="0.00" font-size="7.68" font-weight="bold" text-anchor="end" fill="#111" stroke="#111" stroke-width="0.25" transform="translate(328.5 356.50) scale(1 1.07)">oxidative phosphorylation</text>
<rect x="331.60" y="359.50" width="71.80" height="6.60" fill="#c8dcf8" stroke="#6474f2" stroke-width="0.9" />
<text x="0.00" y="0.00" font-size="7.68" font-weight="bold" text-anchor="end" fill="#111" stroke="#111" stroke-width="0.25" transform="translate(328.5 364.80) scale(1 1.07)">non-alcoholic fatty liver disease</text>
<rect x="331.60" y="367.80" width="71.60" height="6.60" fill="#c8dcf8" stroke="#6474f2" stroke-width="0.9" />
<text x="0.00" y="0.00" font-size="7.68" font-weight="bold" text-anchor="end" fill="#2b2be6" stroke="#2b2be6" stroke-width="0.25" transform="translate(328.5 373.10) scale(1 1.07)">adrener. signal. in cardiomyoc.</text>
<rect x="331.60" y="376.10" width="70.60" height="6.60" fill="#c8dcf8" stroke="#6474f2" stroke-width="0.9" />
<text x="0.00" y="0.00" font-size="7.68" font-weight="bold" text-anchor="end" fill="#111" stroke="#111" stroke-width="0.25" transform="translate(328.5 381.40) scale(1 1.07)">PPAR signaling pathway</text>
<rect x="331.60" y="384.40" width="70.10" height="6.60" fill="#c8dcf8" stroke="#6474f2" stroke-width="0.9" />
<text x="0.00" y="0.00" font-size="7.68" font-weight="bold" text-anchor="end" fill="#2b2be6" stroke="#2b2be6" stroke-width="0.25" transform="translate(328.5 389.70) scale(1 1.07)">calcium signaling pathway</text>
<rect x="331.60" y="392.70" width="68.80" height="6.60" fill="#c8dcf8" stroke="#6474f2" stroke-width="0.9" />
<text x="0.00" y="0.00" font-size="7.68" font-weight="bold" text-anchor="end" fill="#2b2be6" stroke="#2b2be6" stroke-width="0.25" transform="translate(328.5 398.00) scale(1 1.07)">dilated cardiomyopathy</text>
<rect x="274.70" y="401.00" width="56.30" height="6.60" fill="#eccaf8" stroke="#d48af0" stroke-width="0.9" />
<text x="0.00" y="0.00" font-size="7.68" font-weight="bold" text-anchor="start" fill="#111" stroke="#111" stroke-width="0.25" transform="translate(334.0 406.30) scale(1 1.07)">progest. mediated oocyte</text>
<rect x="273.60" y="409.30" width="57.40" height="6.60" fill="#eccaf8" stroke="#d48af0" stroke-width="0.9" />
<text x="0.00" y="0.00" font-size="7.68" font-weight="bold" text-anchor="start" fill="#111" stroke="#111" stroke-width="0.25" transform="translate(334.0 414.60) scale(1 1.07)">p53 signaling pathway</text>
<rect x="270.80" y="417.60" width="60.20" height="6.60" fill="#eccaf8" stroke="#d48af0" stroke-width="0.9" />
<text x="0.00" y="0.00" font-size="7.68" font-weight="bold" text-anchor="start" fill="#cc3ff0" stroke="#cc3ff0" stroke-width="0.25" transform="translate(334.0 422.90) scale(1 1.07)">Notch signaling pathway</text>
<rect x="268.20" y="425.90" width="62.80" height="6.60" fill="#eccaf8" stroke="#d48af0" stroke-width="0.9" />
<text x="0.00" y="0.00" font-size="7.68" font-weight="bold" text-anchor="start" fill="#cc3ff0" stroke="#cc3ff0" stroke-width="0.25" transform="translate(334.0 431.20) scale(1 1.07)">mismatch repair</text>
<rect x="268.20" y="434.20" width="62.80" height="6.60" fill="#eccaf8" stroke="#d48af0" stroke-width="0.9" />
<text x="0.00" y="0.00" font-size="7.68" font-weight="bold" text-anchor="start" fill="#cc3ff0" stroke="#cc3ff0" stroke-width="0.25" transform="translate(334.0 439.50) scale(1 1.07)">base excision repair</text>
<rect x="266.30" y="442.50" width="64.70" height="6.60" fill="#eccaf8" stroke="#d48af0" stroke-width="0.9" />
<text x="0.00" y="0.00" font-size="7.68" font-weight="bold" text-anchor="start" fill="#111" stroke="#111" stroke-width="0.25" transform="translate(334.0 447.80) scale(1 1.07)">viral interac. with cytokines</text>
<rect x="261.20" y="450.80" width="69.80" height="6.60" fill="#eccaf8" stroke="#d48af0" stroke-width="0.9" />
<text x="0.00" y="0.00" font-size="7.68" font-weight="bold" text-anchor="start" fill="#cc3ff0" stroke="#cc3ff0" stroke-width="0.25" transform="translate(334.0 456.10) scale(1 1.07)">Fanconi anemia pathway</text>
<rect x="257.30" y="459.10" width="73.70" height="6.60" fill="#eccaf8" stroke="#d48af0" stroke-width="0.9" />
<text x="0.00" y="0.00" font-size="7.68" font-weight="bold" text-anchor="start" fill="#cc3ff0" stroke="#cc3ff0" stroke-width="0.25" transform="translate(334.0 464.40) scale(1 1.07)">homologous recombination</text>
<rect x="257.30" y="467.40" width="73.70" height="6.60" fill="#eccaf8" stroke="#d48af0" stroke-width="0.9" />
<text x="0.00" y="0.00" font-size="7.68" font-weight="bold" text-anchor="start" fill="#cc3ff0" stroke="#cc3ff0" stroke-width="0.25" transform="translate(334.0 472.70) scale(1 1.07)">DNA replication</text>
<rect x="248.50" y="475.70" width="82.50" height="6.60" fill="#eccaf8" stroke="#d48af0" stroke-width="0.9" />
<text x="0.00" y="0.00" font-size="7.68" font-weight="bold" text-anchor="start" fill="#cc3ff0" stroke="#cc3ff0" stroke-width="0.25" transform="translate(334.0 481.00) scale(1 1.07)">cell cycle</text>
<line x1="331.30" y1="316.00" x2="331.30" y2="481.00" stroke="#999" stroke-width="0.8" />
<line x1="244.40" y1="481.70" x2="418.70" y2="481.70" stroke="#000" stroke-width="1.8" />
<line x1="260.70" y1="481.70" x2="260.70" y2="484.00" stroke="#000" stroke-width="1.2" />
<text x="260.70" y="495.80" font-size="10.3" font-weight="bold" text-anchor="middle" fill="#000" stroke="#000" stroke-width="0.25" >-2</text>
<line x1="296.00" y1="481.70" x2="296.00" y2="484.00" stroke="#000" stroke-width="1.2" />
<text x="296.00" y="495.80" font-size="10.3" font-weight="bold" text-anchor="middle" fill="#000" stroke="#000" stroke-width="0.25" >-1</text>
<line x1="331.30" y1="481.70" x2="331.30" y2="484.00" stroke="#000" stroke-width="1.2" />
<text x="331.30" y="495.80" font-size="10.3" font-weight="bold" text-anchor="middle" fill="#000" stroke="#000" stroke-width="0.25" >0</text>
<line x1="366.60" y1="481.70" x2="366.60" y2="484.00" stroke="#000" stroke-width="1.2" />
<text x="366.60" y="495.80" font-size="10.3" font-weight="bold" text-anchor="middle" fill="#000" stroke="#000" stroke-width="0.25" >1</text>
<line x1="401.90" y1="481.70" x2="401.90" y2="484.00" stroke="#000" stroke-width="1.2" />
<text x="401.90" y="495.80" font-size="10.3" font-weight="bold" text-anchor="middle" fill="#000" stroke="#000" stroke-width="0.25" >2</text>
<text x="267.70" y="508.90" font-size="10.4" font-weight="bold" text-anchor="start" fill="#cc3ff0" stroke="#cc3ff0" stroke-width="0.25" >KEGG_DN</text>
<text x="313.60" y="520.30" font-size="11.6" font-weight="bold" text-anchor="start" fill="#000" stroke="#000" stroke-width="0.25" >log<tspan font-size="8" dy="3">2</tspan><tspan dy="-3" font-style="italic">FC</tspan></text>
<text x="0.00" y="0.00" font-size="10.4" font-weight="bold" text-anchor="middle" fill="#000" stroke="#000" stroke-width="0.25" transform="translate(209.3 357.3) rotate(-90)">enrichment term</text>
<text x="0.00" y="0.00" font-size="10.4" font-weight="bold" text-anchor="middle" fill="#000" stroke="#000" stroke-width="0.25" transform="translate(441.2 440.6) rotate(90)">enrichment term</text>
<text x="436.00" y="284.30" font-size="26" font-weight="bold" text-anchor="start" fill="#000" stroke="#000" stroke-width="0.25" >G</text>
<line x1="457.60" y1="301.20" x2="457.60" y2="533.70" stroke="#d2d2d2" stroke-width="1.0" />
<text x="465.30" y="287.30" font-size="10.4" font-weight="bold" text-anchor="start" fill="#c640ee" stroke="#c640ee" stroke-width="0.25" >RNA-seq <tspan font-style="italic">in vivo</tspan></text>
<circle cx="522.10" cy="326.20" r="33.20" fill="none" stroke="#c640ee" stroke-width="1.4" />
<circle cx="557.20" cy="326.80" r="6.90" fill="none" stroke="#2a2ad6" stroke-width="1.6" />
<text x="518.10" y="330.40" font-size="10.2" font-weight="bold" text-anchor="middle" fill="#000" stroke="#000" stroke-width="0.25" >2161</text>
<text x="559.60" y="300.60" font-size="10.2" font-weight="bold" text-anchor="middle" fill="#000" stroke="#000" stroke-width="0.25" >27</text>
<text x="586.60" y="314.50" font-size="10.2" font-weight="bold" text-anchor="middle" fill="#000" stroke="#000" stroke-width="0.25" >73</text>
<line x1="556.00" y1="305.50" x2="553.80" y2="327.50" stroke="#000" stroke-width="0.9" />
<line x1="579.80" y1="315.50" x2="557.50" y2="326.40" stroke="#000" stroke-width="0.9" />
<text x="637.70" y="329.60" font-size="10.2" font-weight="bold" text-anchor="middle" fill="#000" stroke="#000" stroke-width="0.25" >downregulated</text>
<text x="637.70" y="341.20" font-size="10.2" font-weight="bold" text-anchor="middle" fill="#000" stroke="#000" stroke-width="0.25" >genes</text>
<text x="576.20" y="351.40" font-size="10.3" font-weight="bold" text-anchor="middle" fill="#2a2ad6" stroke="#2a2ad6" stroke-width="0.25" >RNA-seq</text>
<text x="576.40" y="363.80" font-size="10.3" font-weight="bold" text-anchor="middle" fill="#2a2ad6" stroke="#2a2ad6" stroke-width="0.25" >after <tspan font-style="italic">SSX</tspan> KD</text>
<text x="577.90" y="376.20" font-size="10.3" font-weight="bold" text-anchor="middle" fill="#2a2ad6" stroke="#2a2ad6" stroke-width="0.25" >(100 most downregulated)</text>
<text x="465.30" y="421.70" font-size="10.4" font-weight="bold" text-anchor="start" fill="#c640ee" stroke="#c640ee" stroke-width="0.25" >RNA-seq <tspan font-style="italic">in vivo</tspan></text>
<circle cx="530.00" cy="462.50" r="32.40" fill="none" stroke="#c640ee" stroke-width="1.4" />
<circle cx="563.40" cy="462.80" r="6.90" fill="none" stroke="#2a2ad6" stroke-width="1.6" />
<text x="526.00" y="466.70" font-size="10.2" font-weight="bold" text-anchor="middle" fill="#000" stroke="#000" stroke-width="0.25" >2236</text>
<text x="565.50" y="431.50" font-size="10.2" font-weight="bold" text-anchor="middle" fill="#000" stroke="#000" stroke-width="0.25" >39</text>
<text x="590.10" y="449.60" font-size="10.2" font-weight="bold" text-anchor="middle" fill="#000" stroke="#000" stroke-width="0.25" >61</text>
<line x1="565.30" y1="437.80" x2="561.20" y2="462.00" stroke="#000" stroke-width="0.9" />
<line x1="582.20" y1="450.90" x2="564.90" y2="462.40" stroke="#000" stroke-width="0.9" />
<text x="645.00" y="454.00" font-size="10.2" font-weight="bold" text-anchor="middle" fill="#000" stroke="#000" stroke-width="0.25" >upregulated</text>
<text x="645.00" y="466.40" font-size="10.2" font-weight="bold" text-anchor="middle" fill="#000" stroke="#000" stroke-width="0.25" >genes</text>
<text x="585.00" y="486.90" font-size="10.3" font-weight="bold" text-anchor="middle" fill="#2a2ad6" stroke="#2a2ad6" stroke-width="0.25" >RNA-seq</text>
<text x="586.80" y="499.10" font-size="10.3" font-weight="bold" text-anchor="middle" fill="#2a2ad6" stroke="#2a2ad6" stroke-width="0.25" >after <tspan font-style="italic">SSX</tspan> KD</text>
<text x="586.70" y="510.00" font-size="10.3" font-weight="bold" text-anchor="middle" fill="#2a2ad6" stroke="#2a2ad6" stroke-width="0.25" >(100 most upregulated)</text>
<text x="0.50" y="561.80" font-size="24" font-weight="bold" text-anchor="start" fill="#000" stroke="#000" stroke-width="0.25" >H</text>
<text x="80.60" y="568.50" font-size="11.5" font-weight="bold" text-anchor="middle" fill="#c62cf0" stroke="#c62cf0" stroke-width="0.25" >100 most</text>
<text x="80.60" y="582.50" font-size="11.5" font-weight="bold" text-anchor="middle" fill="#c62cf0" stroke="#c62cf0" stroke-width="0.25" >downregulated</text>
<text x="80.60" y="596.10" font-size="11.5" font-weight="bold" text-anchor="middle" fill="#c62cf0" stroke="#c62cf0" stroke-width="0.25" >genes after</text>
<text x="80.60" y="609.60" font-size="11.5" font-weight="bold" text-anchor="middle" fill="#c62cf0" stroke="#c62cf0" stroke-width="0.25" >SSX KD</text>
<text x="158.60" y="568.50" font-size="11.5" font-weight="bold" text-anchor="middle" fill="#2424e2" stroke="#2424e2" stroke-width="0.25" >100 most</text>
<text x="158.60" y="582.50" font-size="11.5" font-weight="bold" text-anchor="middle" fill="#2424e2" stroke="#2424e2" stroke-width="0.25" >upregulated</text>
<text x="158.60" y="596.10" font-size="11.5" font-weight="bold" text-anchor="middle" fill="#2424e2" stroke="#2424e2" stroke-width="0.25" >genes after</text>
<text x="158.60" y="609.60" font-size="11.5" font-weight="bold" text-anchor="middle" fill="#2424e2" stroke="#2424e2" stroke-width="0.25" >SSX KD</text>
<line x1="52.70" y1="617.80" x2="107.90" y2="617.80" stroke="#c62cf0" stroke-width="2.0" />
<line x1="125.70" y1="617.80" x2="186.10" y2="617.80" stroke="#2424e2" stroke-width="2.0" />
<line x1="50.70" y1="637.30" x2="50.70" y2="878.20" stroke="#000" stroke-width="2.0" />
<line x1="48.20" y1="664.30" x2="50.70" y2="664.30" stroke="#000" stroke-width="1.5" />
<text x="43.00" y="668.60" font-size="12.2" font-weight="bold" text-anchor="end" fill="#000" stroke="#000" stroke-width="0.25" >3</text>
<line x1="48.20" y1="717.55" x2="50.70" y2="717.55" stroke="#000" stroke-width="1.5" />
<text x="43.00" y="721.85" font-size="12.2" font-weight="bold" text-anchor="end" fill="#000" stroke="#000" stroke-width="0.25" >2.5</text>
<line x1="48.20" y1="770.80" x2="50.70" y2="770.80" stroke="#000" stroke-width="1.5" />
<text x="43.00" y="775.10" font-size="12.2" font-weight="bold" text-anchor="end" fill="#000" stroke="#000" stroke-width="0.25" >2</text>
<line x1="48.20" y1="824.05" x2="50.70" y2="824.05" stroke="#000" stroke-width="1.5" />
<text x="43.00" y="828.35" font-size="12.2" font-weight="bold" text-anchor="end" fill="#000" stroke="#000" stroke-width="0.25" >1.5</text>
<line x1="48.20" y1="877.30" x2="50.70" y2="877.30" stroke="#000" stroke-width="1.5" />
<text x="43.00" y="881.60" font-size="12.2" font-weight="bold" text-anchor="end" fill="#000" stroke="#000" stroke-width="0.25" >1</text>
<line x1="48.50" y1="877.30" x2="171.40" y2="877.30" stroke="#000" stroke-width="2.0" />
<line x1="63.15" y1="877.30" x2="63.15" y2="880.20" stroke="#000" stroke-width="1.5" />
<text x="61.55" y="896.40" font-size="12.2" font-weight="bold" text-anchor="middle" fill="#000" stroke="#000" stroke-width="0.25" >-5</text>
<line x1="94.70" y1="877.30" x2="94.70" y2="880.20" stroke="#000" stroke-width="1.5" />
<text x="94.70" y="896.40" font-size="12.2" font-weight="bold" text-anchor="middle" fill="#000" stroke="#000" stroke-width="0.25" >0</text>
<line x1="126.25" y1="877.30" x2="126.25" y2="880.20" stroke="#000" stroke-width="1.5" />
<text x="126.25" y="896.40" font-size="12.2" font-weight="bold" text-anchor="middle" fill="#000" stroke="#000" stroke-width="0.25" >5</text>
<line x1="157.80" y1="877.30" x2="157.80" y2="880.20" stroke="#000" stroke-width="1.5" />
<text x="157.80" y="896.40" font-size="12.2" font-weight="bold" text-anchor="middle" fill="#000" stroke="#000" stroke-width="0.25" >10</text>
<text x="114.00" y="914.20" font-size="11.6" font-weight="bold" text-anchor="middle" fill="#000" stroke="#000" stroke-width="0.25" >log<tspan font-size="8.5" dy="3">2</tspan><tspan dy="-3">fc</tspan></text>
<text x="0.00" y="0.00" font-size="12.6" font-weight="bold" text-anchor="middle" fill="#000" stroke="#000" stroke-width="0.25" transform="translate(17.6 753.4) rotate(-90)">-log<tspan font-size="9" dy="3">10</tspan><tspan dy="-3">padj</tspan></text>
<circle cx="59.50" cy="661.70" r="2.75" fill="#e8c6f6" stroke="#555" stroke-width="0.6" />
<circle cx="67.90" cy="656.60" r="2.75" fill="#e8c6f6" stroke="#555" stroke-width="0.6" />
<circle cx="65.80" cy="669.20" r="2.75" fill="#e8c6f6" stroke="#555" stroke-width="0.6" />
<circle cx="65.80" cy="674.60" r="2.75" fill="#e8c6f6" stroke="#555" stroke-width="0.6" />
<circle cx="74.20" cy="674.00" r="2.75" fill="#e8c6f6" stroke="#555" stroke-width="0.6" />
<circle cx="70.60" cy="682.90" r="2.75" fill="#e8c6f6" stroke="#555" stroke-width="0.6" />
<circle cx="73.60" cy="684.10" r="2.75" fill="#e8c6f6" stroke="#555" stroke-width="0.6" />
<circle cx="65.20" cy="688.90" r="2.75" fill="#e8c6f6" stroke="#555" stroke-width="0.6" />
<circle cx="74.80" cy="689.50" r="2.75" fill="#e8c6f6" stroke="#555" stroke-width="0.6" />
<circle cx="71.20" cy="700.30" r="2.75" fill="#e8c6f6" stroke="#555" stroke-width="0.6" />
<circle cx="71.80" cy="701.20" r="2.75" fill="#e8c6f6" stroke="#555" stroke-width="0.6" />
<circle cx="67.00" cy="710.80" r="2.75" fill="#e8c6f6" stroke="#555" stroke-width="0.6" />
<circle cx="65.80" cy="715.00" r="2.75" fill="#e8c6f6" stroke="#555" stroke-width="0.6" />
<circle cx="65.80" cy="722.80" r="2.75" fill="#e8c6f6" stroke="#555" stroke-width="0.6" />
<circle cx="71.20" cy="738.90" r="2.75" fill="#e8c6f6" stroke="#555" stroke-width="0.6" />
<circle cx="69.40" cy="740.70" r="2.75" fill="#e8c6f6" stroke="#555" stroke-width="0.6" />
<circle cx="74.50" cy="743.10" r="2.75" fill="#e8c6f6" stroke="#555" stroke-width="0.6" />
<circle cx="70.00" cy="749.10" r="2.75" fill="#e8c6f6" stroke="#555" stroke-width="0.6" />
<circle cx="64.60" cy="752.80" r="2.75" fill="#e8c6f6" stroke="#555" stroke-width="0.6" />
<circle cx="72.70" cy="759.10" r="2.75" fill="#e8c6f6" stroke="#555" stroke-width="0.6" />
<circle cx="68.80" cy="765.10" r="2.75" fill="#e8c6f6" stroke="#555" stroke-width="0.6" />
<circle cx="71.50" cy="765.10" r="2.75" fill="#e8c6f6" stroke="#555" stroke-width="0.6" />
<circle cx="70.60" cy="771.60" r="2.75" fill="#e8c6f6" stroke="#555" stroke-width="0.6" />
<circle cx="73.90" cy="772.50" r="2.75" fill="#e8c6f6" stroke="#555" stroke-width="0.6" />
<circle cx="74.20" cy="776.10" r="2.75" fill="#e8c6f6" stroke="#555" stroke-width="0.6" />
<circle cx="70.60" cy="785.70" r="2.75" fill="#e8c6f6" stroke="#555" stroke-width="0.6" />
<circle cx="72.90" cy="792.90" r="2.75" fill="#e8c6f6" stroke="#555" stroke-width="0.6" />
<circle cx="73.50" cy="801.10" r="2.75" fill="#e8c6f6" stroke="#555" stroke-width="0.6" />
<circle cx="68.00" cy="802.70" r="2.75" fill="#e8c6f6" stroke="#555" stroke-width="0.6" />
<circle cx="70.90" cy="814.50" r="2.75" fill="#e8c6f6" stroke="#555" stroke-width="0.6" />
<circle cx="72.90" cy="816.80" r="2.75" fill="#e8c6f6" stroke="#555" stroke-width="0.6" />
<circle cx="70.00" cy="836.30" r="2.75" fill="#e8c6f6" stroke="#555" stroke-width="0.6" />
<circle cx="73.50" cy="846.80" r="2.75" fill="#e8c6f6" stroke="#555" stroke-width="0.6" />
<circle cx="65.20" cy="659.90" r="2.75" fill="#8800d2" stroke="#140018" stroke-width="0.85" />
<circle cx="70.00" cy="659.00" r="2.75" fill="#8800d2" stroke="#140018" stroke-width="0.85" />
<circle cx="73.00" cy="662.60" r="2.75" fill="#8800d2" stroke="#140018" stroke-width="0.85" />
<circle cx="74.20" cy="666.80" r="2.75" fill="#8800d2" stroke="#140018" stroke-width="0.85" />
<circle cx="70.00" cy="668.00" r="2.75" fill="#8800d2" stroke="#140018" stroke-width="0.85" />
<circle cx="73.60" cy="670.40" r="2.75" fill="#8800d2" stroke="#140018" stroke-width="0.85" />
<circle cx="70.00" cy="674.00" r="2.75" fill="#8800d2" stroke="#140018" stroke-width="0.85" />
<circle cx="69.40" cy="678.10" r="2.75" fill="#8800d2" stroke="#140018" stroke-width="0.85" />
<circle cx="74.20" cy="678.70" r="2.75" fill="#8800d2" stroke="#140018" stroke-width="0.85" />
<circle cx="71.80" cy="688.30" r="2.75" fill="#8800d2" stroke="#140018" stroke-width="0.85" />
<circle cx="71.80" cy="694.30" r="2.75" fill="#8800d2" stroke="#140018" stroke-width="0.85" />
<circle cx="74.80" cy="694.90" r="2.75" fill="#8800d2" stroke="#140018" stroke-width="0.85" />
<circle cx="61.60" cy="697.90" r="2.75" fill="#8800d2" stroke="#140018" stroke-width="0.85" />
<circle cx="73.00" cy="702.70" r="2.75" fill="#8800d2" stroke="#140018" stroke-width="0.85" />
<circle cx="64.60" cy="706.60" r="2.75" fill="#8800d2" stroke="#140018" stroke-width="0.85" />
<circle cx="68.80" cy="706.60" r="2.75" fill="#8800d2" stroke="#140018" stroke-width="0.85" />
<circle cx="73.60" cy="705.40" r="2.75" fill="#8800d2" stroke="#140018" stroke-width="0.85" />
<circle cx="68.20" cy="715.60" r="2.75" fill="#8800d2" stroke="#140018" stroke-width="0.85" />
<circle cx="72.40" cy="713.80" r="2.75" fill="#8800d2" stroke="#140018" stroke-width="0.85" />
<circle cx="65.80" cy="720.40" r="2.75" fill="#8800d2" stroke="#140018" stroke-width="0.85" />
<circle cx="71.20" cy="719.20" r="2.75" fill="#8800d2" stroke="#140018" stroke-width="0.85" />
<circle cx="70.60" cy="724.00" r="2.75" fill="#8800d2" stroke="#140018" stroke-width="0.85" />
<circle cx="73.00" cy="728.70" r="2.75" fill="#8800d2" stroke="#140018" stroke-width="0.85" />
<circle cx="73.90" cy="733.20" r="2.75" fill="#8800d2" stroke="#140018" stroke-width="0.85" />
<circle cx="68.20" cy="753.70" r="2.75" fill="#8800d2" stroke="#140018" stroke-width="0.85" />
<circle cx="73.00" cy="751.60" r="2.75" fill="#8800d2" stroke="#140018" stroke-width="0.85" />
<circle cx="64.60" cy="777.30" r="2.75" fill="#8800d2" stroke="#140018" stroke-width="0.85" />
<circle cx="71.20" cy="780.00" r="2.75" fill="#8800d2" stroke="#140018" stroke-width="0.85" />
<circle cx="73.00" cy="781.20" r="2.75" fill="#8800d2" stroke="#140018" stroke-width="0.85" />
<circle cx="71.90" cy="797.80" r="2.75" fill="#8800d2" stroke="#140018" stroke-width="0.85" />
<circle cx="72.20" cy="805.30" r="2.75" fill="#8800d2" stroke="#140018" stroke-width="0.85" />
<circle cx="159.40" cy="647.30" r="2.75" fill="#9090ec" stroke="#333" stroke-width="0.6" />
<circle cx="137.70" cy="659.80" r="2.75" fill="#cfcff4" stroke="#555" stroke-width="0.6" />
<circle cx="128.10" cy="677.80" r="2.75" fill="#cfcff4" stroke="#555" stroke-width="0.6" />
<circle cx="141.00" cy="695.50" r="2.75" fill="#cfcff4" stroke="#555" stroke-width="0.6" />
<circle cx="149.00" cy="694.20" r="2.75" fill="#cfcff4" stroke="#555" stroke-width="0.6" />
<circle cx="129.70" cy="698.70" r="2.75" fill="#cfcff4" stroke="#555" stroke-width="0.6" />
<circle cx="128.10" cy="706.70" r="2.75" fill="#cfcff4" stroke="#555" stroke-width="0.6" />
<circle cx="141.00" cy="705.00" r="2.75" fill="#cfcff4" stroke="#555" stroke-width="0.6" />
<circle cx="128.10" cy="710.70" r="2.75" fill="#cfcff4" stroke="#555" stroke-width="0.6" />
<circle cx="134.50" cy="717.70" r="2.75" fill="#cfcff4" stroke="#555" stroke-width="0.6" />
<circle cx="131.80" cy="763.80" r="2.75" fill="#cfcff4" stroke="#555" stroke-width="0.6" />
<circle cx="133.00" cy="649.00" r="2.75" fill="#cfcff4" stroke="#555" stroke-width="0.6" />
<circle cx="127.00" cy="661.00" r="2.75" fill="#cfcff4" stroke="#555" stroke-width="0.6" />
<circle cx="132.90" cy="647.30" r="2.75" fill="#1010d8" stroke="#000018" stroke-width="0.85" />
<circle cx="136.00" cy="647.30" r="2.75" fill="#1010d8" stroke="#000018" stroke-width="0.85" />
<circle cx="139.50" cy="647.30" r="2.75" fill="#1010d8" stroke="#000018" stroke-width="0.85" />
<circle cx="143.00" cy="647.30" r="2.75" fill="#1010d8" stroke="#000018" stroke-width="0.85" />
<circle cx="146.50" cy="647.30" r="2.75" fill="#1010d8" stroke="#000018" stroke-width="0.85" />
<circle cx="150.00" cy="647.30" r="2.75" fill="#1010d8" stroke="#000018" stroke-width="0.85" />
<circle cx="126.50" cy="655.30" r="2.75" fill="#1010d8" stroke="#000018" stroke-width="0.85" />
<circle cx="130.00" cy="655.30" r="2.75" fill="#1010d8" stroke="#000018" stroke-width="0.85" />
<circle cx="133.50" cy="655.30" r="2.75" fill="#1010d8" stroke="#000018" stroke-width="0.85" />
<circle cx="137.00" cy="655.30" r="2.75" fill="#1010d8" stroke="#000018" stroke-width="0.85" />
<circle cx="140.50" cy="655.30" r="2.75" fill="#1010d8" stroke="#000018" stroke-width="0.85" />
<circle cx="147.40" cy="655.30" r="2.75" fill="#1010d8" stroke="#000018" stroke-width="0.85" />
<circle cx="127.00" cy="659.50" r="2.75" fill="#1010d8" stroke="#000018" stroke-width="0.85" />
<circle cx="131.00" cy="660.00" r="2.75" fill="#1010d8" stroke="#000018" stroke-width="0.85" />
<circle cx="129.50" cy="668.20" r="2.75" fill="#1010d8" stroke="#000018" stroke-width="0.85" />
<circle cx="133.00" cy="666.00" r="2.75" fill="#1010d8" stroke="#000018" stroke-width="0.85" />
<circle cx="136.00" cy="669.00" r="2.75" fill="#1010d8" stroke="#000018" stroke-width="0.85" />
<circle cx="140.00" cy="667.00" r="2.75" fill="#1010d8" stroke="#000018" stroke-width="0.85" />
<circle cx="146.60" cy="668.20" r="2.75" fill="#1010d8" stroke="#000018" stroke-width="0.85" />
<circle cx="142.10" cy="673.00" r="2.75" fill="#1010d8" stroke="#000018" stroke-width="0.85" />
<circle cx="130.00" cy="671.00" r="2.75" fill="#1010d8" stroke="#000018" stroke-width="0.85" />
<circle cx="138.50" cy="677.80" r="2.75" fill="#1010d8" stroke="#000018" stroke-width="0.85" />
<circle cx="133.00" cy="681.00" r="2.75" fill="#1010d8" stroke="#000018" stroke-width="0.85" />
<circle cx="136.50" cy="682.00" r="2.75" fill="#1010d8" stroke="#000018" stroke-width="0.85" />
<circle cx="140.00" cy="681.50" r="2.75" fill="#1010d8" stroke="#000018" stroke-width="0.85" />
<circle cx="134.00" cy="685.50" r="2.75" fill="#1010d8" stroke="#000018" stroke-width="0.85" />
<circle cx="138.00" cy="686.00" r="2.75" fill="#1010d8" stroke="#000018" stroke-width="0.85" />
<circle cx="142.00" cy="684.50" r="2.75" fill="#1010d8" stroke="#000018" stroke-width="0.85" />
<circle cx="130.50" cy="689.50" r="2.75" fill="#1010d8" stroke="#000018" stroke-width="0.85" />
<circle cx="129.00" cy="693.00" r="2.75" fill="#1010d8" stroke="#000018" stroke-width="0.85" />
<circle cx="128.10" cy="693.90" r="2.75" fill="#1010d8" stroke="#000018" stroke-width="0.85" />
<circle cx="133.40" cy="706.70" r="2.75" fill="#1010d8" stroke="#000018" stroke-width="0.85" />
<circle cx="138.20" cy="710.70" r="2.75" fill="#1010d8" stroke="#000018" stroke-width="0.85" />
<circle cx="135.70" cy="715.60" r="2.75" fill="#1010d8" stroke="#000018" stroke-width="0.85" />
<circle cx="141.60" cy="740.80" r="2.75" fill="#1010d8" stroke="#000018" stroke-width="0.85" />
<circle cx="131.80" cy="746.00" r="2.75" fill="#1010d8" stroke="#000018" stroke-width="0.85" />
<text x="77.10" y="660.10" font-size="7.3" font-weight="bold" text-anchor="start" fill="#000" stroke="#000" stroke-width="0.25" >KCNQ2</text>
<text x="78.50" y="680.20" font-size="7.3" font-weight="bold" text-anchor="start" fill="#000" stroke="#000" stroke-width="0.25" >NTNG2</text>
<text x="83.00" y="697.40" font-size="7.3" font-weight="bold" text-anchor="start" fill="#000" stroke="#000" stroke-width="0.25" >LHX2</text>
<text x="79.10" y="709.90" font-size="7.3" font-weight="bold" text-anchor="start" fill="#000" stroke="#000" stroke-width="0.25" >BMP7</text>
<text x="77.60" y="718.10" font-size="7.3" font-weight="bold" text-anchor="start" fill="#000" stroke="#000" stroke-width="0.25" >WNT3A</text>
<text x="79.70" y="735.70" font-size="7.3" font-weight="bold" text-anchor="start" fill="#000" stroke="#000" stroke-width="0.25" >FGF8</text>
<text x="78.20" y="756.20" font-size="7.3" font-weight="bold" text-anchor="start" fill="#000" stroke="#000" stroke-width="0.25" >SHH</text>
<text x="81.20" y="777.70" font-size="7.3" font-weight="bold" text-anchor="start" fill="#000" stroke="#000" stroke-width="0.25" >MNX1</text>
<text x="44.90" y="682.50" font-size="7.3" font-weight="bold" text-anchor="start" fill="#333" stroke="#333" stroke-width="0.25" >SOX8</text>
<text x="20.90" y="698.00" font-size="7.3" font-weight="bold" text-anchor="start" fill="#000" stroke="#000" stroke-width="0.25" >NTSR1</text>
<line x1="43.60" y1="695.60" x2="59.20" y2="697.40" stroke="#333" stroke-width="0.8" />
<line x1="74.50" y1="775.50" x2="80.50" y2="775.30" stroke="#777" stroke-width="1.0" />
<text x="138.20" y="631.00" font-size="7.3" font-weight="bold" text-anchor="start" fill="#000" stroke="#000" stroke-width="0.25" >SPARC</text>
<text x="164.20" y="638.20" font-size="7.3" font-weight="bold" text-anchor="start" fill="#000" stroke="#000" stroke-width="0.25" >TGM2</text>
<text x="104.80" y="645.10" font-size="7.3" font-weight="bold" text-anchor="start" fill="#000" stroke="#000" stroke-width="0.25" >COL1A1</text>
<text x="177.10" y="647.00" font-size="7.3" font-weight="bold" text-anchor="start" fill="#000" stroke="#000" stroke-width="0.25" >COL1A2</text>
<text x="152.20" y="660.70" font-size="7.3" font-weight="bold" text-anchor="start" fill="#000" stroke="#000" stroke-width="0.25" >CAV1</text>
<text x="178.70" y="675.90" font-size="7.3" font-weight="bold" text-anchor="start" fill="#000" stroke="#000" stroke-width="0.25" >COL3A1</text>
<text x="145.80" y="683.60" font-size="7.3" font-weight="bold" text-anchor="start" fill="#000" stroke="#000" stroke-width="0.25" >CNN1</text>
<text x="145.30" y="691.30" font-size="7.3" font-weight="bold" text-anchor="start" fill="#000" stroke="#000" stroke-width="0.25" >CD44</text>
<text x="157.00" y="704.20" font-size="7.3" font-weight="bold" text-anchor="start" fill="#000" stroke="#000" stroke-width="0.25" >LTBP1</text>
<text x="147.10" y="744.00" font-size="7.3" font-weight="bold" text-anchor="start" fill="#000" stroke="#000" stroke-width="0.25" >TGFBI</text>
<line x1="146.60" y1="632.80" x2="139.30" y2="647.60" stroke="#000" stroke-width="0.9" />
<line x1="163.40" y1="638.50" x2="148.20" y2="645.70" stroke="#000" stroke-width="0.9" />
<line x1="174.20" y1="645.70" x2="142.60" y2="654.00" stroke="#000" stroke-width="0.9" />
<line x1="176.80" y1="671.10" x2="140.10" y2="657.30" stroke="#000" stroke-width="0.9" />
<line x1="153.80" y1="698.70" x2="133.70" y2="689.40" stroke="#000" stroke-width="0.9" />
<text x="228.50" y="561.60" font-size="24" font-weight="bold" text-anchor="start" fill="#000" stroke="#000" stroke-width="0.25" >I</text>
<text x="272.80" y="556.40" font-size="9.0" font-weight="bold" text-anchor="middle" fill="#000" stroke="#000" stroke-width="0.25" >1</text>
<text x="298.80" y="556.40" font-size="9.0" font-weight="bold" text-anchor="middle" fill="#000" stroke="#000" stroke-width="0.25" >0.54</text>
<text x="323.60" y="556.40" font-size="9.0" font-weight="bold" text-anchor="middle" fill="#000" stroke="#000" stroke-width="0.25" >0.43</text>
<text x="347.60" y="556.40" font-size="9.0" font-weight="bold" text-anchor="middle" fill="#000" stroke="#000" stroke-width="0.25" >0.21</text>
<text x="371.60" y="556.40" font-size="9.0" font-weight="bold" text-anchor="middle" fill="#000" stroke="#000" stroke-width="0.25" >0.12</text>
<text x="395.60" y="556.40" font-size="9.0" font-weight="bold" text-anchor="middle" fill="#000" stroke="#000" stroke-width="0.25" >0.07</text>
<text x="272.80" y="652.20" font-size="9.0" font-weight="bold" text-anchor="middle" fill="#000" stroke="#000" stroke-width="0.25" >1</text>
<text x="298.80" y="652.20" font-size="9.0" font-weight="bold" text-anchor="middle" fill="#000" stroke="#000" stroke-width="0.25" >1.28</text>
<text x="323.60" y="652.20" font-size="9.0" font-weight="bold" text-anchor="middle" fill="#000" stroke="#000" stroke-width="0.25" >1.02</text>
<text x="347.60" y="652.20" font-size="9.0" font-weight="bold" text-anchor="middle" fill="#000" stroke="#000" stroke-width="0.25" >2.81</text>
<text x="371.60" y="652.20" font-size="9.0" font-weight="bold" text-anchor="middle" fill="#000" stroke="#000" stroke-width="0.25" >2.84</text>
<text x="395.60" y="652.20" font-size="9.0" font-weight="bold" text-anchor="middle" fill="#000" stroke="#000" stroke-width="0.25" >2.62</text>
<defs><linearGradient id="ln1" x1="0" y1="0" x2="0" y2="1"><stop offset="0" stop-color="#c4c4c4"/><stop offset="0.15" stop-color="#a4a4a4"/><stop offset="0.35" stop-color="#707070"/><stop offset="0.5" stop-color="#5e5e5e"/><stop offset="0.75" stop-color="#666666"/><stop offset="1" stop-color="#a0a0a0"/></linearGradient><linearGradient id="ln2" x1="0" y1="0" x2="0" y2="1"><stop offset="0" stop-color="#e4e4e4"/><stop offset="0.15" stop-color="#c8c8c8"/><stop offset="0.5" stop-color="#a8a8a8"/><stop offset="0.75" stop-color="#9c9c9c"/><stop offset="1" stop-color="#bdbdbd"/></linearGradient><linearGradient id="ln3" x1="0" y1="0" x2="0" y2="1"><stop offset="0" stop-color="#e6e6e6"/><stop offset="0.2" stop-color="#d0d0d0"/><stop offset="0.5" stop-color="#b4b4b4"/><stop offset="0.8" stop-color="#b0b0b0"/><stop offset="1" stop-color="#c6c6c6"/></linearGradient><linearGradient id="ln4" x1="0" y1="0" x2="0" y2="1"><stop offset="0" stop-color="#ececec"/><stop offset="0.5" stop-color="#d8d8d8"/><stop offset="1" stop-color="#d4d4d4"/></linearGradient><linearGradient id="ln5" x1="0" y1="0" x2="0" y2="1"><stop offset="0" stop-color="#f0f0f0"/><stop offset="1" stop-color="#e2e2e2"/></linearGradient><linearGradient id="ln6" x1="0" y1="0" x2="0" y2="1"><stop offset="0" stop-color="#f2f2f2"/><stop offset="1" stop-color="#e8e8e8"/></linearGradient><clipPath id="cpS"><rect x="259.4" y="558.7" width="149.8" height="83.3"/></clipPath><clipPath id="cpP"><rect x="259.2" y="653.2" width="150.4" height="18"/></clipPath><clipPath id="cpG"><rect x="259.2" y="682.4" width="150.4" height="18"/></clipPath></defs>
<g clip-path="url(#cpS)">
<rect x="259.40" y="558.70" width="149.80" height="83.30" fill="#f1f1f1" stroke="none" stroke-width="1" />
<g filter="url(#blur1)">
<path d="M266.5,567 L283.0,567 C283.5,582 283.8,592 283.8,599 L283.8,643 L262.6,643 L262.6,599 C262.6,592 266.0,582 266.5,567 Z" fill="url(#ln1)"/>
<path d="M290.5,565 L308.5,565 C309.0,580 309.5,590 309.5,597 L309.5,643 L288.3,643 L288.3,597 C288.3,590 290.0,580 290.5,565 Z" fill="url(#ln2)"/>
<path d="M316.0,566 L333.0,566 C333.5,581 333.8,591 333.8,598 L333.8,643 L314.0,643 L314.0,598 C314.0,591 315.5,581 316.0,566 Z" fill="url(#ln3)"/>
<path d="M339.5,562 L356.5,562 C357.0,577 357.0,587 357.0,594 L357.0,643 L338.0,643 L338.0,594 C338.0,587 339.0,577 339.5,562 Z" fill="url(#ln4)"/>
<path d="M363.0,562 L380.5,562 C381.0,577 381.2,587 381.2,594 L381.2,643 L361.6,643 L361.6,594 C361.6,587 362.5,577 363.0,562 Z" fill="url(#ln5)"/>
<path d="M387.0,562 L404.5,562 C405.0,577 405.2,587 405.2,594 L405.2,643 L385.8,643 L385.8,594 C385.8,587 386.5,577 387.0,562 Z" fill="url(#ln6)"/>
<rect x="263.30" y="598.75" width="19.80" height="3.50" fill="#101010" stroke="none" stroke-width="1" opacity="1" rx="1.2"/>
<rect x="263.30" y="617.45" width="19.80" height="2.50" fill="#303030" stroke="none" stroke-width="1" opacity="0.9" rx="1.2"/>
<rect x="263.30" y="622.30" width="19.80" height="3.20" fill="#080808" stroke="none" stroke-width="1" opacity="1" rx="1.2"/>
<rect x="263.30" y="627.95" width="19.80" height="2.50" fill="#404040" stroke="none" stroke-width="1" opacity="0.8" rx="1.2"/>
<rect x="288.80" y="599.00" width="20.00" height="3.00" fill="#808080" stroke="none" stroke-width="1" opacity="0.9" rx="1.2"/>
<rect x="288.80" y="617.45" width="20.00" height="2.50" fill="#505050" stroke="none" stroke-width="1" opacity="0.9" rx="1.2"/>
<rect x="288.80" y="622.50" width="20.00" height="2.80" fill="#606060" stroke="none" stroke-width="1" opacity="0.9" rx="1.2"/>
<rect x="288.80" y="628.20" width="20.00" height="2.00" fill="#8a8a8a" stroke="none" stroke-width="1" opacity="0.7" rx="1.2"/>
<rect x="314.50" y="598.90" width="18.60" height="3.20" fill="#606060" stroke="none" stroke-width="1" opacity="1" rx="1.2"/>
<rect x="314.50" y="622.90" width="18.60" height="2.60" fill="#8a8a8a" stroke="none" stroke-width="1" opacity="0.9" rx="1.2"/>
<rect x="314.50" y="629.00" width="18.60" height="2.00" fill="#a0a0a0" stroke="none" stroke-width="1" opacity="0.7" rx="1.2"/>
<rect x="338.50" y="598.10" width="17.80" height="3.60" fill="#555555" stroke="none" stroke-width="1" opacity="1" rx="1.2"/>
<rect x="338.50" y="615.00" width="17.80" height="2.00" fill="#c4c4c4" stroke="none" stroke-width="1" opacity="0.8" rx="1.2"/>
<rect x="362.10" y="597.40" width="18.40" height="3.00" fill="#8a8a8a" stroke="none" stroke-width="1" opacity="1" rx="1.2"/>
<rect x="362.10" y="614.55" width="18.40" height="2.50" fill="#cfcfcf" stroke="none" stroke-width="1" opacity="0.9" rx="1.2"/>
<rect x="386.30" y="597.15" width="18.20" height="2.50" fill="#c6c6c6" stroke="none" stroke-width="1" opacity="1" rx="1.2"/>
<rect x="386.30" y="614.55" width="18.20" height="2.50" fill="#d6d6d6" stroke="none" stroke-width="1" opacity="0.9" rx="1.2"/>
</g></g>
<rect x="259.40" y="558.70" width="149.80" height="83.30" fill="none" stroke="#111" stroke-width="1.4" />
<g clip-path="url(#cpP)">
<rect x="259.20" y="653.20" width="150.40" height="18.00" fill="#dcdcdc" stroke="none" stroke-width="1" />
<rect x="352.9" y="666.6" width="1.2" height="1.2" fill="rgb(225,225,225)"/>
<rect x="363.0" y="668.3" width="1.2" height="1.2" fill="rgb(216,216,216)"/>
<rect x="397.9" y="653.7" width="1.2" height="1.2" fill="rgb(204,204,204)"/>
<rect x="375.9" y="657.7" width="1.2" height="1.2" fill="rgb(178,178,178)"/>
<rect x="394.7" y="655.2" width="1.2" height="1.2" fill="rgb(205,205,205)"/>
<rect x="389.8" y="660.1" width="1.2" height="1.2" fill="rgb(181,181,181)"/>
<rect x="345.5" y="653.4" width="1.2" height="1.2" fill="rgb(188,188,188)"/>
<rect x="320.6" y="656.5" width="1.2" height="1.2" fill="rgb(230,230,230)"/>
<rect x="374.4" y="656.1" width="1.2" height="1.2" fill="rgb(226,226,226)"/>
<rect x="270.0" y="664.3" width="1.2" height="1.2" fill="rgb(203,203,203)"/>
<rect x="278.3" y="653.2" width="1.2" height="1.2" fill="rgb(230,230,230)"/>
<rect x="260.0" y="667.1" width="1.2" height="1.2" fill="rgb(185,185,185)"/>
<rect x="390.4" y="658.4" width="1.2" height="1.2" fill="rgb(187,187,187)"/>
<rect x="340.3" y="665.4" width="1.2" height="1.2" fill="rgb(188,188,188)"/>
<rect x="286.5" y="670.6" width="1.2" height="1.2" fill="rgb(187,187,187)"/>
<rect x="404.6" y="669.3" width="1.2" height="1.2" fill="rgb(194,194,194)"/>
<rect x="262.4" y="660.7" width="1.2" height="1.2" fill="rgb(234,234,234)"/>
<rect x="281.1" y="654.4" width="1.2" height="1.2" fill="rgb(194,194,194)"/>
<rect x="382.1" y="663.8" width="1.2" height="1.2" fill="rgb(213,213,213)"/>
<rect x="361.2" y="659.3" width="1.2" height="1.2" fill="rgb(194,194,194)"/>
<rect x="312.6" y="658.7" width="1.2" height="1.2" fill="rgb(219,219,219)"/>
<rect x="306.7" y="661.9" width="1.2" height="1.2" fill="rgb(220,220,220)"/>
<rect x="285.7" y="657.8" width="1.2" height="1.2" fill="rgb(235,235,235)"/>
<rect x="262.6" y="666.7" width="1.2" height="1.2" fill="rgb(229,229,229)"/>
<rect x="320.0" y="663.1" width="1.2" height="1.2" fill="rgb(201,201,201)"/>
<rect x="314.3" y="663.6" width="1.2" height="1.2" fill="rgb(175,175,175)"/>
<rect x="327.3" y="665.9" width="1.2" height="1.2" fill="rgb(214,214,214)"/>
<rect x="402.9" y="656.7" width="1.2" height="1.2" fill="rgb(223,223,223)"/>
<rect x="296.2" y="668.0" width="1.2" height="1.2" fill="rgb(204,204,204)"/>
<rect x="311.0" y="659.6" width="1.2" height="1.2" fill="rgb(208,208,208)"/>
<rect x="296.9" y="661.5" width="1.2" height="1.2" fill="rgb(212,212,212)"/>
<rect x="371.8" y="667.6" width="1.2" height="1.2" fill="rgb(230,230,230)"/>
<rect x="303.7" y="661.0" width="1.2" height="1.2" fill="rgb(180,180,180)"/>
<rect x="290.6" y="662.4" width="1.2" height="1.2" fill="rgb(198,198,198)"/>
<rect x="397.3" y="659.3" width="1.2" height="1.2" fill="rgb(234,234,234)"/>
<rect x="364.9" y="654.9" width="1.2" height="1.2" fill="rgb(218,218,218)"/>
<rect x="306.8" y="656.4" width="1.2" height="1.2" fill="rgb(180,180,180)"/>
<rect x="353.5" y="666.2" width="1.2" height="1.2" fill="rgb(194,194,194)"/>
<rect x="409.1" y="656.1" width="1.2" height="1.2" fill="rgb(178,178,178)"/>
<rect x="271.4" y="664.0" width="1.2" height="1.2" fill="rgb(234,234,234)"/>
<rect x="320.2" y="657.5" width="1.2" height="1.2" fill="rgb(213,213,213)"/>
<rect x="310.9" y="657.7" width="1.2" height="1.2" fill="rgb(216,216,216)"/>
<rect x="322.6" y="654.2" width="1.2" height="1.2" fill="rgb(233,233,233)"/>
<rect x="355.2" y="667.6" width="1.2" height="1.2" fill="rgb(196,196,196)"/>
<rect x="385.3" y="655.6" width="1.2" height="1.2" fill="rgb(221,221,221)"/>
<rect x="344.0" y="655.6" width="1.2" height="1.2" fill="rgb(232,232,232)"/>
<rect x="377.7" y="655.1" width="1.2" height="1.2" fill="rgb(202,202,202)"/>
<rect x="315.3" y="654.3" width="1.2" height="1.2" fill="rgb(201,201,201)"/>
<rect x="303.5" y="661.4" width="1.2" height="1.2" fill="rgb(214,214,214)"/>
<rect x="387.4" y="670.8" width="1.2" height="1.2" fill="rgb(204,204,204)"/>
<rect x="403.6" y="665.6" width="1.2" height="1.2" fill="rgb(195,195,195)"/>
<rect x="331.2" y="658.4" width="1.2" height="1.2" fill="rgb(200,200,200)"/>
<rect x="394.8" y="655.2" width="1.2" height="1.2" fill="rgb(227,227,227)"/>
<rect x="407.9" y="670.5" width="1.2" height="1.2" fill="rgb(215,215,215)"/>
<rect x="400.1" y="668.8" width="1.2" height="1.2" fill="rgb(186,186,186)"/>
<rect x="272.6" y="658.1" width="1.2" height="1.2" fill="rgb(225,225,225)"/>
<rect x="341.6" y="662.3" width="1.2" height="1.2" fill="rgb(179,179,179)"/>
<rect x="377.4" y="667.1" width="1.2" height="1.2" fill="rgb(219,219,219)"/>
<rect x="347.6" y="653.8" width="1.2" height="1.2" fill="rgb(194,194,194)"/>
<rect x="313.9" y="665.9" width="1.2" height="1.2" fill="rgb(192,192,192)"/>
<rect x="384.8" y="658.0" width="1.2" height="1.2" fill="rgb(219,219,219)"/>
<rect x="366.9" y="670.4" width="1.2" height="1.2" fill="rgb(196,196,196)"/>
<rect x="356.9" y="663.7" width="1.2" height="1.2" fill="rgb(175,175,175)"/>
<rect x="330.5" y="667.1" width="1.2" height="1.2" fill="rgb(195,195,195)"/>
<rect x="360.2" y="661.5" width="1.2" height="1.2" fill="rgb(227,227,227)"/>
<rect x="334.5" y="665.3" width="1.2" height="1.2" fill="rgb(197,197,197)"/>
<rect x="311.5" y="664.8" width="1.2" height="1.2" fill="rgb(222,222,222)"/>
<rect x="400.2" y="660.6" width="1.2" height="1.2" fill="rgb(234,234,234)"/>
<rect x="386.0" y="668.9" width="1.2" height="1.2" fill="rgb(219,219,219)"/>
<rect x="326.8" y="659.8" width="1.2" height="1.2" fill="rgb(196,196,196)"/>
<rect x="337.1" y="662.7" width="1.2" height="1.2" fill="rgb(185,185,185)"/>
<rect x="289.1" y="659.7" width="1.2" height="1.2" fill="rgb(229,229,229)"/>
<rect x="331.0" y="665.6" width="1.2" height="1.2" fill="rgb(221,221,221)"/>
<rect x="360.1" y="660.7" width="1.2" height="1.2" fill="rgb(214,214,214)"/>
<rect x="376.6" y="663.7" width="1.2" height="1.2" fill="rgb(217,217,217)"/>
<rect x="400.0" y="658.6" width="1.2" height="1.2" fill="rgb(210,210,210)"/>
<rect x="375.7" y="664.7" width="1.2" height="1.2" fill="rgb(221,221,221)"/>
<rect x="409.0" y="656.7" width="1.2" height="1.2" fill="rgb(212,212,212)"/>
<rect x="325.5" y="664.9" width="1.2" height="1.2" fill="rgb(189,189,189)"/>
<rect x="373.4" y="656.4" width="1.2" height="1.2" fill="rgb(220,220,220)"/>
<rect x="265.5" y="661.7" width="1.2" height="1.2" fill="rgb(189,189,189)"/>
<rect x="284.1" y="669.3" width="1.2" height="1.2" fill="rgb(182,182,182)"/>
<rect x="306.9" y="656.5" width="1.2" height="1.2" fill="rgb(187,187,187)"/>
<rect x="341.7" y="660.7" width="1.2" height="1.2" fill="rgb(197,197,197)"/>
<rect x="316.4" y="664.2" width="1.2" height="1.2" fill="rgb(212,212,212)"/>
<rect x="289.9" y="666.1" width="1.2" height="1.2" fill="rgb(198,198,198)"/>
<rect x="259.3" y="660.5" width="1.2" height="1.2" fill="rgb(192,192,192)"/>
<rect x="387.9" y="668.8" width="1.2" height="1.2" fill="rgb(219,219,219)"/>
<rect x="384.2" y="659.9" width="1.2" height="1.2" fill="rgb(177,177,177)"/>
<rect x="341.9" y="658.6" width="1.2" height="1.2" fill="rgb(193,193,193)"/>
<rect x="341.2" y="659.3" width="1.2" height="1.2" fill="rgb(212,212,212)"/>
<rect x="303.3" y="659.5" width="1.2" height="1.2" fill="rgb(183,183,183)"/>
<rect x="322.2" y="667.8" width="1.2" height="1.2" fill="rgb(216,216,216)"/>
<rect x="340.2" y="661.6" width="1.2" height="1.2" fill="rgb(185,185,185)"/>
<rect x="348.8" y="663.3" width="1.2" height="1.2" fill="rgb(187,187,187)"/>
<rect x="404.8" y="664.2" width="1.2" height="1.2" fill="rgb(197,197,197)"/>
<rect x="382.7" y="665.1" width="1.2" height="1.2" fill="rgb(199,199,199)"/>
<rect x="275.4" y="663.4" width="1.2" height="1.2" fill="rgb(214,214,214)"/>
<rect x="340.3" y="659.1" width="1.2" height="1.2" fill="rgb(231,231,231)"/>
<rect x="393.2" y="660.0" width="1.2" height="1.2" fill="rgb(202,202,202)"/>
<rect x="406.1" y="662.1" width="1.2" height="1.2" fill="rgb(205,205,205)"/>
<rect x="405.5" y="660.0" width="1.2" height="1.2" fill="rgb(229,229,229)"/>
<rect x="396.6" y="663.9" width="1.2" height="1.2" fill="rgb(191,191,191)"/>
<rect x="370.7" y="658.6" width="1.2" height="1.2" fill="rgb(191,191,191)"/>
<rect x="321.7" y="658.9" width="1.2" height="1.2" fill="rgb(194,194,194)"/>
<rect x="333.2" y="658.4" width="1.2" height="1.2" fill="rgb(205,205,205)"/>
<rect x="262.8" y="665.1" width="1.2" height="1.2" fill="rgb(203,203,203)"/>
<rect x="296.1" y="653.9" width="1.2" height="1.2" fill="rgb(183,183,183)"/>
<rect x="383.6" y="653.4" width="1.2" height="1.2" fill="rgb(209,209,209)"/>
<rect x="343.5" y="657.6" width="1.2" height="1.2" fill="rgb(205,205,205)"/>
<rect x="376.8" y="657.6" width="1.2" height="1.2" fill="rgb(192,192,192)"/>
<rect x="386.1" y="666.2" width="1.2" height="1.2" fill="rgb(193,193,193)"/>
<rect x="303.3" y="664.1" width="1.2" height="1.2" fill="rgb(205,205,205)"/>
<rect x="337.1" y="668.7" width="1.2" height="1.2" fill="rgb(231,231,231)"/>
<rect x="371.0" y="655.3" width="1.2" height="1.2" fill="rgb(223,223,223)"/>
<rect x="278.2" y="658.3" width="1.2" height="1.2" fill="rgb(220,220,220)"/>
<rect x="309.8" y="658.5" width="1.2" height="1.2" fill="rgb(208,208,208)"/>
<rect x="263.2" y="659.5" width="1.2" height="1.2" fill="rgb(218,218,218)"/>
<rect x="371.3" y="663.8" width="1.2" height="1.2" fill="rgb(177,177,177)"/>
<rect x="259.6" y="663.2" width="1.2" height="1.2" fill="rgb(218,218,218)"/>
<rect x="397.1" y="669.2" width="1.2" height="1.2" fill="rgb(209,209,209)"/>
<rect x="288.0" y="660.9" width="1.2" height="1.2" fill="rgb(226,226,226)"/>
<rect x="323.5" y="663.6" width="1.2" height="1.2" fill="rgb(220,220,220)"/>
<rect x="402.6" y="664.9" width="1.2" height="1.2" fill="rgb(229,229,229)"/>
<rect x="396.3" y="660.1" width="1.2" height="1.2" fill="rgb(200,200,200)"/>
<rect x="361.8" y="666.2" width="1.2" height="1.2" fill="rgb(232,232,232)"/>
<rect x="303.8" y="668.1" width="1.2" height="1.2" fill="rgb(179,179,179)"/>
<rect x="304.9" y="653.3" width="1.2" height="1.2" fill="rgb(224,224,224)"/>
<rect x="324.3" y="658.4" width="1.2" height="1.2" fill="rgb(224,224,224)"/>
<rect x="330.3" y="658.8" width="1.2" height="1.2" fill="rgb(185,185,185)"/>
<rect x="331.2" y="663.1" width="1.2" height="1.2" fill="rgb(206,206,206)"/>
<rect x="405.5" y="662.9" width="1.2" height="1.2" fill="rgb(202,202,202)"/>
<rect x="347.3" y="667.8" width="1.2" height="1.2" fill="rgb(179,179,179)"/>
<rect x="369.4" y="658.0" width="1.2" height="1.2" fill="rgb(180,180,180)"/>
<rect x="378.3" y="665.1" width="1.2" height="1.2" fill="rgb(176,176,176)"/>
<rect x="309.3" y="660.9" width="1.2" height="1.2" fill="rgb(179,179,179)"/>
<rect x="409.3" y="665.8" width="1.2" height="1.2" fill="rgb(178,178,178)"/>
<rect x="277.8" y="655.4" width="1.2" height="1.2" fill="rgb(214,214,214)"/>
<rect x="356.3" y="670.3" width="1.2" height="1.2" fill="rgb(220,220,220)"/>
<rect x="393.8" y="671.1" width="1.2" height="1.2" fill="rgb(220,220,220)"/>
<rect x="397.3" y="655.9" width="1.2" height="1.2" fill="rgb(214,214,214)"/>
<rect x="287.1" y="667.6" width="1.2" height="1.2" fill="rgb(179,179,179)"/>
<rect x="352.8" y="654.0" width="1.2" height="1.2" fill="rgb(181,181,181)"/>
<rect x="358.5" y="666.6" width="1.2" height="1.2" fill="rgb(192,192,192)"/>
<rect x="267.9" y="663.6" width="1.2" height="1.2" fill="rgb(222,222,222)"/>
<rect x="319.1" y="664.4" width="1.2" height="1.2" fill="rgb(175,175,175)"/>
<rect x="324.1" y="658.9" width="1.2" height="1.2" fill="rgb(213,213,213)"/>
<rect x="332.8" y="659.6" width="1.2" height="1.2" fill="rgb(216,216,216)"/>
<rect x="315.5" y="654.2" width="1.2" height="1.2" fill="rgb(219,219,219)"/>
<rect x="303.5" y="663.4" width="1.2" height="1.2" fill="rgb(218,218,218)"/>
<rect x="335.3" y="669.6" width="1.2" height="1.2" fill="rgb(210,210,210)"/>
<rect x="341.9" y="657.2" width="1.2" height="1.2" fill="rgb(179,179,179)"/>
<rect x="342.2" y="657.8" width="1.2" height="1.2" fill="rgb(223,223,223)"/>
<rect x="301.8" y="670.8" width="1.2" height="1.2" fill="rgb(226,226,226)"/>
<rect x="294.5" y="659.9" width="1.2" height="1.2" fill="rgb(222,222,222)"/>
<rect x="317.7" y="655.6" width="1.2" height="1.2" fill="rgb(176,176,176)"/>
<rect x="357.7" y="654.7" width="1.2" height="1.2" fill="rgb(217,217,217)"/>
<rect x="264.6" y="668.7" width="1.2" height="1.2" fill="rgb(207,207,207)"/>
<rect x="348.5" y="657.5" width="1.2" height="1.2" fill="rgb(231,231,231)"/>
<rect x="328.8" y="670.5" width="1.2" height="1.2" fill="rgb(181,181,181)"/>
<rect x="379.0" y="653.7" width="1.2" height="1.2" fill="rgb(221,221,221)"/>
<rect x="317.0" y="668.5" width="1.2" height="1.2" fill="rgb(235,235,235)"/>
<rect x="402.4" y="665.5" width="1.2" height="1.2" fill="rgb(189,189,189)"/>
<rect x="371.9" y="654.7" width="1.2" height="1.2" fill="rgb(233,233,233)"/>
<rect x="359.2" y="668.0" width="1.2" height="1.2" fill="rgb(183,183,183)"/>
<rect x="364.7" y="660.0" width="1.2" height="1.2" fill="rgb(228,228,228)"/>
<rect x="294.5" y="659.2" width="1.2" height="1.2" fill="rgb(214,214,214)"/>
<rect x="365.3" y="667.5" width="1.2" height="1.2" fill="rgb(199,199,199)"/>
<rect x="279.7" y="668.2" width="1.2" height="1.2" fill="rgb(216,216,216)"/>
<rect x="303.7" y="664.6" width="1.2" height="1.2" fill="rgb(229,229,229)"/>
<rect x="313.7" y="653.9" width="1.2" height="1.2" fill="rgb(211,211,211)"/>
<rect x="291.5" y="656.4" width="1.2" height="1.2" fill="rgb(179,179,179)"/>
<rect x="273.8" y="653.8" width="1.2" height="1.2" fill="rgb(187,187,187)"/>
<rect x="288.6" y="662.0" width="1.2" height="1.2" fill="rgb(234,234,234)"/>
<rect x="331.5" y="666.9" width="1.2" height="1.2" fill="rgb(175,175,175)"/>
<rect x="323.4" y="658.6" width="1.2" height="1.2" fill="rgb(234,234,234)"/>
<rect x="352.4" y="660.9" width="1.2" height="1.2" fill="rgb(204,204,204)"/>
<rect x="328.7" y="656.6" width="1.2" height="1.2" fill="rgb(216,216,216)"/>
<rect x="283.1" y="659.9" width="1.2" height="1.2" fill="rgb(199,199,199)"/>
<rect x="389.9" y="661.7" width="1.2" height="1.2" fill="rgb(210,210,210)"/>
<rect x="297.4" y="658.2" width="1.2" height="1.2" fill="rgb(185,185,185)"/>
<rect x="372.1" y="665.3" width="1.2" height="1.2" fill="rgb(177,177,177)"/>
<rect x="331.7" y="653.8" width="1.2" height="1.2" fill="rgb(234,234,234)"/>
<rect x="372.3" y="658.9" width="1.2" height="1.2" fill="rgb(178,178,178)"/>
<rect x="362.6" y="665.3" width="1.2" height="1.2" fill="rgb(205,205,205)"/>
<rect x="386.9" y="656.0" width="1.2" height="1.2" fill="rgb(225,225,225)"/>
<rect x="359.8" y="658.4" width="1.2" height="1.2" fill="rgb(218,218,218)"/>
<rect x="295.3" y="671.1" width="1.2" height="1.2" fill="rgb(177,177,177)"/>
<rect x="289.4" y="653.6" width="1.2" height="1.2" fill="rgb(189,189,189)"/>
<rect x="357.9" y="664.3" width="1.2" height="1.2" fill="rgb(233,233,233)"/>
<rect x="405.6" y="659.8" width="1.2" height="1.2" fill="rgb(194,194,194)"/>
<rect x="286.9" y="659.7" width="1.2" height="1.2" fill="rgb(179,179,179)"/>
<rect x="369.3" y="666.1" width="1.2" height="1.2" fill="rgb(185,185,185)"/>
<rect x="375.9" y="656.4" width="1.2" height="1.2" fill="rgb(188,188,188)"/>
<rect x="400.6" y="664.8" width="1.2" height="1.2" fill="rgb(202,202,202)"/>
<rect x="368.5" y="658.1" width="1.2" height="1.2" fill="rgb(204,204,204)"/>
<rect x="268.4" y="667.2" width="1.2" height="1.2" fill="rgb(201,201,201)"/>
<rect x="284.7" y="653.8" width="1.2" height="1.2" fill="rgb(228,228,228)"/>
<rect x="408.0" y="662.5" width="1.2" height="1.2" fill="rgb(197,197,197)"/>
<rect x="400.5" y="666.1" width="1.2" height="1.2" fill="rgb(190,190,190)"/>
<rect x="394.4" y="662.0" width="1.2" height="1.2" fill="rgb(234,234,234)"/>
<rect x="330.1" y="665.5" width="1.2" height="1.2" fill="rgb(216,216,216)"/>
<rect x="266.8" y="660.4" width="1.2" height="1.2" fill="rgb(178,178,178)"/>
<rect x="266.4" y="668.2" width="1.2" height="1.2" fill="rgb(203,203,203)"/>
<rect x="305.2" y="654.1" width="1.2" height="1.2" fill="rgb(177,177,177)"/>
<rect x="402.1" y="656.7" width="1.2" height="1.2" fill="rgb(219,219,219)"/>
<rect x="335.7" y="660.4" width="1.2" height="1.2" fill="rgb(209,209,209)"/>
<rect x="294.4" y="669.9" width="1.2" height="1.2" fill="rgb(225,225,225)"/>
<rect x="275.4" y="663.0" width="1.2" height="1.2" fill="rgb(233,233,233)"/>
<rect x="283.6" y="654.6" width="1.2" height="1.2" fill="rgb(221,221,221)"/>
<rect x="291.4" y="653.5" width="1.2" height="1.2" fill="rgb(209,209,209)"/>
<rect x="313.0" y="660.8" width="1.2" height="1.2" fill="rgb(224,224,224)"/>
<rect x="315.8" y="664.5" width="1.2" height="1.2" fill="rgb(221,221,221)"/>
<rect x="261.1" y="666.8" width="1.2" height="1.2" fill="rgb(219,219,219)"/>
<rect x="326.7" y="668.1" width="1.2" height="1.2" fill="rgb(189,189,189)"/>
<rect x="342.6" y="655.7" width="1.2" height="1.2" fill="rgb(205,205,205)"/>
<rect x="272.4" y="667.1" width="1.2" height="1.2" fill="rgb(227,227,227)"/>
<rect x="319.8" y="655.6" width="1.2" height="1.2" fill="rgb(209,209,209)"/>
<rect x="271.5" y="657.6" width="1.2" height="1.2" fill="rgb(180,180,180)"/>
<rect x="379.3" y="670.6" width="1.2" height="1.2" fill="rgb(217,217,217)"/>
<rect x="296.1" y="654.3" width="1.2" height="1.2" fill="rgb(219,219,219)"/>
<rect x="296.6" y="665.9" width="1.2" height="1.2" fill="rgb(225,225,225)"/>
<rect x="302.2" y="659.9" width="1.2" height="1.2" fill="rgb(181,181,181)"/>
<rect x="270.0" y="667.1" width="1.2" height="1.2" fill="rgb(199,199,199)"/>
<rect x="372.3" y="663.2" width="1.2" height="1.2" fill="rgb(232,232,232)"/>
<rect x="302.2" y="670.1" width="1.2" height="1.2" fill="rgb(183,183,183)"/>
<rect x="345.6" y="661.2" width="1.2" height="1.2" fill="rgb(227,227,227)"/>
<rect x="362.6" y="667.3" width="1.2" height="1.2" fill="rgb(176,176,176)"/>
<rect x="368.7" y="665.8" width="1.2" height="1.2" fill="rgb(192,192,192)"/>
<rect x="275.2" y="667.7" width="1.2" height="1.2" fill="rgb(210,210,210)"/>
<rect x="278.8" y="654.4" width="1.2" height="1.2" fill="rgb(185,185,185)"/>
<rect x="279.9" y="662.2" width="1.2" height="1.2" fill="rgb(195,195,195)"/>
<rect x="302.1" y="654.3" width="1.2" height="1.2" fill="rgb(223,223,223)"/>
<rect x="370.3" y="653.7" width="1.2" height="1.2" fill="rgb(182,182,182)"/>
<rect x="266.8" y="655.5" width="1.2" height="1.2" fill="rgb(197,197,197)"/>
<rect x="324.8" y="657.8" width="1.2" height="1.2" fill="rgb(235,235,235)"/>
<rect x="351.2" y="657.4" width="1.2" height="1.2" fill="rgb(202,202,202)"/>
<rect x="278.0" y="656.8" width="1.2" height="1.2" fill="rgb(197,197,197)"/>
<rect x="261.1" y="663.7" width="1.2" height="1.2" fill="rgb(227,227,227)"/>
<rect x="283.7" y="670.9" width="1.2" height="1.2" fill="rgb(192,192,192)"/>
<rect x="339.0" y="656.3" width="1.2" height="1.2" fill="rgb(220,220,220)"/>
<rect x="280.9" y="667.0" width="1.2" height="1.2" fill="rgb(202,202,202)"/>
<rect x="378.7" y="655.3" width="1.2" height="1.2" fill="rgb(195,195,195)"/>
<rect x="326.3" y="657.3" width="1.2" height="1.2" fill="rgb(213,213,213)"/>
<rect x="324.5" y="661.1" width="1.2" height="1.2" fill="rgb(224,224,224)"/>
<rect x="359.7" y="656.1" width="1.2" height="1.2" fill="rgb(205,205,205)"/>
<rect x="405.0" y="663.9" width="1.2" height="1.2" fill="rgb(181,181,181)"/>
<rect x="278.3" y="668.5" width="1.2" height="1.2" fill="rgb(218,218,218)"/>
<rect x="267.1" y="670.8" width="1.2" height="1.2" fill="rgb(177,177,177)"/>
<rect x="395.9" y="657.4" width="1.2" height="1.2" fill="rgb(220,220,220)"/>
<rect x="391.8" y="660.3" width="1.2" height="1.2" fill="rgb(188,188,188)"/>
<rect x="289.5" y="668.0" width="1.2" height="1.2" fill="rgb(194,194,194)"/>
<rect x="343.8" y="659.6" width="1.2" height="1.2" fill="rgb(223,223,223)"/>
<rect x="377.3" y="659.8" width="1.2" height="1.2" fill="rgb(226,226,226)"/>
<rect x="296.5" y="670.9" width="1.2" height="1.2" fill="rgb(228,228,228)"/>
<rect x="395.8" y="654.3" width="1.2" height="1.2" fill="rgb(206,206,206)"/>
<rect x="319.5" y="655.8" width="1.2" height="1.2" fill="rgb(228,228,228)"/>
<rect x="295.0" y="660.1" width="1.2" height="1.2" fill="rgb(181,181,181)"/>
<rect x="284.7" y="655.0" width="1.2" height="1.2" fill="rgb(220,220,220)"/>
<rect x="301.5" y="669.8" width="1.2" height="1.2" fill="rgb(225,225,225)"/>
<g filter="url(#blur1)">
<rect x="338.00" y="653.20" width="19.00" height="10.00" fill="#a0a0a0" stroke="none" stroke-width="1" opacity="0.7"/>
<rect x="263.30" y="660.15" width="19.80" height="2.50" fill="#9a9a9a" stroke="none" stroke-width="1" rx="1.5"/>
<rect x="288.80" y="659.60" width="20.00" height="2.80" fill="#7c7c7c" stroke="none" stroke-width="1" rx="1.5"/>
<rect x="314.50" y="659.90" width="18.60" height="2.60" fill="#8c8c8c" stroke="none" stroke-width="1" rx="1.5"/>
<rect x="338.50" y="658.90" width="17.80" height="5.00" fill="#101010" stroke="none" stroke-width="1" rx="1.5"/>
<rect x="362.10" y="659.00" width="18.40" height="4.00" fill="#2a2a2a" stroke="none" stroke-width="1" rx="1.5"/>
<rect x="386.30" y="658.05" width="18.20" height="3.50" fill="#303030" stroke="none" stroke-width="1" rx="1.5"/>
</g></g>
<rect x="259.20" y="653.20" width="150.40" height="18.00" fill="none" stroke="#111" stroke-width="1.4" />
<g clip-path="url(#cpG)">
<rect x="259.20" y="682.40" width="150.40" height="18.00" fill="#f0f0f0" stroke="none" stroke-width="1" />
<g filter="url(#blur1)">
<rect x="259.20" y="689.80" width="150.40" height="3.20" fill="#2a2a2a" stroke="none" stroke-width="1" />
<rect x="262.80" y="689.70" width="20.80" height="3.00" fill="#202020" stroke="none" stroke-width="1" rx="1.5"/>
<rect x="288.30" y="689.20" width="21.00" height="4.20" fill="#0c0c0c" stroke="none" stroke-width="1" rx="1.5"/>
<rect x="314.00" y="689.50" width="19.60" height="3.60" fill="#141414" stroke="none" stroke-width="1" rx="1.5"/>
<rect x="338.00" y="689.30" width="18.80" height="4.00" fill="#0c0c0c" stroke="none" stroke-width="1" rx="1.5"/>
<rect x="361.60" y="689.20" width="19.40" height="4.60" fill="#080808" stroke="none" stroke-width="1" rx="1.5"/>
<rect x="385.80" y="689.00" width="19.20" height="4.00" fill="#0c0c0c" stroke="none" stroke-width="1" rx="1.5"/>
</g></g>
<rect x="259.20" y="682.40" width="150.40" height="18.00" fill="none" stroke="#111" stroke-width="1.4" />
<text x="252.40" y="606.20" font-size="9.0" font-weight="bold" text-anchor="end" fill="#000" stroke="#000" stroke-width="0.25" >250 kDa</text>
<line x1="252.60" y1="603.10" x2="259.40" y2="603.10" stroke="#111" stroke-width="1.2" />
<text x="253.40" y="657.00" font-size="9.0" font-weight="bold" text-anchor="end" fill="#000" stroke="#000" stroke-width="0.25" >100 kDa</text>
<line x1="253.60" y1="654.00" x2="259.20" y2="654.00" stroke="#111" stroke-width="1.2" />
<text x="253.40" y="692.00" font-size="9.0" font-weight="bold" text-anchor="end" fill="#000" stroke="#000" stroke-width="0.25" >37 kDa</text>
<line x1="253.60" y1="689.00" x2="259.20" y2="689.00" stroke="#111" stroke-width="1.2" />
<text x="414.90" y="605.20" font-size="12.6" font-weight="bold" text-anchor="start" fill="#000" stroke="#000" stroke-width="0.25" >SUMO-2/3</text>
<text x="415.20" y="666.90" font-size="12.6" font-weight="bold" text-anchor="start" fill="#000" stroke="#000" stroke-width="0.25" >cl. PARP</text>
<text x="415.20" y="696.20" font-size="12.6" font-weight="bold" text-anchor="start" fill="#000" stroke="#000" stroke-width="0.25" >GAPDH</text>
<line x1="264.80" y1="705.60" x2="329.20" y2="705.60" stroke="#222" stroke-width="1.6" />
<line x1="339.90" y1="705.60" x2="404.90" y2="705.60" stroke="#222" stroke-width="1.6" />
<text x="296.80" y="723.10" font-size="12.6" font-weight="bold" text-anchor="middle" fill="#000" stroke="#000" stroke-width="0.25" >Control</text>
<text x="372.50" y="723.10" font-size="12.6" font-weight="bold" text-anchor="middle" fill="#000" stroke="#000" stroke-width="0.25" >TAK-981</text>
<text x="207.80" y="760.40" font-size="24" font-weight="bold" text-anchor="start" fill="#000" stroke="#000" stroke-width="0.25" >J</text>
<text x="302.90" y="771.60" font-size="11.4" font-weight="bold" text-anchor="middle" fill="#000" stroke="#000" stroke-width="0.25" >BAF47</text>
<text x="415.70" y="771.40" font-size="11.4" font-weight="bold" text-anchor="middle" fill="#000" stroke="#000" stroke-width="0.25" >SMARCE1</text>
<text x="0.00" y="0.00" font-size="11.3" font-weight="bold" text-anchor="middle" fill="#2a2ae6" stroke="#2a2ae6" stroke-width="0.25" transform="translate(233.4 805.4) rotate(-90)">Control</text>
<text x="0.00" y="0.00" font-size="11.3" font-weight="bold" text-anchor="middle" fill="#cc44ee" stroke="#cc44ee" stroke-width="0.25" transform="translate(226.4 866.0) rotate(-90)">TAK-981</text>
<text x="0.00" y="0.00" font-size="11.3" font-weight="bold" text-anchor="middle" fill="#cc44ee" stroke="#cc44ee" stroke-width="0.25" transform="translate(240.6 869.0) rotate(-90)">(25 mg/kg)</text>
<defs><filter id="sbr" x="0" y="0" width="100%" height="100%" color-interpolation-filters="sRGB"><feTurbulence type="fractalNoise" baseFrequency="1.4" numOctaves="1" seed="2"/><feColorMatrix type="matrix" values="0 0 0 0 0.549  0 0 0 0 0.314  0 0 0 0 0.176  0 0 0 5 -2.2"/></filter><filter id="sbr2" x="0" y="0" width="100%" height="100%" color-interpolation-filters="sRGB"><feTurbulence type="fractalNoise" baseFrequency="1.4" numOctaves="1" seed="5"/><feColorMatrix type="matrix" values="0 0 0 0 0.686  0 0 0 0 0.431  0 0 0 0 0.294  0 0 0 5 -2.0"/></filter><filter id="swh" x="0" y="0" width="100%" height="100%" color-interpolation-filters="sRGB"><feTurbulence type="fractalNoise" baseFrequency="1.4" numOctaves="1" seed="9"/><feColorMatrix type="matrix" values="0 0 0 0 0.965  0 0 0 0 0.953  0 0 0 0 0.953  0 0 0 5 -2.2"/></filter><filter id="sbl" x="0" y="0" width="100%" height="100%" color-interpolation-filters="sRGB"><feTurbulence type="fractalNoise" baseFrequency="1.4" numOctaves="1" seed="13"/><feColorMatrix type="matrix" values="0 0 0 0 0.529  0 0 0 0 0.529  0 0 0 0 0.725  0 0 0 5 -2.4"/></filter><filter id="soft" x="-5%" y="-5%" width="110%" height="110%"><feGaussianBlur stdDeviation="1.2"/></filter><filter id="soft2" x="-5%" y="-5%" width="110%" height="110%"><feGaussianBlur stdDeviation="0.6"/></filter><clipPath id="cj1"><rect x="249.5" y="777.4" width="107" height="56.6"/></clipPath><clipPath id="cj2"><rect x="362.5" y="777.4" width="107" height="56.6"/></clipPath><clipPath id="cj3"><rect x="249.5" y="840.0" width="107" height="56.5"/></clipPath><clipPath id="cj4"><rect x="362.5" y="840.0" width="107" height="56.5"/></clipPath></defs>
<g clip-path="url(#cj1)">
<rect x="249.50" y="777.40" width="107.00" height="56.60" fill="#dedbdd" stroke="none" stroke-width="1" />
<g filter="url(#soft)">
<path d="M250,806 Q258,814 268,834 L250,834 Z" fill="#d4c4ba"/>
</g>
<rect x="249.50" y="777.40" width="107.00" height="56.60" fill="#000" stroke="none" stroke-width="1" filter="url(#sbr)" opacity="0.22"/>
<rect x="249.50" y="777.40" width="107.00" height="56.60" fill="#000" stroke="none" stroke-width="1" filter="url(#sbl)" opacity="0.3"/>
<rect x="249.50" y="777.40" width="107.00" height="56.60" fill="#000" stroke="none" stroke-width="1" filter="url(#swh)" opacity="0.5"/>
<g filter="url(#soft2)" fill="#f2f1f1">
<path d="M340,834 Q346,826 356,822 L357,834 Z"/>
<path d="M352,793 L357,791 L357,799 L353,798 Z"/>
<path d="M251,822 L256,826 L258,834 L250,834 Z"/>
</g>
</g>
<g clip-path="url(#cj2)">
<rect x="362.50" y="777.40" width="107.00" height="56.60" fill="#c99e84" stroke="none" stroke-width="1" />
<ellipse cx="458" cy="801" rx="12" ry="6" fill="#c4b2b4" filter="url(#soft)"/>
<g filter="url(#soft)" fill="#ecdfd8">
<path d="M395,834 C410,826 430,815 470,806 L470,834 Z"/>
</g>
<rect x="362.50" y="777.40" width="107.00" height="56.60" fill="#000" stroke="none" stroke-width="1" filter="url(#sbr)" opacity="0.5"/>
<rect x="362.50" y="777.40" width="107.00" height="56.60" fill="#000" stroke="none" stroke-width="1" filter="url(#swh)" opacity="0.6"/>
<g filter="url(#soft2)" fill="#f2f0ef">
<path d="M362,789.7 C366,789 372,790 381.3,793 C388,793 395,791 399.2,789.7 L401.7,791.4 C399,794 394,796 389.4,797.9 C384,800 378,804 369.8,807.7 C366,810 364,812 362,814.2 Z"/>
<path d="M406,778 L408.5,778 L409.5,793 L407,792 Z"/>
<path d="M414.5,778 L416.5,778 L420,791 L417.5,792 Z"/>
<path d="M378,808.5 C383,807.8 388,807.6 393,807.5 C390,809 385,810 378,810.4 Z" opacity="0.9"/>
<path d="M372,814.5 C395,814 430,812 470,810 L470,812.5 C430,815 400,816 372,816.2 Z" opacity="0.85"/>
<path d="M362,818 C370,818.3 378,818.5 386,818.6 C380,820 372,821.5 362,822.4 Z"/>
<path d="M400,824 C420,823 445,820 470,817 L470,834 L395,834 Z" opacity="0.85"/>
<path d="M365,825.5 C378,825 390,824.6 400,824.5 L398,827 C385,827.5 375,828 365,828 Z" opacity="0.8"/>
<path d="M372,831 L400,830 L400,835 L372,835 Z" opacity="0.8"/>
</g>
<rect x="362.50" y="777.40" width="107.00" height="56.60" fill="#000" stroke="none" stroke-width="1" filter="url(#sbr2)" opacity="0.25"/>
</g>
<g clip-path="url(#cj3)">
<rect x="249.50" y="840.00" width="107.00" height="56.50" fill="#d2ab92" stroke="none" stroke-width="1" />
<g filter="url(#soft)">
<path d="M325,840 L357,840 L357,872 Q340,868 330,858 Z" fill="#dcc8bc"/>
</g>
<rect x="249.50" y="840.00" width="107.00" height="56.50" fill="#000" stroke="none" stroke-width="1" filter="url(#sbr)" opacity="0.35"/>
<rect x="249.50" y="840.00" width="107.00" height="56.50" fill="#000" stroke="none" stroke-width="1" filter="url(#swh)" opacity="0.55"/>
<g filter="url(#soft2)" stroke="#f3f0ee" stroke-linecap="round">
<line x1="275.2" y1="869.6" x2="277.5" y2="875.5" stroke-width="1.4"/>
<line x1="316.3" y1="841.8" x2="317.5" y2="844.9" stroke-width="1.7"/>
<line x1="277.5" y1="851.6" x2="281.7" y2="862.6" stroke-width="1.3"/>
<line x1="338.7" y1="865.6" x2="341.7" y2="873.7" stroke-width="1.0"/>
<line x1="317.3" y1="888.3" x2="320.0" y2="895.5" stroke-width="1.6"/>
<line x1="321.2" y1="841.7" x2="324.6" y2="850.8" stroke-width="1.4"/>
<line x1="281.9" y1="839.8" x2="285.7" y2="849.7" stroke-width="1.3"/>
<line x1="326.2" y1="889.0" x2="329.5" y2="897.7" stroke-width="1.7"/>
<line x1="291.9" y1="884.5" x2="294.4" y2="891.0" stroke-width="1.7"/>
<line x1="343.2" y1="843.7" x2="344.7" y2="847.7" stroke-width="1.1"/>
<line x1="352.3" y1="863.3" x2="355.4" y2="871.3" stroke-width="1.2"/>
<line x1="303.8" y1="860.4" x2="306.0" y2="866.2" stroke-width="1.4"/>
<line x1="311.9" y1="890.4" x2="315.1" y2="898.9" stroke-width="1.7"/>
<line x1="340.8" y1="895.5" x2="344.0" y2="903.8" stroke-width="1.0"/>
<line x1="341.2" y1="893.9" x2="345.1" y2="904.2" stroke-width="1.4"/>
<line x1="325.7" y1="850.2" x2="329.3" y2="859.9" stroke-width="1.4"/>
<line x1="280.2" y1="841.7" x2="283.9" y2="851.5" stroke-width="1.8"/>
<line x1="259.4" y1="884.4" x2="261.8" y2="890.7" stroke-width="1.0"/>
<line x1="281.2" y1="882.6" x2="284.9" y2="892.6" stroke-width="0.9"/>
<line x1="315.1" y1="840.6" x2="318.5" y2="849.4" stroke-width="1.2"/>
<line x1="343.4" y1="894.9" x2="346.1" y2="901.9" stroke-width="1.8"/>
<line x1="282.8" y1="842.5" x2="285.8" y2="850.3" stroke-width="0.9"/>
<line x1="270.9" y1="861.7" x2="273.9" y2="869.5" stroke-width="1.0"/>
<line x1="254.5" y1="888.3" x2="256.6" y2="893.8" stroke-width="1.8"/>
<line x1="345.0" y1="859.9" x2="347.6" y2="866.6" stroke-width="1.4"/>
<line x1="318.3" y1="872.5" x2="321.1" y2="880.0" stroke-width="1.5"/>
<line x1="349.7" y1="867.4" x2="352.2" y2="873.9" stroke-width="1.5"/>
<line x1="275.2" y1="855.5" x2="279.3" y2="866.3" stroke-width="1.4"/>
<line x1="308.1" y1="838.7" x2="310.5" y2="845.0" stroke-width="1.4"/>
<line x1="252.1" y1="873.7" x2="255.2" y2="881.8" stroke-width="1.0"/>
<line x1="316.5" y1="865.0" x2="319.7" y2="873.5" stroke-width="1.2"/>
<line x1="324.9" y1="880.8" x2="326.1" y2="884.0" stroke-width="1.0"/>
<line x1="321.7" y1="893.9" x2="323.6" y2="898.9" stroke-width="1.3"/>
<line x1="312.8" y1="856.6" x2="315.1" y2="862.5" stroke-width="1.2"/>
<line x1="289.1" y1="872.5" x2="291.2" y2="877.9" stroke-width="1.2"/>
<line x1="331.9" y1="839.6" x2="334.7" y2="847.1" stroke-width="1.6"/>
<line x1="282.9" y1="850.9" x2="286.4" y2="860.3" stroke-width="1.1"/>
<line x1="269.9" y1="863.2" x2="273.1" y2="871.8" stroke-width="1.0"/>
<line x1="284.1" y1="857.4" x2="287.8" y2="867.0" stroke-width="1.3"/>
<line x1="340.7" y1="847.8" x2="342.9" y2="853.5" stroke-width="1.5"/>
<line x1="310.8" y1="842.9" x2="318.9" y2="865.8" stroke-width="1.8"/>
<line x1="335.3" y1="841.3" x2="345.1" y2="860.9" stroke-width="2.0"/>
<line x1="338" y1="845" x2="344" y2="858" stroke-width="1.4"/>
<line x1="300" y1="845" x2="304" y2="856" stroke-width="1.2"/>
<line x1="290" y1="860" x2="296" y2="875" stroke-width="1.4"/>
<line x1="270" y1="862" x2="276" y2="880" stroke-width="1.3"/>
<line x1="258" y1="850" x2="262" y2="862" stroke-width="1.2"/>
<line x1="262" y1="880" x2="266" y2="892" stroke-width="1.3"/>
<line x1="282" y1="882" x2="286" y2="894" stroke-width="1.2"/>
<line x1="318" y1="878" x2="323" y2="890" stroke-width="1.3"/>
<line x1="330" y1="880" x2="334" y2="893" stroke-width="1.2"/>
<line x1="346" y1="880" x2="349" y2="892" stroke-width="1.2"/>
<line x1="253" y1="875" x2="256" y2="888" stroke-width="1.3"/>
<line x1="300" y1="868" x2="304" y2="880" stroke-width="1.2"/>
<line x1="276" y1="846" x2="279" y2="856" stroke-width="1.1"/>
<line x1="322" y1="850" x2="326" y2="860" stroke-width="1.1"/>
<line x1="350" y1="865" x2="354" y2="880" stroke-width="1.5"/>
</g>
</g>
<g clip-path="url(#cj4)">
<rect x="362.50" y="840.00" width="107.00" height="56.50" fill="#c2895e" stroke="none" stroke-width="1" />
<g filter="url(#soft)">
<ellipse cx="445" cy="855" rx="22" ry="12" fill="#bb8c74"/>
</g>
<rect x="362.50" y="840.00" width="107.00" height="56.50" fill="#000" stroke="none" stroke-width="1" filter="url(#sbr)" opacity="0.5"/>
<rect x="362.50" y="840.00" width="107.00" height="56.50" fill="#000" stroke="none" stroke-width="1" filter="url(#sbl)" opacity="0.5"/>
<rect x="362.50" y="840.00" width="107.00" height="56.50" fill="#000" stroke="none" stroke-width="1" filter="url(#swh)" opacity="0.35"/>
</g>
<rect x="249.50" y="777.40" width="107.00" height="56.60" fill="none" stroke="#333" stroke-width="1.2" />
<rect x="362.50" y="777.40" width="107.00" height="56.60" fill="none" stroke="#333" stroke-width="1.2" />
<rect x="249.50" y="840.00" width="107.00" height="56.50" fill="none" stroke="#333" stroke-width="1.2" />
<rect x="362.50" y="840.00" width="107.00" height="56.50" fill="none" stroke="#333" stroke-width="1.2" />
<text x="498.50" y="623.60" font-size="24" font-weight="bold" text-anchor="start" fill="#000" stroke="#000" stroke-width="0.25" >K</text>
<text x="0.00" y="0.00" font-size="12.6" font-weight="bold" text-anchor="middle" fill="#000" stroke="#000" stroke-width="0.25" transform="translate(490.5 729.0) rotate(-90)">H-score</text>
<line x1="522.30" y1="664.30" x2="522.30" y2="800.10" stroke="#000" stroke-width="2.0" />
<line x1="519.40" y1="799.10" x2="522.30" y2="799.10" stroke="#000" stroke-width="1.5" />
<text x="515.00" y="803.20" font-size="11.6" font-weight="bold" text-anchor="end" fill="#000" stroke="#000" stroke-width="0.25" >0</text>
<line x1="519.40" y1="776.75" x2="522.30" y2="776.75" stroke="#000" stroke-width="1.5" />
<text x="515.00" y="780.85" font-size="11.6" font-weight="bold" text-anchor="end" fill="#000" stroke="#000" stroke-width="0.25" >30</text>
<line x1="519.40" y1="754.40" x2="522.30" y2="754.40" stroke="#000" stroke-width="1.5" />
<text x="515.00" y="758.50" font-size="11.6" font-weight="bold" text-anchor="end" fill="#000" stroke="#000" stroke-width="0.25" >60</text>
<line x1="519.40" y1="732.05" x2="522.30" y2="732.05" stroke="#000" stroke-width="1.5" />
<text x="515.00" y="736.15" font-size="11.6" font-weight="bold" text-anchor="end" fill="#000" stroke="#000" stroke-width="0.25" >90</text>
<line x1="519.40" y1="709.70" x2="522.30" y2="709.70" stroke="#000" stroke-width="1.5" />
<text x="515.00" y="713.80" font-size="11.6" font-weight="bold" text-anchor="end" fill="#000" stroke="#000" stroke-width="0.25" >120</text>
<line x1="519.40" y1="687.35" x2="522.30" y2="687.35" stroke="#000" stroke-width="1.5" />
<text x="515.00" y="691.45" font-size="11.6" font-weight="bold" text-anchor="end" fill="#000" stroke="#000" stroke-width="0.25" >150</text>
<line x1="519.40" y1="665.00" x2="522.30" y2="665.00" stroke="#000" stroke-width="1.5" />
<text x="515.00" y="669.10" font-size="11.6" font-weight="bold" text-anchor="end" fill="#000" stroke="#000" stroke-width="0.25" >180</text>
<line x1="519.40" y1="799.10" x2="575.60" y2="799.10" stroke="#000" stroke-width="2.0" />
<line x1="536.90" y1="799.10" x2="536.90" y2="802.80" stroke="#000" stroke-width="1.5" />
<line x1="559.30" y1="799.10" x2="559.30" y2="802.80" stroke="#000" stroke-width="1.5" />
<text x="547.00" y="649.00" font-size="11.2" font-weight="bold" text-anchor="middle" fill="#000" stroke="#000" stroke-width="0.25" >BAF47</text>
<text x="545.40" y="665.40" font-size="11.8" font-weight="bold" text-anchor="middle" fill="#000" stroke="#000" stroke-width="0.25" >***</text>
<line x1="532.80" y1="666.20" x2="558.80" y2="666.20" stroke="#000" stroke-width="0.9" />
<circle cx="554.50" cy="686.90" r="2.70" fill="#a030e8" stroke="#000" stroke-width="0.5" />
<circle cx="563.90" cy="686.20" r="2.70" fill="#a030e8" stroke="#000" stroke-width="0.5" />
<circle cx="554.50" cy="692.80" r="2.70" fill="#a030e8" stroke="#000" stroke-width="0.5" />
<circle cx="563.90" cy="692.80" r="2.70" fill="#a030e8" stroke="#000" stroke-width="0.5" />
<circle cx="554.50" cy="701.50" r="2.70" fill="#a030e8" stroke="#000" stroke-width="0.5" />
<circle cx="563.90" cy="698.30" r="2.70" fill="#a030e8" stroke="#000" stroke-width="0.5" />
<line x1="550.10" y1="693.10" x2="568.30" y2="693.10" stroke="#000" stroke-width="1.8" />
<circle cx="536.90" cy="741.50" r="2.70" fill="#1414f0" stroke="none" stroke-width="1" />
<circle cx="536.90" cy="759.70" r="2.70" fill="#1414f0" stroke="none" stroke-width="1" />
<circle cx="536.90" cy="783.50" r="2.70" fill="#1414f0" stroke="none" stroke-width="1" />
<line x1="527.90" y1="761.60" x2="546.00" y2="761.60" stroke="#000" stroke-width="1.8" />
<line x1="616.80" y1="667.20" x2="616.80" y2="800.60" stroke="#000" stroke-width="2.0" />
<line x1="614.00" y1="799.60" x2="616.80" y2="799.60" stroke="#000" stroke-width="1.5" />
<text x="611.00" y="803.70" font-size="11.6" font-weight="bold" text-anchor="end" fill="#000" stroke="#000" stroke-width="0.25" >0</text>
<line x1="614.00" y1="773.28" x2="616.80" y2="773.28" stroke="#000" stroke-width="1.5" />
<text x="611.00" y="777.38" font-size="11.6" font-weight="bold" text-anchor="end" fill="#000" stroke="#000" stroke-width="0.25" >50</text>
<line x1="614.00" y1="746.96" x2="616.80" y2="746.96" stroke="#000" stroke-width="1.5" />
<text x="611.00" y="751.06" font-size="11.6" font-weight="bold" text-anchor="end" fill="#000" stroke="#000" stroke-width="0.25" >100</text>
<line x1="614.00" y1="720.64" x2="616.80" y2="720.64" stroke="#000" stroke-width="1.5" />
<text x="611.00" y="724.74" font-size="11.6" font-weight="bold" text-anchor="end" fill="#000" stroke="#000" stroke-width="0.25" >150</text>
<line x1="614.00" y1="694.32" x2="616.80" y2="694.32" stroke="#000" stroke-width="1.5" />
<text x="611.00" y="698.42" font-size="11.6" font-weight="bold" text-anchor="end" fill="#000" stroke="#000" stroke-width="0.25" >200</text>
<line x1="614.00" y1="668.00" x2="616.80" y2="668.00" stroke="#000" stroke-width="1.5" />
<text x="611.00" y="672.10" font-size="11.6" font-weight="bold" text-anchor="end" fill="#000" stroke="#000" stroke-width="0.25" >250</text>
<line x1="614.90" y1="799.60" x2="669.70" y2="799.60" stroke="#000" stroke-width="2.0" />
<line x1="631.70" y1="799.60" x2="631.70" y2="803.30" stroke="#000" stroke-width="1.5" />
<line x1="653.90" y1="799.60" x2="653.90" y2="803.30" stroke="#000" stroke-width="1.5" />
<text x="641.80" y="649.00" font-size="11.4" font-weight="bold" text-anchor="middle" fill="#000" stroke="#000" stroke-width="0.25" >SMARCE1</text>
<text x="640.90" y="665.20" font-size="11.0" font-weight="bold" text-anchor="middle" fill="#000" stroke="#000" stroke-width="0.25" >**</text>
<line x1="628.80" y1="665.80" x2="653.90" y2="665.80" stroke="#a0a0a0" stroke-width="1.5" />
<circle cx="654.10" cy="675.00" r="2.70" fill="#a030e8" stroke="#000" stroke-width="0.5" />
<circle cx="654.10" cy="685.20" r="2.70" fill="#a030e8" stroke="#000" stroke-width="0.5" />
<circle cx="654.10" cy="691.60" r="2.70" fill="#a030e8" stroke="#000" stroke-width="0.5" />
<circle cx="649.20" cy="703.00" r="2.70" fill="#a030e8" stroke="#000" stroke-width="0.5" />
<circle cx="654.10" cy="703.00" r="2.70" fill="#a030e8" stroke="#000" stroke-width="0.5" />
<circle cx="659.00" cy="703.00" r="2.70" fill="#a030e8" stroke="#000" stroke-width="0.5" />
<line x1="645.10" y1="693.50" x2="663.10" y2="693.50" stroke="#000" stroke-width="1.8" />
<circle cx="632.00" cy="715.00" r="2.70" fill="#1414f0" stroke="none" stroke-width="1" />
<circle cx="632.00" cy="720.50" r="2.70" fill="#1414f0" stroke="none" stroke-width="1" />
<circle cx="632.00" cy="734.40" r="2.70" fill="#1414f0" stroke="none" stroke-width="1" />
<line x1="623.20" y1="723.00" x2="640.80" y2="723.00" stroke="#000" stroke-width="1.8" />
<text x="0.00" y="0.00" font-size="10.5" font-weight="bold" text-anchor="middle" fill="#000" font-style="italic" stroke="#000" stroke-width="0.25" transform="translate(534.4 827.6) rotate(-67)">Control</text>
<text x="0.00" y="0.00" font-size="10.5" font-weight="bold" text-anchor="middle" fill="#000" font-style="italic" stroke="#000" stroke-width="0.25" transform="translate(556.6 829.3) rotate(-67)">TAK-981</text>
<text x="0.00" y="0.00" font-size="10.5" font-weight="bold" text-anchor="middle" fill="#000" font-style="italic" stroke="#000" stroke-width="0.25" transform="translate(629.9 827.3) rotate(-67)">Control</text>
<text x="0.00" y="0.00" font-size="10.5" font-weight="bold" text-anchor="middle" fill="#000" font-style="italic" stroke="#000" stroke-width="0.25" transform="translate(651.9 829.3) rotate(-67)">TAK-981</text>
</svg>
</body></html>
